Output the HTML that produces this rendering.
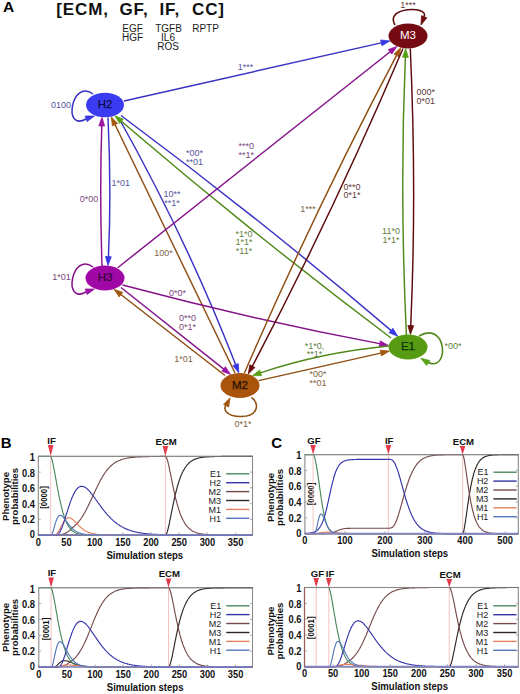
<!DOCTYPE html>
<html><head><meta charset="utf-8"><style>
html,body{margin:0;padding:0;background:#fff;width:520px;height:694px;overflow:hidden}
svg{display:block}
text{font-family:"Liberation Sans",sans-serif}
</style></head><body><svg width="520" height="694" viewBox="0 0 520 694"><rect width="520" height="694" fill="#fff"/><text x="3" y="11.9" font-size="15.5" font-weight="bold" fill="#000" font-family="Liberation Sans, sans-serif">A</text><text x="56.3" y="15.4" font-size="17" font-weight="bold" letter-spacing="0.9" fill="#111" font-family="Liberation Sans, sans-serif">[ECM,</text><text x="119.5" y="15.4" font-size="17" font-weight="bold" letter-spacing="0.9" fill="#111" font-family="Liberation Sans, sans-serif">GF,</text><text x="159.5" y="15.4" font-size="17" font-weight="bold" letter-spacing="0.9" fill="#111" font-family="Liberation Sans, sans-serif">IF,</text><text x="192" y="15.4" font-size="17" font-weight="bold" letter-spacing="0.9" fill="#111" font-family="Liberation Sans, sans-serif">CC]</text><text x="132.5" y="31.6" text-anchor="middle" font-size="10" fill="#1a1a1a" font-family="Liberation Sans, sans-serif">EGF</text><text x="132.5" y="40.9" text-anchor="middle" font-size="10" fill="#1a1a1a" font-family="Liberation Sans, sans-serif">HGF</text><text x="168.5" y="31.6" text-anchor="middle" font-size="10" fill="#1a1a1a" font-family="Liberation Sans, sans-serif">TGFB</text><text x="168" y="40.9" text-anchor="middle" font-size="10" fill="#1a1a1a" font-family="Liberation Sans, sans-serif">IL6</text><text x="168" y="49.6" text-anchor="middle" font-size="10" fill="#1a1a1a" font-family="Liberation Sans, sans-serif">ROS</text><text x="205.5" y="31.6" text-anchor="middle" font-size="10" fill="#1a1a1a" font-family="Liberation Sans, sans-serif">RPTP</text><path d="M124.0,101.0Q256.8,71.0 382.3,42.6" fill="none" stroke="#3a32c4" stroke-width="1.45"/><path d="M389.9,40.9L381.9,45.7L380.7,40.0Z" fill="#3636e2" stroke="#3636e2" stroke-width="0.8" stroke-linejoin="miter"/><path d="M108.0,117.5Q111.5,191.5 108.4,257.7" fill="none" stroke="#3a32c4" stroke-width="1.45"/><path d="M108.0,265.4L105.5,256.5L111.3,256.8Z" fill="#3636e2" stroke="#3636e2" stroke-width="0.8" stroke-linejoin="miter"/><path d="M102.0,266.0Q99.5,192.0 101.8,125.0" fill="none" stroke="#84128a" stroke-width="1.45"/><path d="M102.0,117.3L104.6,126.1L98.8,125.9Z" fill="#9c14a2" stroke="#9c14a2" stroke-width="0.8" stroke-linejoin="miter"/><path d="M118.5,117.5Q187.5,240.5 236.0,365.6" fill="none" stroke="#3a32c4" stroke-width="1.45"/><path d="M238.8,372.8L232.9,365.7L238.3,363.6Z" fill="#3636e2" stroke="#3636e2" stroke-width="0.8" stroke-linejoin="miter"/><path d="M121.0,115.5Q263.0,221.1 391.8,331.1" fill="none" stroke="#3a32c4" stroke-width="1.45"/><path d="M397.7,336.2L389.1,332.7L392.9,328.3Z" fill="#3636e2" stroke="#3636e2" stroke-width="0.8" stroke-linejoin="miter"/><path d="M391.0,338.0Q250.8,232.3 120.7,120.7" fill="none" stroke="#4e8818" stroke-width="1.45"/><path d="M114.8,115.7L123.3,119.2L119.6,123.6Z" fill="#58a016" stroke="#58a016" stroke-width="0.8" stroke-linejoin="miter"/><path d="M235.0,373.0Q173.7,246.0 114.6,123.8" fill="none" stroke="#8e4e12" stroke-width="1.45"/><path d="M111.2,116.7L117.6,123.4L112.4,125.9Z" fill="#a2580e" stroke="#a2580e" stroke-width="0.8" stroke-linejoin="miter"/><path d="M117.7,267.7Q256.6,157.6 390.8,51.2" fill="none" stroke="#84128a" stroke-width="1.45"/><path d="M396.9,46.4L391.8,54.1L388.2,49.6Z" fill="#9c14a2" stroke="#9c14a2" stroke-width="0.8" stroke-linejoin="miter"/><path d="M122.5,285.0Q254.6,320.1 380.8,343.9" fill="none" stroke="#84128a" stroke-width="1.45"/><path d="M388.5,345.4L379.3,346.6L380.3,340.9Z" fill="#9c14a2" stroke="#9c14a2" stroke-width="0.8" stroke-linejoin="miter"/><path d="M121.0,287.5Q175.5,330.8 224.4,369.6" fill="none" stroke="#84128a" stroke-width="1.45"/><path d="M230.5,374.4L221.8,371.2L225.4,366.7Z" fill="#9c14a2" stroke="#9c14a2" stroke-width="0.8" stroke-linejoin="miter"/><path d="M225.0,375.5Q170.0,332.8 120.2,294.0" fill="none" stroke="#8e4e12" stroke-width="1.45"/><path d="M114.0,289.3L122.8,292.4L119.2,296.9Z" fill="#a2580e" stroke="#a2580e" stroke-width="0.8" stroke-linejoin="miter"/><path d="M244.4,373.0Q315.9,208.0 397.0,54.6" fill="none" stroke="#8e4e12" stroke-width="1.45"/><path d="M400.7,47.7L399.1,56.8L394.0,54.1Z" fill="#a2580e" stroke="#a2580e" stroke-width="0.8" stroke-linejoin="miter"/><path d="M403.0,48.5Q332.5,214.2 251.9,367.1" fill="none" stroke="#5c0a0a" stroke-width="1.45"/><path d="M248.3,374.0L249.8,364.8L254.9,367.5Z" fill="#680c0c" stroke="#680c0c" stroke-width="0.8" stroke-linejoin="miter"/><path d="M406.4,335.0Q399.6,192.3 405.4,56.3" fill="none" stroke="#4e8818" stroke-width="1.45"/><path d="M405.7,48.5L408.3,57.4L402.5,57.2Z" fill="#58a016" stroke="#58a016" stroke-width="0.8" stroke-linejoin="miter"/><path d="M410.3,48.5Q416.8,191.2 410.7,326.6" fill="none" stroke="#5c0a0a" stroke-width="1.45"/><path d="M410.4,334.4L407.9,325.5L413.7,325.7Z" fill="#680c0c" stroke="#680c0c" stroke-width="0.8" stroke-linejoin="miter"/><path d="M388.5,346.0Q319.7,352.7 259.7,373.1" fill="none" stroke="#4e8818" stroke-width="1.45"/><path d="M252.4,375.7L259.7,370.1L261.6,375.6Z" fill="#58a016" stroke="#58a016" stroke-width="0.8" stroke-linejoin="miter"/><path d="M258.7,380.6Q324.4,365.8 381.8,352.9" fill="none" stroke="#8e4e12" stroke-width="1.45"/><path d="M389.4,351.1L381.4,355.9L380.2,350.2Z" fill="#a2580e" stroke="#a2580e" stroke-width="0.8" stroke-linejoin="miter"/><path d="M93,94 C72,78 62,132 86,119" fill="none" stroke="#3a32c4" stroke-width="1.55"/><path d="M94.5,116.0L87.1,121.5L85.2,116.0Z" fill="#3636e2" stroke="#3636e2" stroke-width="0.8" stroke-linejoin="miter"/><path d="M93,267 C72,251 62,305 86,292" fill="none" stroke="#84128a" stroke-width="1.55"/><path d="M94.5,289.0L87.1,294.5L85.2,289.0Z" fill="#9c14a2" stroke="#9c14a2" stroke-width="0.8" stroke-linejoin="miter"/><path d="M395,25 C384,6 430,6 424,16.5" fill="none" stroke="#5c0a0a" stroke-width="1.55"/><path d="M421.0,25.0L421.5,15.7L426.9,17.8Z" fill="#680c0c" stroke="#680c0c" stroke-width="0.8" stroke-linejoin="miter"/><path d="M419,336 C447,320 450,372 428,362.5" fill="none" stroke="#4e8818" stroke-width="1.55"/><path d="M420.8,358.2L429.8,360.5L426.6,365.4Z" fill="#58a016" stroke="#58a016" stroke-width="0.8" stroke-linejoin="miter"/><path d="M251.5,397.3 C260,404 258,416.5 241,416.5 C225,416.5 222.5,408 227,403.5" fill="none" stroke="#8e4e12" stroke-width="1.55"/><path d="M230.0,397.8L228.7,407.0L223.5,404.4Z" fill="#a2580e" stroke="#a2580e" stroke-width="0.8" stroke-linejoin="miter"/><ellipse cx="105" cy="105" rx="19" ry="12.2" fill="#3b3bf2"/><text x="105" y="108.2" text-anchor="middle" font-size="11.5" fill="#0d0d40" stroke="#0d0d40" stroke-width="0.25" font-family="Liberation Sans, sans-serif">H2</text><ellipse cx="408" cy="36" rx="19.5" ry="12.4" fill="#760a12"/><text x="408" y="39.2" text-anchor="middle" font-size="11.5" fill="#ffffff" stroke="#ffffff" stroke-width="0" font-family="Liberation Sans, sans-serif">M3</text><ellipse cx="105" cy="278" rx="19.5" ry="12.5" fill="#a008a6"/><text x="105" y="281.2" text-anchor="middle" font-size="11.5" fill="#330033" stroke="#330033" stroke-width="0.25" font-family="Liberation Sans, sans-serif">H3</text><ellipse cx="408" cy="347" rx="19.5" ry="12.5" fill="#579b12"/><text x="408" y="350.2" text-anchor="middle" font-size="11.5" fill="#0c300c" stroke="#0c300c" stroke-width="0.25" font-family="Liberation Sans, sans-serif">E1</text><ellipse cx="240" cy="385.5" rx="19.5" ry="12.5" fill="#a8540a"/><text x="240" y="388.7" text-anchor="middle" font-size="11.5" fill="#241000" stroke="#241000" stroke-width="0.25" font-family="Liberation Sans, sans-serif">M2</text><text x="61" y="108.2" text-anchor="middle" font-size="9" fill="#5656a0" font-family="Liberation Sans, sans-serif">0100</text><text x="245.5" y="69.9" text-anchor="middle" font-size="9" fill="#5656a0" font-family="Liberation Sans, sans-serif">1***</text><text x="120.7" y="186.2" text-anchor="middle" font-size="9" fill="#5656a0" font-family="Liberation Sans, sans-serif">1*01</text><text x="89" y="202.2" text-anchor="middle" font-size="9" fill="#7c447c" font-family="Liberation Sans, sans-serif">0*00</text><text x="194.4" y="156.2" text-anchor="middle" font-size="9" fill="#5656a0" font-family="Liberation Sans, sans-serif">*00*</text><text x="194.4" y="165.0" text-anchor="middle" font-size="9" fill="#5656a0" font-family="Liberation Sans, sans-serif">**01</text><text x="246.3" y="148.9" text-anchor="middle" font-size="9" fill="#7c447c" font-family="Liberation Sans, sans-serif">***0</text><text x="246.3" y="157.7" text-anchor="middle" font-size="9" fill="#7c447c" font-family="Liberation Sans, sans-serif">**1*</text><text x="172" y="196.7" text-anchor="middle" font-size="9" fill="#5656a0" font-family="Liberation Sans, sans-serif">10**</text><text x="172" y="205.5" text-anchor="middle" font-size="9" fill="#5656a0" font-family="Liberation Sans, sans-serif">**1*</text><text x="163.5" y="256.2" text-anchor="middle" font-size="9" fill="#7e6444" font-family="Liberation Sans, sans-serif">100*</text><text x="244" y="236.6" text-anchor="middle" font-size="9" fill="#62803e" font-family="Liberation Sans, sans-serif">*1*0</text><text x="244" y="245.4" text-anchor="middle" font-size="9" fill="#62803e" font-family="Liberation Sans, sans-serif">1*1*</text><text x="244" y="254.2" text-anchor="middle" font-size="9" fill="#62803e" font-family="Liberation Sans, sans-serif">*11*</text><text x="308" y="212.0" text-anchor="middle" font-size="9" fill="#7e6444" font-family="Liberation Sans, sans-serif">1***</text><text x="352" y="189.5" text-anchor="middle" font-size="9" fill="#5e3a3a" font-family="Liberation Sans, sans-serif">0**0</text><text x="352" y="198.3" text-anchor="middle" font-size="9" fill="#5e3a3a" font-family="Liberation Sans, sans-serif">0*1*</text><text x="391" y="234.2" text-anchor="middle" font-size="9" fill="#62803e" font-family="Liberation Sans, sans-serif">11*0</text><text x="391" y="243.0" text-anchor="middle" font-size="9" fill="#62803e" font-family="Liberation Sans, sans-serif">1*1*</text><text x="425.7" y="95.0" text-anchor="middle" font-size="9" fill="#5e3a3a" font-family="Liberation Sans, sans-serif">000*</text><text x="425.7" y="103.8" text-anchor="middle" font-size="9" fill="#5e3a3a" font-family="Liberation Sans, sans-serif">0*01</text><text x="408" y="7.7" text-anchor="middle" font-size="9" fill="#5e3a3a" font-family="Liberation Sans, sans-serif">1***</text><text x="61.6" y="280.2" text-anchor="middle" font-size="9" fill="#7c447c" font-family="Liberation Sans, sans-serif">1*01</text><text x="177.5" y="295.7" text-anchor="middle" font-size="9" fill="#7c447c" font-family="Liberation Sans, sans-serif">0*0*</text><text x="187.5" y="320.7" text-anchor="middle" font-size="9" fill="#7c447c" font-family="Liberation Sans, sans-serif">0**0</text><text x="187.5" y="329.5" text-anchor="middle" font-size="9" fill="#7c447c" font-family="Liberation Sans, sans-serif">0*1*</text><text x="183.5" y="362.2" text-anchor="middle" font-size="9" fill="#7e6444" font-family="Liberation Sans, sans-serif">1*01</text><text x="314.6" y="348.6" text-anchor="middle" font-size="9" fill="#62803e" font-family="Liberation Sans, sans-serif">*1*0,</text><text x="314.6" y="357.4" text-anchor="middle" font-size="9" fill="#62803e" font-family="Liberation Sans, sans-serif">**1*</text><text x="318" y="377.2" text-anchor="middle" font-size="9" fill="#7e6444" font-family="Liberation Sans, sans-serif">*00*</text><text x="318" y="386.0" text-anchor="middle" font-size="9" fill="#7e6444" font-family="Liberation Sans, sans-serif">**01</text><text x="453" y="349.2" text-anchor="middle" font-size="9" fill="#62803e" font-family="Liberation Sans, sans-serif">*00*</text><text x="243" y="426.9" text-anchor="middle" font-size="9" fill="#7e6444" font-family="Liberation Sans, sans-serif">0*1*</text><rect x="38.3" y="456.4" width="214.2" height="78.60000000000002" fill="none" stroke="#8a8a8a" stroke-width="1.1"/><line x1="38.3" y1="535.0" x2="40.8" y2="535.0" stroke="#9a9a9a" stroke-width="0.8"/><line x1="252.5" y1="535.0" x2="250.0" y2="535.0" stroke="#9a9a9a" stroke-width="0.8"/><text transform="translate(35,538.3) scale(1,1.12)" text-anchor="end" font-size="9.3" font-weight="bold" fill="#111" font-family="Liberation Sans, sans-serif">0</text><line x1="38.3" y1="519.3" x2="40.8" y2="519.3" stroke="#9a9a9a" stroke-width="0.8"/><line x1="252.5" y1="519.3" x2="250.0" y2="519.3" stroke="#9a9a9a" stroke-width="0.8"/><text transform="translate(35,522.9) scale(1,1.12)" text-anchor="end" font-size="9.3" font-weight="bold" fill="#111" font-family="Liberation Sans, sans-serif">0.2</text><line x1="38.3" y1="503.6" x2="40.8" y2="503.6" stroke="#9a9a9a" stroke-width="0.8"/><line x1="252.5" y1="503.6" x2="250.0" y2="503.6" stroke="#9a9a9a" stroke-width="0.8"/><text transform="translate(35,507.5) scale(1,1.12)" text-anchor="end" font-size="9.3" font-weight="bold" fill="#111" font-family="Liberation Sans, sans-serif">0.4</text><line x1="38.3" y1="487.8" x2="40.8" y2="487.8" stroke="#9a9a9a" stroke-width="0.8"/><line x1="252.5" y1="487.8" x2="250.0" y2="487.8" stroke="#9a9a9a" stroke-width="0.8"/><text transform="translate(35,492.0) scale(1,1.12)" text-anchor="end" font-size="9.3" font-weight="bold" fill="#111" font-family="Liberation Sans, sans-serif">0.6</text><line x1="38.3" y1="472.1" x2="40.8" y2="472.1" stroke="#9a9a9a" stroke-width="0.8"/><line x1="252.5" y1="472.1" x2="250.0" y2="472.1" stroke="#9a9a9a" stroke-width="0.8"/><text transform="translate(35,476.6) scale(1,1.12)" text-anchor="end" font-size="9.3" font-weight="bold" fill="#111" font-family="Liberation Sans, sans-serif">0.8</text><line x1="38.3" y1="456.4" x2="40.8" y2="456.4" stroke="#9a9a9a" stroke-width="0.8"/><line x1="252.5" y1="456.4" x2="250.0" y2="456.4" stroke="#9a9a9a" stroke-width="0.8"/><text transform="translate(35,461.2) scale(1,1.12)" text-anchor="end" font-size="9.3" font-weight="bold" fill="#111" font-family="Liberation Sans, sans-serif">1</text><line x1="38.3" y1="535" x2="38.3" y2="532.5" stroke="#9a9a9a" stroke-width="0.8"/><text transform="translate(38.3,545.5) scale(1,1.12)" text-anchor="middle" font-size="9.3" font-weight="bold" fill="#111" font-family="Liberation Sans, sans-serif">0</text><line x1="66.5" y1="535" x2="66.5" y2="532.5" stroke="#9a9a9a" stroke-width="0.8"/><text transform="translate(66.5,545.5) scale(1,1.12)" text-anchor="middle" font-size="9.3" font-weight="bold" fill="#111" font-family="Liberation Sans, sans-serif">50</text><line x1="94.7" y1="535" x2="94.7" y2="532.5" stroke="#9a9a9a" stroke-width="0.8"/><text transform="translate(94.7,545.5) scale(1,1.12)" text-anchor="middle" font-size="9.3" font-weight="bold" fill="#111" font-family="Liberation Sans, sans-serif">100</text><line x1="122.9" y1="535" x2="122.9" y2="532.5" stroke="#9a9a9a" stroke-width="0.8"/><text transform="translate(122.9,545.5) scale(1,1.12)" text-anchor="middle" font-size="9.3" font-weight="bold" fill="#111" font-family="Liberation Sans, sans-serif">150</text><line x1="151.0" y1="535" x2="151.0" y2="532.5" stroke="#9a9a9a" stroke-width="0.8"/><text transform="translate(151.0,545.5) scale(1,1.12)" text-anchor="middle" font-size="9.3" font-weight="bold" fill="#111" font-family="Liberation Sans, sans-serif">200</text><line x1="179.2" y1="535" x2="179.2" y2="532.5" stroke="#9a9a9a" stroke-width="0.8"/><text transform="translate(179.2,545.5) scale(1,1.12)" text-anchor="middle" font-size="9.3" font-weight="bold" fill="#111" font-family="Liberation Sans, sans-serif">250</text><line x1="207.4" y1="535" x2="207.4" y2="532.5" stroke="#9a9a9a" stroke-width="0.8"/><text transform="translate(207.4,545.5) scale(1,1.12)" text-anchor="middle" font-size="9.3" font-weight="bold" fill="#111" font-family="Liberation Sans, sans-serif">300</text><line x1="235.6" y1="535" x2="235.6" y2="532.5" stroke="#9a9a9a" stroke-width="0.8"/><text transform="translate(235.6,545.5) scale(1,1.12)" text-anchor="middle" font-size="9.3" font-weight="bold" fill="#111" font-family="Liberation Sans, sans-serif">350</text><text transform="translate(144.8,558.5) scale(1,1.14)" text-anchor="middle" font-size="9.6" font-weight="bold" fill="#111" font-family="Liberation Sans, sans-serif">Simulation steps</text><text transform="translate(5.2,496.5) rotate(-90)" x="0" y="3.3" text-anchor="middle" font-size="9.6" font-weight="bold" fill="#111" font-family="Liberation Sans, sans-serif">Phenotype</text><text transform="translate(14.5,496.5) rotate(-90)" x="0" y="3.3" text-anchor="middle" font-size="9.6" font-weight="bold" fill="#111" font-family="Liberation Sans, sans-serif">probabilities</text><text transform="translate(44.0,497.5) rotate(-90) scale(0.82,1)" x="0" y="3.4" text-anchor="middle" font-size="9.6" font-weight="bold" fill="#111" font-family="Liberation Sans, sans-serif">[0000]</text><line x1="50.7" y1="456.4" x2="50.7" y2="535" stroke="#f4b4b4" stroke-width="0.8"/><line x1="165.4" y1="456.4" x2="165.4" y2="535" stroke="#f4b4b4" stroke-width="0.8"/><polyline points="38.3,535.0 38.8,535.0 39.4,535.0 39.9,535.0 40.4,535.0 41.0,535.0 41.5,535.0 42.0,535.0 42.6,535.0 43.1,535.0 43.7,535.0 44.2,535.0 44.7,535.0 45.3,535.0 45.8,535.0 46.3,535.0 46.9,535.0 47.4,535.0 47.9,535.0 48.5,535.0 49.0,535.0 49.5,535.0 50.1,535.0 50.6,535.0 51.2,535.0 51.7,535.0 52.2,535.0 52.8,535.0 53.3,535.0 53.8,535.0 54.4,535.0 54.9,535.0 55.4,535.0 56.0,535.0 56.5,535.0 57.0,535.0 57.6,535.0 58.1,535.0 58.6,535.0 59.2,535.0 59.7,535.0 60.3,535.0 60.8,535.0 61.3,535.0 61.9,535.0 62.4,535.0 62.9,535.0 63.5,535.0 64.0,535.0 64.5,535.0 65.1,535.0 65.6,535.0 66.1,535.0 66.7,535.0 67.2,535.0 67.8,535.0 68.3,535.0 68.8,535.0 69.4,535.0 69.9,535.0 70.4,535.0 71.0,535.0 71.5,535.0 72.0,535.0 72.6,535.0 73.1,535.0 73.6,535.0 74.2,535.0 74.7,535.0 75.2,535.0 75.8,535.0 76.3,535.0 76.9,535.0 77.4,535.0 77.9,535.0 78.5,535.0 79.0,535.0 79.5,535.0 80.1,535.0 80.6,535.0 81.1,535.0 81.7,535.0 82.2,535.0 82.7,535.0 83.3,535.0 83.8,535.0 84.4,535.0 84.9,535.0 85.4,535.0 86.0,535.0 86.5,535.0 87.0,535.0 87.6,535.0 88.1,535.0 88.6,535.0 89.2,535.0 89.7,535.0 90.2,535.0 90.8,535.0 91.3,535.0 91.8,535.0 92.4,535.0 92.9,535.0 93.5,535.0 94.0,535.0 94.5,535.0 95.1,535.0 95.6,535.0 96.1,535.0 96.7,535.0 97.2,535.0 97.7,535.0 98.3,535.0 98.8,535.0 99.3,535.0 99.9,535.0 100.4,535.0 101.0,535.0 101.5,535.0 102.0,535.0 102.6,535.0 103.1,535.0 103.6,535.0 104.2,535.0 104.7,535.0 105.2,535.0 105.8,535.0 106.3,535.0 106.8,535.0 107.4,535.0 107.9,535.0 108.5,535.0 109.0,535.0 109.5,535.0 110.1,535.0 110.6,535.0 111.1,535.0 111.7,535.0 112.2,535.0 112.7,535.0 113.3,535.0 113.8,535.0 114.3,535.0 114.9,535.0 115.4,535.0 115.9,535.0 116.5,535.0 117.0,535.0 117.6,535.0 118.1,535.0 118.6,535.0 119.2,535.0 119.7,535.0 120.2,535.0 120.8,535.0 121.3,535.0 121.8,535.0 122.4,535.0 122.9,535.0 123.4,535.0 124.0,535.0 124.5,535.0 125.1,535.0 125.6,535.0 126.1,535.0 126.7,535.0 127.2,535.0 127.7,535.0 128.3,535.0 128.8,535.0 129.3,535.0 129.9,535.0 130.4,535.0 130.9,535.0 131.5,535.0 132.0,535.0 132.5,535.0 133.1,535.0 133.6,535.0 134.2,535.0 134.7,535.0 135.2,535.0 135.8,535.0 136.3,535.0 136.8,535.0 137.4,535.0 137.9,535.0 138.4,535.0 139.0,535.0 139.5,535.0 140.0,535.0 140.6,535.0 141.1,535.0 141.7,535.0 142.2,535.0 142.7,535.0 143.3,535.0 143.8,535.0 144.3,535.0 144.9,535.0 145.4,535.0 145.9,535.0 146.5,535.0 147.0,535.0 147.5,535.0 148.1,535.0 148.6,535.0 149.1,535.0 149.7,535.0 150.2,535.0 150.8,535.0 151.3,535.0 151.8,535.0 152.4,535.0 152.9,535.0 153.4,535.0 154.0,535.0 154.5,535.0 155.0,535.0 155.6,535.0 156.1,535.0 156.6,535.0 157.2,535.0 157.7,535.0 158.3,535.0 158.8,535.0 159.3,535.0 159.9,535.0 160.4,535.0 160.9,535.0 161.5,535.0 162.0,535.0 162.5,535.0 163.1,535.0 163.6,535.0 164.1,535.0 164.7,535.0 165.2,535.0 165.7,534.9 166.3,534.2 166.8,533.0 167.4,531.4 167.9,529.5 168.4,527.3 169.0,525.0 169.5,522.5 170.0,519.9 170.6,517.2 171.1,514.5 171.6,511.8 172.2,509.2 172.7,506.5 173.2,503.9 173.8,501.4 174.3,499.0 174.9,496.6 175.4,494.3 175.9,492.1 176.5,490.0 177.0,488.0 177.5,486.1 178.1,484.3 178.6,482.5 179.1,480.9 179.7,479.3 180.2,477.8 180.7,476.4 181.3,475.1 181.8,473.9 182.3,472.7 182.9,471.6 183.4,470.6 184.0,469.6 184.5,468.7 185.0,467.8 185.6,467.0 186.1,466.3 186.6,465.6 187.2,464.9 187.7,464.3 188.2,463.8 188.8,463.2 189.3,462.7 189.8,462.3 190.4,461.9 190.9,461.5 191.5,461.1 192.0,460.7 192.5,460.4 193.1,460.1 193.6,459.8 194.1,459.6 194.7,459.4 195.2,459.1 195.7,458.9 196.3,458.7 196.8,458.6 197.3,458.4 197.9,458.2 198.4,458.1 198.9,458.0 199.5,457.9 200.0,457.7 200.6,457.6 201.1,457.5 201.6,457.5 202.2,457.4 202.7,457.3 203.2,457.2 203.8,457.2 204.3,457.1 204.8,457.0 205.4,457.0 205.9,457.0 206.4,456.9 207.0,456.9 207.5,456.8 208.1,456.8 208.6,456.8 209.1,456.7 209.7,456.7 210.2,456.7 210.7,456.7 211.3,456.6 211.8,456.6 212.3,456.6 212.9,456.6 213.4,456.6 213.9,456.6 214.5,456.5 215.0,456.5 215.6,456.5 216.1,456.5 216.6,456.5 217.2,456.5 217.7,456.5 218.2,456.5 218.8,456.5 219.3,456.5 219.8,456.5 220.4,456.5 220.9,456.5 221.4,456.4 222.0,456.4 222.5,456.4 223.0,456.4 223.6,456.4 224.1,456.4 224.7,456.4 225.2,456.4 225.7,456.4 226.3,456.4 226.8,456.4 227.3,456.4 227.9,456.4 228.4,456.4 228.9,456.4 229.5,456.4 230.0,456.4 230.5,456.4 231.1,456.4 231.6,456.4 232.2,456.4 232.7,456.4 233.2,456.4 233.8,456.4 234.3,456.4 234.8,456.4 235.4,456.4 235.9,456.4 236.4,456.4 237.0,456.4 237.5,456.4 238.0,456.4 238.6,456.4 239.1,456.4 239.6,456.4 240.2,456.4 240.7,456.4 241.3,456.4 241.8,456.4 242.3,456.4 242.9,456.4 243.4,456.4 243.9,456.4 244.5,456.4 245.0,456.4 245.5,456.4 246.1,456.4 246.6,456.4 247.1,456.4 247.7,456.4 248.2,456.4 248.8,456.4 249.3,456.4 249.8,456.4 250.4,456.4 250.9,456.4 251.4,456.4 252.0,456.4 252.5,456.4" fill="none" stroke="#302626" stroke-width="1.15"/><polyline points="38.3,535.0 38.8,535.0 39.4,535.0 39.9,535.0 40.4,535.0 41.0,535.0 41.5,535.0 42.0,535.0 42.6,535.0 43.1,535.0 43.7,535.0 44.2,535.0 44.7,535.0 45.3,535.0 45.8,535.0 46.3,535.0 46.9,535.0 47.4,535.0 47.9,535.0 48.5,535.0 49.0,535.0 49.5,535.0 50.1,535.0 50.6,535.0 51.2,535.0 51.7,535.0 52.2,535.0 52.8,535.0 53.3,535.0 53.8,535.0 54.4,535.0 54.9,535.0 55.4,535.0 56.0,535.0 56.5,535.0 57.0,535.0 57.6,535.0 58.1,535.0 58.6,534.9 59.2,534.9 59.7,534.8 60.3,534.7 60.8,534.6 61.3,534.5 61.9,534.3 62.4,534.2 62.9,534.1 63.5,533.9 64.0,533.7 64.5,533.5 65.1,533.3 65.6,533.1 66.1,532.8 66.7,532.5 67.2,532.2 67.8,531.9 68.3,531.5 68.8,531.1 69.4,530.7 69.9,530.2 70.4,529.8 71.0,529.2 71.5,528.6 72.0,528.0 72.6,527.6 73.1,527.2 73.6,526.8 74.2,526.3 74.7,525.8 75.2,525.3 75.8,524.8 76.3,524.3 76.9,523.7 77.4,523.1 77.9,522.5 78.5,521.9 79.0,521.2 79.5,520.6 80.1,519.8 80.6,519.1 81.1,518.3 81.7,517.5 82.2,516.7 82.7,515.9 83.3,515.0 83.8,514.1 84.4,513.2 84.9,512.2 85.4,511.3 86.0,510.3 86.5,509.2 87.0,508.2 87.6,507.1 88.1,506.1 88.6,505.0 89.2,503.9 89.7,502.7 90.2,501.6 90.8,500.5 91.3,499.3 91.8,498.2 92.4,497.0 92.9,495.8 93.5,494.7 94.0,493.5 94.5,492.3 95.1,491.2 95.6,490.0 96.1,488.9 96.7,487.8 97.2,486.7 97.7,485.6 98.3,484.5 98.8,483.4 99.3,482.4 99.9,481.3 100.4,480.3 101.0,479.4 101.5,478.4 102.0,477.5 102.6,476.6 103.1,475.7 103.6,474.9 104.2,474.0 104.7,473.2 105.2,472.5 105.8,471.7 106.3,471.0 106.8,470.3 107.4,469.6 107.9,469.0 108.5,468.4 109.0,467.8 109.5,467.2 110.1,466.7 110.6,466.2 111.1,465.7 111.7,465.2 112.2,464.7 112.7,464.3 113.3,463.9 113.8,463.5 114.3,463.1 114.9,462.8 115.4,462.4 115.9,462.1 116.5,461.8 117.0,461.5 117.6,461.2 118.1,461.0 118.6,460.7 119.2,460.5 119.7,460.3 120.2,460.1 120.8,459.8 121.3,459.7 121.8,459.5 122.4,459.3 122.9,459.1 123.4,459.0 124.0,458.8 124.5,458.7 125.1,458.6 125.6,458.5 126.1,458.3 126.7,458.2 127.2,458.1 127.7,458.0 128.3,457.9 128.8,457.9 129.3,457.8 129.9,457.7 130.4,457.6 130.9,457.6 131.5,457.5 132.0,457.4 132.5,457.4 133.1,457.3 133.6,457.3 134.2,457.2 134.7,457.2 135.2,457.1 135.8,457.1 136.3,457.0 136.8,457.0 137.4,457.0 137.9,456.9 138.4,456.9 139.0,456.9 139.5,456.8 140.0,456.8 140.6,456.8 141.1,456.8 141.7,456.8 142.2,456.7 142.7,456.7 143.3,456.7 143.8,456.7 144.3,456.7 144.9,456.6 145.4,456.6 145.9,456.6 146.5,456.6 147.0,456.6 147.5,456.6 148.1,456.6 148.6,456.6 149.1,456.6 149.7,456.5 150.2,456.5 150.8,456.5 151.3,456.5 151.8,456.5 152.4,456.5 152.9,456.5 153.4,456.5 154.0,456.5 154.5,456.5 155.0,456.5 155.6,456.5 156.1,456.5 156.6,456.5 157.2,456.5 157.7,456.5 158.3,456.5 158.8,456.5 159.3,456.5 159.9,456.4 160.4,456.4 160.9,456.4 161.5,456.4 162.0,456.4 162.5,456.4 163.1,456.4 163.6,456.4 164.1,456.4 164.7,456.4 165.2,456.4 165.7,456.5 166.3,457.2 166.8,458.4 167.4,460.0 167.9,461.9 168.4,464.1 169.0,466.4 169.5,468.9 170.0,471.5 170.6,474.2 171.1,476.9 171.6,479.6 172.2,482.2 172.7,484.9 173.2,487.5 173.8,490.0 174.3,492.4 174.9,494.8 175.4,497.1 175.9,499.3 176.5,501.4 177.0,503.4 177.5,505.3 178.1,507.1 178.6,508.9 179.1,510.5 179.7,512.1 180.2,513.6 180.7,515.0 181.3,516.3 181.8,517.5 182.3,518.7 182.9,519.8 183.4,520.8 184.0,521.8 184.5,522.7 185.0,523.6 185.6,524.4 186.1,525.1 186.6,525.8 187.2,526.5 187.7,527.1 188.2,527.6 188.8,528.2 189.3,528.7 189.8,529.1 190.4,529.5 190.9,529.9 191.5,530.3 192.0,530.7 192.5,531.0 193.1,531.3 193.6,531.6 194.1,531.8 194.7,532.0 195.2,532.3 195.7,532.5 196.3,532.7 196.8,532.8 197.3,533.0 197.9,533.2 198.4,533.3 198.9,533.4 199.5,533.5 200.0,533.7 200.6,533.8 201.1,533.9 201.6,533.9 202.2,534.0 202.7,534.1 203.2,534.2 203.8,534.2 204.3,534.3 204.8,534.4 205.4,534.4 205.9,534.4 206.4,534.5 207.0,534.5 207.5,534.6 208.1,534.6 208.6,534.6 209.1,534.7 209.7,534.7 210.2,534.7 210.7,534.7 211.3,534.8 211.8,534.8 212.3,534.8 212.9,534.8 213.4,534.8 213.9,534.8 214.5,534.9 215.0,534.9 215.6,534.9 216.1,534.9 216.6,534.9 217.2,534.9 217.7,534.9 218.2,534.9 218.8,534.9 219.3,534.9 219.8,534.9 220.4,534.9 220.9,534.9 221.4,535.0 222.0,535.0 222.5,535.0 223.0,535.0 223.6,535.0 224.1,535.0 224.7,535.0 225.2,535.0 225.7,535.0 226.3,535.0 226.8,535.0 227.3,535.0 227.9,535.0 228.4,535.0 228.9,535.0 229.5,535.0 230.0,535.0 230.5,535.0 231.1,535.0 231.6,535.0 232.2,535.0 232.7,535.0 233.2,535.0 233.8,535.0 234.3,535.0 234.8,535.0 235.4,535.0 235.9,535.0 236.4,535.0 237.0,535.0 237.5,535.0 238.0,535.0 238.6,535.0 239.1,535.0 239.6,535.0 240.2,535.0 240.7,535.0 241.3,535.0 241.8,535.0 242.3,535.0 242.9,535.0 243.4,535.0 243.9,535.0 244.5,535.0 245.0,535.0 245.5,535.0 246.1,535.0 246.6,535.0 247.1,535.0 247.7,535.0 248.2,535.0 248.8,535.0 249.3,535.0 249.8,535.0 250.4,535.0 250.9,535.0 251.4,535.0 252.0,535.0 252.5,535.0" fill="none" stroke="#744a4a" stroke-width="1.15"/><polyline points="38.3,456.4 38.8,456.4 39.4,456.4 39.9,456.4 40.4,456.4 41.0,456.4 41.5,456.4 42.0,456.4 42.6,456.4 43.1,456.4 43.7,456.4 44.2,456.4 44.7,456.4 45.3,456.4 45.8,456.4 46.3,456.4 46.9,456.4 47.4,456.4 47.9,456.4 48.5,456.4 49.0,456.4 49.5,456.4 50.1,456.4 50.6,456.4 51.2,457.1 51.7,458.6 52.2,460.6 52.8,462.9 53.3,465.4 53.8,468.1 54.4,470.9 54.9,473.8 55.4,476.8 56.0,479.7 56.5,482.7 57.0,485.6 57.6,488.5 58.1,491.3 58.6,494.1 59.2,496.7 59.7,499.3 60.3,501.7 60.8,504.1 61.3,506.3 61.9,508.4 62.4,510.5 62.9,512.4 63.5,514.2 64.0,515.9 64.5,517.4 65.1,518.9 65.6,520.3 66.1,521.6 66.7,522.8 67.2,523.9 67.8,524.9 68.3,525.8 68.8,526.7 69.4,527.5 69.9,528.2 70.4,528.9 71.0,529.5 71.5,530.0 72.0,530.5 72.6,531.0 73.1,531.4 73.6,531.8 74.2,532.1 74.7,532.4 75.2,532.7 75.8,533.0 76.3,533.2 76.9,533.4 77.4,533.6 77.9,533.7 78.5,533.9 79.0,534.0 79.5,534.1 80.1,534.2 80.6,534.3 81.1,534.4 81.7,534.5 82.2,534.5 82.7,534.6 83.3,534.6 83.8,534.7 84.4,534.7 84.9,534.8 85.4,534.8 86.0,534.8 86.5,534.8 87.0,534.9 87.6,534.9 88.1,534.9 88.6,534.9 89.2,534.9 89.7,534.9 90.2,534.9 90.8,535.0 91.3,535.0 91.8,535.0 92.4,535.0 92.9,535.0 93.5,535.0 94.0,535.0 94.5,535.0 95.1,535.0 95.6,535.0 96.1,535.0 96.7,535.0 97.2,535.0 97.7,535.0 98.3,535.0 98.8,535.0 99.3,535.0 99.9,535.0 100.4,535.0 101.0,535.0 101.5,535.0 102.0,535.0 102.6,535.0 103.1,535.0 103.6,535.0 104.2,535.0 104.7,535.0 105.2,535.0 105.8,535.0 106.3,535.0 106.8,535.0 107.4,535.0 107.9,535.0 108.5,535.0 109.0,535.0 109.5,535.0 110.1,535.0 110.6,535.0 111.1,535.0 111.7,535.0 112.2,535.0 112.7,535.0 113.3,535.0 113.8,535.0 114.3,535.0 114.9,535.0 115.4,535.0 115.9,535.0 116.5,535.0 117.0,535.0 117.6,535.0 118.1,535.0 118.6,535.0 119.2,535.0 119.7,535.0 120.2,535.0 120.8,535.0 121.3,535.0 121.8,535.0 122.4,535.0 122.9,535.0 123.4,535.0 124.0,535.0 124.5,535.0 125.1,535.0 125.6,535.0 126.1,535.0 126.7,535.0 127.2,535.0 127.7,535.0 128.3,535.0 128.8,535.0 129.3,535.0 129.9,535.0 130.4,535.0 130.9,535.0 131.5,535.0 132.0,535.0 132.5,535.0 133.1,535.0 133.6,535.0 134.2,535.0 134.7,535.0 135.2,535.0 135.8,535.0 136.3,535.0 136.8,535.0 137.4,535.0 137.9,535.0 138.4,535.0 139.0,535.0 139.5,535.0 140.0,535.0 140.6,535.0 141.1,535.0 141.7,535.0 142.2,535.0 142.7,535.0 143.3,535.0 143.8,535.0 144.3,535.0 144.9,535.0 145.4,535.0 145.9,535.0 146.5,535.0 147.0,535.0 147.5,535.0 148.1,535.0 148.6,535.0 149.1,535.0 149.7,535.0 150.2,535.0 150.8,535.0 151.3,535.0 151.8,535.0 152.4,535.0 152.9,535.0 153.4,535.0 154.0,535.0 154.5,535.0 155.0,535.0 155.6,535.0 156.1,535.0 156.6,535.0 157.2,535.0 157.7,535.0 158.3,535.0 158.8,535.0 159.3,535.0 159.9,535.0 160.4,535.0 160.9,535.0 161.5,535.0 162.0,535.0 162.5,535.0 163.1,535.0 163.6,535.0 164.1,535.0 164.7,535.0 165.2,535.0 165.7,535.0 166.3,535.0 166.8,535.0 167.4,535.0 167.9,535.0 168.4,535.0 169.0,535.0 169.5,535.0 170.0,535.0 170.6,535.0 171.1,535.0 171.6,535.0 172.2,535.0 172.7,535.0 173.2,535.0 173.8,535.0 174.3,535.0 174.9,535.0 175.4,535.0 175.9,535.0 176.5,535.0 177.0,535.0 177.5,535.0 178.1,535.0 178.6,535.0 179.1,535.0 179.7,535.0 180.2,535.0 180.7,535.0 181.3,535.0 181.8,535.0 182.3,535.0 182.9,535.0 183.4,535.0 184.0,535.0 184.5,535.0 185.0,535.0 185.6,535.0 186.1,535.0 186.6,535.0 187.2,535.0 187.7,535.0 188.2,535.0 188.8,535.0 189.3,535.0 189.8,535.0 190.4,535.0 190.9,535.0 191.5,535.0 192.0,535.0 192.5,535.0 193.1,535.0 193.6,535.0 194.1,535.0 194.7,535.0 195.2,535.0 195.7,535.0 196.3,535.0 196.8,535.0 197.3,535.0 197.9,535.0 198.4,535.0 198.9,535.0 199.5,535.0 200.0,535.0 200.6,535.0 201.1,535.0 201.6,535.0 202.2,535.0 202.7,535.0 203.2,535.0 203.8,535.0 204.3,535.0 204.8,535.0 205.4,535.0 205.9,535.0 206.4,535.0 207.0,535.0 207.5,535.0 208.1,535.0 208.6,535.0 209.1,535.0 209.7,535.0 210.2,535.0 210.7,535.0 211.3,535.0 211.8,535.0 212.3,535.0 212.9,535.0 213.4,535.0 213.9,535.0 214.5,535.0 215.0,535.0 215.6,535.0 216.1,535.0 216.6,535.0 217.2,535.0 217.7,535.0 218.2,535.0 218.8,535.0 219.3,535.0 219.8,535.0 220.4,535.0 220.9,535.0 221.4,535.0 222.0,535.0 222.5,535.0 223.0,535.0 223.6,535.0 224.1,535.0 224.7,535.0 225.2,535.0 225.7,535.0 226.3,535.0 226.8,535.0 227.3,535.0 227.9,535.0 228.4,535.0 228.9,535.0 229.5,535.0 230.0,535.0 230.5,535.0 231.1,535.0 231.6,535.0 232.2,535.0 232.7,535.0 233.2,535.0 233.8,535.0 234.3,535.0 234.8,535.0 235.4,535.0 235.9,535.0 236.4,535.0 237.0,535.0 237.5,535.0 238.0,535.0 238.6,535.0 239.1,535.0 239.6,535.0 240.2,535.0 240.7,535.0 241.3,535.0 241.8,535.0 242.3,535.0 242.9,535.0 243.4,535.0 243.9,535.0 244.5,535.0 245.0,535.0 245.5,535.0 246.1,535.0 246.6,535.0 247.1,535.0 247.7,535.0 248.2,535.0 248.8,535.0 249.3,535.0 249.8,535.0 250.4,535.0 250.9,535.0 251.4,535.0 252.0,535.0 252.5,535.0" fill="none" stroke="#4a8a5c" stroke-width="1.15"/><polyline points="38.3,535.0 38.8,535.0 39.4,535.0 39.9,535.0 40.4,535.0 41.0,535.0 41.5,535.0 42.0,535.0 42.6,535.0 43.1,535.0 43.7,535.0 44.2,535.0 44.7,535.0 45.3,535.0 45.8,535.0 46.3,535.0 46.9,535.0 47.4,535.0 47.9,535.0 48.5,535.0 49.0,535.0 49.5,535.0 50.1,535.0 50.6,535.0 51.2,535.0 51.7,535.0 52.2,535.0 52.8,535.0 53.3,535.0 53.8,535.0 54.4,534.9 54.9,534.8 55.4,534.7 56.0,534.4 56.5,534.0 57.0,533.5 57.6,532.9 58.1,532.1 58.6,531.3 59.2,530.4 59.7,529.4 60.3,528.4 60.8,527.3 61.3,526.2 61.9,525.2 62.4,524.1 62.9,523.1 63.5,522.2 64.0,521.3 64.5,520.6 65.1,519.9 65.6,519.3 66.1,518.8 66.7,518.4 67.2,518.1 67.8,517.9 68.3,517.7 68.8,517.7 69.4,517.8 69.9,517.9 70.4,518.1 71.0,518.4 71.5,518.7 72.0,519.1 72.6,519.5 73.1,519.9 73.6,520.4 74.2,520.9 74.7,521.4 75.2,522.0 75.8,522.5 76.3,523.1 76.9,523.6 77.4,524.2 77.9,524.7 78.5,525.3 79.0,525.8 79.5,526.3 80.1,526.8 80.6,527.3 81.1,527.8 81.7,528.2 82.2,528.7 82.7,529.1 83.3,529.5 83.8,529.8 84.4,530.2 84.9,530.5 85.4,530.9 86.0,531.2 86.5,531.4 87.0,531.7 87.6,531.9 88.1,532.2 88.6,532.4 89.2,532.6 89.7,532.8 90.2,533.0 90.8,533.1 91.3,533.3 91.8,533.4 92.4,533.6 92.9,533.7 93.5,533.8 94.0,533.9 94.5,534.0 95.1,534.1 95.6,534.2 96.1,534.2 96.7,534.3 97.2,534.4 97.7,534.4 98.3,534.5 98.8,534.5 99.3,534.6 99.9,534.6 100.4,534.6 101.0,534.7 101.5,534.7 102.0,534.7 102.6,534.8 103.1,534.8 103.6,534.8 104.2,534.8 104.7,534.8 105.2,534.9 105.8,534.9 106.3,534.9 106.8,534.9 107.4,534.9 107.9,534.9 108.5,534.9 109.0,534.9 109.5,534.9 110.1,534.9 110.6,534.9 111.1,535.0 111.7,535.0 112.2,535.0 112.7,535.0 113.3,535.0 113.8,535.0 114.3,535.0 114.9,535.0 115.4,535.0 115.9,535.0 116.5,535.0 117.0,535.0 117.6,535.0 118.1,535.0 118.6,535.0 119.2,535.0 119.7,535.0 120.2,535.0 120.8,535.0 121.3,535.0 121.8,535.0 122.4,535.0 122.9,535.0 123.4,535.0 124.0,535.0 124.5,535.0 125.1,535.0 125.6,535.0 126.1,535.0 126.7,535.0 127.2,535.0 127.7,535.0 128.3,535.0 128.8,535.0 129.3,535.0 129.9,535.0 130.4,535.0 130.9,535.0 131.5,535.0 132.0,535.0 132.5,535.0 133.1,535.0 133.6,535.0 134.2,535.0 134.7,535.0 135.2,535.0 135.8,535.0 136.3,535.0 136.8,535.0 137.4,535.0 137.9,535.0 138.4,535.0 139.0,535.0 139.5,535.0 140.0,535.0 140.6,535.0 141.1,535.0 141.7,535.0 142.2,535.0 142.7,535.0 143.3,535.0 143.8,535.0 144.3,535.0 144.9,535.0 145.4,535.0 145.9,535.0 146.5,535.0 147.0,535.0 147.5,535.0 148.1,535.0 148.6,535.0 149.1,535.0 149.7,535.0 150.2,535.0 150.8,535.0 151.3,535.0 151.8,535.0 152.4,535.0 152.9,535.0 153.4,535.0 154.0,535.0 154.5,535.0 155.0,535.0 155.6,535.0 156.1,535.0 156.6,535.0 157.2,535.0 157.7,535.0 158.3,535.0 158.8,535.0 159.3,535.0 159.9,535.0 160.4,535.0 160.9,535.0 161.5,535.0 162.0,535.0 162.5,535.0 163.1,535.0 163.6,535.0 164.1,535.0 164.7,535.0 165.2,535.0 165.7,535.0 166.3,535.0 166.8,535.0 167.4,535.0 167.9,535.0 168.4,535.0 169.0,535.0 169.5,535.0 170.0,535.0 170.6,535.0 171.1,535.0 171.6,535.0 172.2,535.0 172.7,535.0 173.2,535.0 173.8,535.0 174.3,535.0 174.9,535.0 175.4,535.0 175.9,535.0 176.5,535.0 177.0,535.0 177.5,535.0 178.1,535.0 178.6,535.0 179.1,535.0 179.7,535.0 180.2,535.0 180.7,535.0 181.3,535.0 181.8,535.0 182.3,535.0 182.9,535.0 183.4,535.0 184.0,535.0 184.5,535.0 185.0,535.0 185.6,535.0 186.1,535.0 186.6,535.0 187.2,535.0 187.7,535.0 188.2,535.0 188.8,535.0 189.3,535.0 189.8,535.0 190.4,535.0 190.9,535.0 191.5,535.0 192.0,535.0 192.5,535.0 193.1,535.0 193.6,535.0 194.1,535.0 194.7,535.0 195.2,535.0 195.7,535.0 196.3,535.0 196.8,535.0 197.3,535.0 197.9,535.0 198.4,535.0 198.9,535.0 199.5,535.0 200.0,535.0 200.6,535.0 201.1,535.0 201.6,535.0 202.2,535.0 202.7,535.0 203.2,535.0 203.8,535.0 204.3,535.0 204.8,535.0 205.4,535.0 205.9,535.0 206.4,535.0 207.0,535.0 207.5,535.0 208.1,535.0 208.6,535.0 209.1,535.0 209.7,535.0 210.2,535.0 210.7,535.0 211.3,535.0 211.8,535.0 212.3,535.0 212.9,535.0 213.4,535.0 213.9,535.0 214.5,535.0 215.0,535.0 215.6,535.0 216.1,535.0 216.6,535.0 217.2,535.0 217.7,535.0 218.2,535.0 218.8,535.0 219.3,535.0 219.8,535.0 220.4,535.0 220.9,535.0 221.4,535.0 222.0,535.0 222.5,535.0 223.0,535.0 223.6,535.0 224.1,535.0 224.7,535.0 225.2,535.0 225.7,535.0 226.3,535.0 226.8,535.0 227.3,535.0 227.9,535.0 228.4,535.0 228.9,535.0 229.5,535.0 230.0,535.0 230.5,535.0 231.1,535.0 231.6,535.0 232.2,535.0 232.7,535.0 233.2,535.0 233.8,535.0 234.3,535.0 234.8,535.0 235.4,535.0 235.9,535.0 236.4,535.0 237.0,535.0 237.5,535.0 238.0,535.0 238.6,535.0 239.1,535.0 239.6,535.0 240.2,535.0 240.7,535.0 241.3,535.0 241.8,535.0 242.3,535.0 242.9,535.0 243.4,535.0 243.9,535.0 244.5,535.0 245.0,535.0 245.5,535.0 246.1,535.0 246.6,535.0 247.1,535.0 247.7,535.0 248.2,535.0 248.8,535.0 249.3,535.0 249.8,535.0 250.4,535.0 250.9,535.0 251.4,535.0 252.0,535.0 252.5,535.0" fill="none" stroke="#e6805e" stroke-width="1.15"/><polyline points="38.3,535.0 38.8,535.0 39.4,535.0 39.9,535.0 40.4,535.0 41.0,535.0 41.5,535.0 42.0,535.0 42.6,535.0 43.1,535.0 43.7,535.0 44.2,535.0 44.7,535.0 45.3,535.0 45.8,535.0 46.3,535.0 46.9,535.0 47.4,535.0 47.9,535.0 48.5,535.0 49.0,535.0 49.5,535.0 50.1,535.0 50.6,535.0 51.2,535.0 51.7,535.0 52.2,535.0 52.8,535.0 53.3,535.0 53.8,535.0 54.4,535.0 54.9,535.0 55.4,535.0 56.0,535.0 56.5,534.9 57.0,534.7 57.6,534.5 58.1,534.1 58.6,533.6 59.2,532.9 59.7,532.1 60.3,531.2 60.8,530.1 61.3,529.0 61.9,527.7 62.4,526.3 62.9,524.9 63.5,523.4 64.0,521.8 64.5,520.1 65.1,518.5 65.6,516.8 66.1,515.0 66.7,513.3 67.2,511.6 67.8,509.9 68.3,508.2 68.8,506.6 69.4,505.0 69.9,503.4 70.4,501.9 71.0,500.4 71.5,499.0 72.0,497.7 72.6,496.4 73.1,495.2 73.6,494.1 74.2,493.1 74.7,492.1 75.2,491.2 75.8,490.4 76.3,489.6 76.9,489.0 77.4,488.4 77.9,487.9 78.5,487.4 79.0,487.1 79.5,486.8 80.1,486.6 80.6,486.4 81.1,486.3 81.7,486.3 82.2,486.3 82.7,486.4 83.3,486.5 83.8,486.7 84.4,486.9 84.9,487.2 85.4,487.6 86.0,487.9 86.5,488.4 87.0,488.8 87.6,489.3 88.1,489.8 88.6,490.4 89.2,490.9 89.7,491.5 90.2,492.2 90.8,492.8 91.3,493.5 91.8,494.1 92.4,494.8 92.9,495.5 93.5,496.3 94.0,497.0 94.5,497.7 95.1,498.5 95.6,499.2 96.1,500.0 96.7,500.7 97.2,501.5 97.7,502.2 98.3,503.0 98.8,503.7 99.3,504.4 99.9,505.2 100.4,505.9 101.0,506.6 101.5,507.4 102.0,508.1 102.6,508.8 103.1,509.5 103.6,510.2 104.2,510.8 104.7,511.5 105.2,512.2 105.8,512.8 106.3,513.4 106.8,514.1 107.4,514.7 107.9,515.3 108.5,515.9 109.0,516.4 109.5,517.0 110.1,517.6 110.6,518.1 111.1,518.6 111.7,519.1 112.2,519.7 112.7,520.1 113.3,520.6 113.8,521.1 114.3,521.5 114.9,522.0 115.4,522.4 115.9,522.8 116.5,523.3 117.0,523.7 117.6,524.0 118.1,524.4 118.6,524.8 119.2,525.1 119.7,525.5 120.2,525.8 120.8,526.1 121.3,526.5 121.8,526.8 122.4,527.1 122.9,527.3 123.4,527.6 124.0,527.9 124.5,528.2 125.1,528.4 125.6,528.7 126.1,528.9 126.7,529.1 127.2,529.3 127.7,529.6 128.3,529.8 128.8,530.0 129.3,530.1 129.9,530.3 130.4,530.5 130.9,530.7 131.5,530.9 132.0,531.0 132.5,531.2 133.1,531.3 133.6,531.5 134.2,531.6 134.7,531.7 135.2,531.9 135.8,532.0 136.3,532.1 136.8,532.2 137.4,532.3 137.9,532.4 138.4,532.6 139.0,532.6 139.5,532.7 140.0,532.8 140.6,532.9 141.1,533.0 141.7,533.1 142.2,533.2 142.7,533.2 143.3,533.3 143.8,533.4 144.3,533.5 144.9,533.5 145.4,533.6 145.9,533.6 146.5,533.7 147.0,533.8 147.5,533.8 148.1,533.9 148.6,533.9 149.1,534.0 149.7,534.0 150.2,534.0 150.8,534.1 151.3,534.1 151.8,534.2 152.4,534.2 152.9,534.2 153.4,534.3 154.0,534.3 154.5,534.3 155.0,534.4 155.6,534.4 156.1,534.4 156.6,534.4 157.2,534.5 157.7,534.5 158.3,534.5 158.8,534.5 159.3,534.5 159.9,534.6 160.4,534.6 160.9,534.6 161.5,534.6 162.0,534.6 162.5,534.7 163.1,534.7 163.6,534.7 164.1,534.7 164.7,534.7 165.2,534.7 165.7,534.7 166.3,534.8 166.8,534.8 167.4,534.8 167.9,534.8 168.4,534.8 169.0,534.8 169.5,534.8 170.0,534.8 170.6,534.8 171.1,534.8 171.6,534.8 172.2,534.9 172.7,534.9 173.2,534.9 173.8,534.9 174.3,534.9 174.9,534.9 175.4,534.9 175.9,534.9 176.5,534.9 177.0,534.9 177.5,534.9 178.1,534.9 178.6,534.9 179.1,534.9 179.7,534.9 180.2,534.9 180.7,534.9 181.3,534.9 181.8,534.9 182.3,534.9 182.9,534.9 183.4,534.9 184.0,534.9 184.5,535.0 185.0,535.0 185.6,535.0 186.1,535.0 186.6,535.0 187.2,535.0 187.7,535.0 188.2,535.0 188.8,535.0 189.3,535.0 189.8,535.0 190.4,535.0 190.9,535.0 191.5,535.0 192.0,535.0 192.5,535.0 193.1,535.0 193.6,535.0 194.1,535.0 194.7,535.0 195.2,535.0 195.7,535.0 196.3,535.0 196.8,535.0 197.3,535.0 197.9,535.0 198.4,535.0 198.9,535.0 199.5,535.0 200.0,535.0 200.6,535.0 201.1,535.0 201.6,535.0 202.2,535.0 202.7,535.0 203.2,535.0 203.8,535.0 204.3,535.0 204.8,535.0 205.4,535.0 205.9,535.0 206.4,535.0 207.0,535.0 207.5,535.0 208.1,535.0 208.6,535.0 209.1,535.0 209.7,535.0 210.2,535.0 210.7,535.0 211.3,535.0 211.8,535.0 212.3,535.0 212.9,535.0 213.4,535.0 213.9,535.0 214.5,535.0 215.0,535.0 215.6,535.0 216.1,535.0 216.6,535.0 217.2,535.0 217.7,535.0 218.2,535.0 218.8,535.0 219.3,535.0 219.8,535.0 220.4,535.0 220.9,535.0 221.4,535.0 222.0,535.0 222.5,535.0 223.0,535.0 223.6,535.0 224.1,535.0 224.7,535.0 225.2,535.0 225.7,535.0 226.3,535.0 226.8,535.0 227.3,535.0 227.9,535.0 228.4,535.0 228.9,535.0 229.5,535.0 230.0,535.0 230.5,535.0 231.1,535.0 231.6,535.0 232.2,535.0 232.7,535.0 233.2,535.0 233.8,535.0 234.3,535.0 234.8,535.0 235.4,535.0 235.9,535.0 236.4,535.0 237.0,535.0 237.5,535.0 238.0,535.0 238.6,535.0 239.1,535.0 239.6,535.0 240.2,535.0 240.7,535.0 241.3,535.0 241.8,535.0 242.3,535.0 242.9,535.0 243.4,535.0 243.9,535.0 244.5,535.0 245.0,535.0 245.5,535.0 246.1,535.0 246.6,535.0 247.1,535.0 247.7,535.0 248.2,535.0 248.8,535.0 249.3,535.0 249.8,535.0 250.4,535.0 250.9,535.0 251.4,535.0 252.0,535.0 252.5,535.0" fill="none" stroke="#3434a8" stroke-width="1.15"/><polyline points="38.3,535.0 38.8,535.0 39.4,535.0 39.9,535.0 40.4,535.0 41.0,535.0 41.5,535.0 42.0,535.0 42.6,535.0 43.1,535.0 43.7,535.0 44.2,535.0 44.7,535.0 45.3,535.0 45.8,535.0 46.3,535.0 46.9,535.0 47.4,535.0 47.9,535.0 48.5,535.0 49.0,535.0 49.5,535.0 50.1,535.0 50.6,535.0 51.2,534.9 51.7,534.4 52.2,533.4 52.8,532.0 53.3,530.4 53.8,528.6 54.4,526.7 54.9,524.8 55.4,523.1 56.0,521.4 56.5,520.0 57.0,518.7 57.6,517.6 58.1,516.8 58.6,516.1 59.2,515.7 59.7,515.4 60.3,515.4 60.8,515.4 61.3,515.6 61.9,515.9 62.4,516.4 62.9,516.9 63.5,517.5 64.0,518.1 64.5,518.8 65.1,519.5 65.6,520.2 66.1,521.0 66.7,521.7 67.2,522.4 67.8,523.2 68.3,523.9 68.8,524.6 69.4,525.3 69.9,525.9 70.4,526.5 71.0,527.1 71.5,527.7 72.0,528.2 72.6,528.7 73.1,529.2 73.6,529.7 74.2,530.1 74.7,530.5 75.2,530.8 75.8,531.2 76.3,531.5 76.9,531.8 77.4,532.1 77.9,532.3 78.5,532.6 79.0,532.8 79.5,533.0 80.1,533.1 80.6,533.3 81.1,533.5 81.7,533.6 82.2,533.7 82.7,533.9 83.3,534.0 83.8,534.1 84.4,534.1 84.9,534.2 85.4,534.3 86.0,534.4 86.5,534.4 87.0,534.5 87.6,534.5 88.1,534.6 88.6,534.6 89.2,534.7 89.7,534.7 90.2,534.7 90.8,534.8 91.3,534.8 91.8,534.8 92.4,534.8 92.9,534.8 93.5,534.9 94.0,534.9 94.5,534.9 95.1,534.9 95.6,534.9 96.1,534.9 96.7,534.9 97.2,534.9 97.7,534.9 98.3,534.9 98.8,535.0 99.3,535.0 99.9,535.0 100.4,535.0 101.0,535.0 101.5,535.0 102.0,535.0 102.6,535.0 103.1,535.0 103.6,535.0 104.2,535.0 104.7,535.0 105.2,535.0 105.8,535.0 106.3,535.0 106.8,535.0 107.4,535.0 107.9,535.0 108.5,535.0 109.0,535.0 109.5,535.0 110.1,535.0 110.6,535.0 111.1,535.0 111.7,535.0 112.2,535.0 112.7,535.0 113.3,535.0 113.8,535.0 114.3,535.0 114.9,535.0 115.4,535.0 115.9,535.0 116.5,535.0 117.0,535.0 117.6,535.0 118.1,535.0 118.6,535.0 119.2,535.0 119.7,535.0 120.2,535.0 120.8,535.0 121.3,535.0 121.8,535.0 122.4,535.0 122.9,535.0 123.4,535.0 124.0,535.0 124.5,535.0 125.1,535.0 125.6,535.0 126.1,535.0 126.7,535.0 127.2,535.0 127.7,535.0 128.3,535.0 128.8,535.0 129.3,535.0 129.9,535.0 130.4,535.0 130.9,535.0 131.5,535.0 132.0,535.0 132.5,535.0 133.1,535.0 133.6,535.0 134.2,535.0 134.7,535.0 135.2,535.0 135.8,535.0 136.3,535.0 136.8,535.0 137.4,535.0 137.9,535.0 138.4,535.0 139.0,535.0 139.5,535.0 140.0,535.0 140.6,535.0 141.1,535.0 141.7,535.0 142.2,535.0 142.7,535.0 143.3,535.0 143.8,535.0 144.3,535.0 144.9,535.0 145.4,535.0 145.9,535.0 146.5,535.0 147.0,535.0 147.5,535.0 148.1,535.0 148.6,535.0 149.1,535.0 149.7,535.0 150.2,535.0 150.8,535.0 151.3,535.0 151.8,535.0 152.4,535.0 152.9,535.0 153.4,535.0 154.0,535.0 154.5,535.0 155.0,535.0 155.6,535.0 156.1,535.0 156.6,535.0 157.2,535.0 157.7,535.0 158.3,535.0 158.8,535.0 159.3,535.0 159.9,535.0 160.4,535.0 160.9,535.0 161.5,535.0 162.0,535.0 162.5,535.0 163.1,535.0 163.6,535.0 164.1,535.0 164.7,535.0 165.2,535.0 165.7,535.0 166.3,535.0 166.8,535.0 167.4,535.0 167.9,535.0 168.4,535.0 169.0,535.0 169.5,535.0 170.0,535.0 170.6,535.0 171.1,535.0 171.6,535.0 172.2,535.0 172.7,535.0 173.2,535.0 173.8,535.0 174.3,535.0 174.9,535.0 175.4,535.0 175.9,535.0 176.5,535.0 177.0,535.0 177.5,535.0 178.1,535.0 178.6,535.0 179.1,535.0 179.7,535.0 180.2,535.0 180.7,535.0 181.3,535.0 181.8,535.0 182.3,535.0 182.9,535.0 183.4,535.0 184.0,535.0 184.5,535.0 185.0,535.0 185.6,535.0 186.1,535.0 186.6,535.0 187.2,535.0 187.7,535.0 188.2,535.0 188.8,535.0 189.3,535.0 189.8,535.0 190.4,535.0 190.9,535.0 191.5,535.0 192.0,535.0 192.5,535.0 193.1,535.0 193.6,535.0 194.1,535.0 194.7,535.0 195.2,535.0 195.7,535.0 196.3,535.0 196.8,535.0 197.3,535.0 197.9,535.0 198.4,535.0 198.9,535.0 199.5,535.0 200.0,535.0 200.6,535.0 201.1,535.0 201.6,535.0 202.2,535.0 202.7,535.0 203.2,535.0 203.8,535.0 204.3,535.0 204.8,535.0 205.4,535.0 205.9,535.0 206.4,535.0 207.0,535.0 207.5,535.0 208.1,535.0 208.6,535.0 209.1,535.0 209.7,535.0 210.2,535.0 210.7,535.0 211.3,535.0 211.8,535.0 212.3,535.0 212.9,535.0 213.4,535.0 213.9,535.0 214.5,535.0 215.0,535.0 215.6,535.0 216.1,535.0 216.6,535.0 217.2,535.0 217.7,535.0 218.2,535.0 218.8,535.0 219.3,535.0 219.8,535.0 220.4,535.0 220.9,535.0 221.4,535.0 222.0,535.0 222.5,535.0 223.0,535.0 223.6,535.0 224.1,535.0 224.7,535.0 225.2,535.0 225.7,535.0 226.3,535.0 226.8,535.0 227.3,535.0 227.9,535.0 228.4,535.0 228.9,535.0 229.5,535.0 230.0,535.0 230.5,535.0 231.1,535.0 231.6,535.0 232.2,535.0 232.7,535.0 233.2,535.0 233.8,535.0 234.3,535.0 234.8,535.0 235.4,535.0 235.9,535.0 236.4,535.0 237.0,535.0 237.5,535.0 238.0,535.0 238.6,535.0 239.1,535.0 239.6,535.0 240.2,535.0 240.7,535.0 241.3,535.0 241.8,535.0 242.3,535.0 242.9,535.0 243.4,535.0 243.9,535.0 244.5,535.0 245.0,535.0 245.5,535.0 246.1,535.0 246.6,535.0 247.1,535.0 247.7,535.0 248.2,535.0 248.8,535.0 249.3,535.0 249.8,535.0 250.4,535.0 250.9,535.0 251.4,535.0 252.0,535.0 252.5,535.0" fill="none" stroke="#5278b8" stroke-width="1.15"/><line x1="38.8" y1="534.8" x2="252.0" y2="534.8" stroke="#8484c8" stroke-width="1.3"/><line x1="38.3" y1="456.4" x2="252.5" y2="456.4" stroke="#8a8a8a" stroke-width="1.1" stroke-opacity="0.75"/><path d="M47.9,445.0L53.5,445.0L50.7,456.2Z" fill="#e43a4c"/><text x="51.5" y="443.6" text-anchor="middle" font-size="9.6" font-weight="bold" fill="#111" font-family="Liberation Sans, sans-serif">IF</text><path d="M162.6,446.0L168.2,446.0L165.4,456.2Z" fill="#e43a4c"/><text x="166.2" y="444.6" text-anchor="middle" font-size="9.6" font-weight="bold" fill="#111" font-family="Liberation Sans, sans-serif">ECM</text><text x="221.1" y="477.0" text-anchor="end" font-size="9" fill="#222" font-family="Liberation Sans, sans-serif">E1</text><line x1="226.1" y1="473.8" x2="249.4" y2="473.8" stroke="#4a8a5c" stroke-width="1.4"/><text x="221.1" y="485.9" text-anchor="end" font-size="9" fill="#222" font-family="Liberation Sans, sans-serif">H2</text><line x1="226.1" y1="482.7" x2="249.4" y2="482.7" stroke="#3434a8" stroke-width="1.4"/><text x="221.1" y="494.8" text-anchor="end" font-size="9" fill="#222" font-family="Liberation Sans, sans-serif">M2</text><line x1="226.1" y1="491.6" x2="249.4" y2="491.6" stroke="#744a4a" stroke-width="1.4"/><text x="221.1" y="503.7" text-anchor="end" font-size="9" fill="#222" font-family="Liberation Sans, sans-serif">M3</text><line x1="226.1" y1="500.5" x2="249.4" y2="500.5" stroke="#302626" stroke-width="1.4"/><text x="221.1" y="512.6" text-anchor="end" font-size="9" fill="#222" font-family="Liberation Sans, sans-serif">M1</text><line x1="226.1" y1="509.4" x2="249.4" y2="509.4" stroke="#e6805e" stroke-width="1.4"/><text x="221.1" y="521.5" text-anchor="end" font-size="9" fill="#222" font-family="Liberation Sans, sans-serif">H1</text><line x1="226.1" y1="518.3" x2="249.4" y2="518.3" stroke="#5278b8" stroke-width="1.4"/><text x="0.8" y="448" font-size="15" font-weight="bold" fill="#000" font-family="Liberation Sans, sans-serif">B</text><rect x="38.8" y="587.7" width="213.7" height="79.29999999999995" fill="none" stroke="#8a8a8a" stroke-width="1.1"/><line x1="38.8" y1="667.0" x2="41.3" y2="667.0" stroke="#9a9a9a" stroke-width="0.8"/><line x1="252.5" y1="667.0" x2="250.0" y2="667.0" stroke="#9a9a9a" stroke-width="0.8"/><text transform="translate(35,670.3) scale(1,1.12)" text-anchor="end" font-size="9.3" font-weight="bold" fill="#111" font-family="Liberation Sans, sans-serif">0</text><line x1="38.8" y1="651.1" x2="41.3" y2="651.1" stroke="#9a9a9a" stroke-width="0.8"/><line x1="252.5" y1="651.1" x2="250.0" y2="651.1" stroke="#9a9a9a" stroke-width="0.8"/><text transform="translate(35,654.7) scale(1,1.12)" text-anchor="end" font-size="9.3" font-weight="bold" fill="#111" font-family="Liberation Sans, sans-serif">0.2</text><line x1="38.8" y1="635.3" x2="41.3" y2="635.3" stroke="#9a9a9a" stroke-width="0.8"/><line x1="252.5" y1="635.3" x2="250.0" y2="635.3" stroke="#9a9a9a" stroke-width="0.8"/><text transform="translate(35,639.2) scale(1,1.12)" text-anchor="end" font-size="9.3" font-weight="bold" fill="#111" font-family="Liberation Sans, sans-serif">0.4</text><line x1="38.8" y1="619.4" x2="41.3" y2="619.4" stroke="#9a9a9a" stroke-width="0.8"/><line x1="252.5" y1="619.4" x2="250.0" y2="619.4" stroke="#9a9a9a" stroke-width="0.8"/><text transform="translate(35,623.6) scale(1,1.12)" text-anchor="end" font-size="9.3" font-weight="bold" fill="#111" font-family="Liberation Sans, sans-serif">0.6</text><line x1="38.8" y1="603.6" x2="41.3" y2="603.6" stroke="#9a9a9a" stroke-width="0.8"/><line x1="252.5" y1="603.6" x2="250.0" y2="603.6" stroke="#9a9a9a" stroke-width="0.8"/><text transform="translate(35,608.1) scale(1,1.12)" text-anchor="end" font-size="9.3" font-weight="bold" fill="#111" font-family="Liberation Sans, sans-serif">0.8</text><line x1="38.8" y1="587.7" x2="41.3" y2="587.7" stroke="#9a9a9a" stroke-width="0.8"/><line x1="252.5" y1="587.7" x2="250.0" y2="587.7" stroke="#9a9a9a" stroke-width="0.8"/><text transform="translate(35,592.5) scale(1,1.12)" text-anchor="end" font-size="9.3" font-weight="bold" fill="#111" font-family="Liberation Sans, sans-serif">1</text><line x1="38.8" y1="667" x2="38.8" y2="664.5" stroke="#9a9a9a" stroke-width="0.8"/><text transform="translate(38.8,677.5) scale(1,1.12)" text-anchor="middle" font-size="9.3" font-weight="bold" fill="#111" font-family="Liberation Sans, sans-serif">0</text><line x1="66.9" y1="667" x2="66.9" y2="664.5" stroke="#9a9a9a" stroke-width="0.8"/><text transform="translate(66.9,677.5) scale(1,1.12)" text-anchor="middle" font-size="9.3" font-weight="bold" fill="#111" font-family="Liberation Sans, sans-serif">50</text><line x1="95.0" y1="667" x2="95.0" y2="664.5" stroke="#9a9a9a" stroke-width="0.8"/><text transform="translate(95.0,677.5) scale(1,1.12)" text-anchor="middle" font-size="9.3" font-weight="bold" fill="#111" font-family="Liberation Sans, sans-serif">100</text><line x1="123.2" y1="667" x2="123.2" y2="664.5" stroke="#9a9a9a" stroke-width="0.8"/><text transform="translate(123.2,677.5) scale(1,1.12)" text-anchor="middle" font-size="9.3" font-weight="bold" fill="#111" font-family="Liberation Sans, sans-serif">150</text><line x1="151.3" y1="667" x2="151.3" y2="664.5" stroke="#9a9a9a" stroke-width="0.8"/><text transform="translate(151.3,677.5) scale(1,1.12)" text-anchor="middle" font-size="9.3" font-weight="bold" fill="#111" font-family="Liberation Sans, sans-serif">200</text><line x1="179.4" y1="667" x2="179.4" y2="664.5" stroke="#9a9a9a" stroke-width="0.8"/><text transform="translate(179.4,677.5) scale(1,1.12)" text-anchor="middle" font-size="9.3" font-weight="bold" fill="#111" font-family="Liberation Sans, sans-serif">250</text><line x1="207.5" y1="667" x2="207.5" y2="664.5" stroke="#9a9a9a" stroke-width="0.8"/><text transform="translate(207.5,677.5) scale(1,1.12)" text-anchor="middle" font-size="9.3" font-weight="bold" fill="#111" font-family="Liberation Sans, sans-serif">300</text><line x1="235.6" y1="667" x2="235.6" y2="664.5" stroke="#9a9a9a" stroke-width="0.8"/><text transform="translate(235.6,677.5) scale(1,1.12)" text-anchor="middle" font-size="9.3" font-weight="bold" fill="#111" font-family="Liberation Sans, sans-serif">350</text><text transform="translate(145.1,690.5) scale(1,1.14)" text-anchor="middle" font-size="9.6" font-weight="bold" fill="#111" font-family="Liberation Sans, sans-serif">Simulation steps</text><text transform="translate(5.2,627.4) rotate(-90)" x="0" y="3.3" text-anchor="middle" font-size="9.6" font-weight="bold" fill="#111" font-family="Liberation Sans, sans-serif">Phenotype</text><text transform="translate(14.5,627.4) rotate(-90)" x="0" y="3.3" text-anchor="middle" font-size="9.6" font-weight="bold" fill="#111" font-family="Liberation Sans, sans-serif">probabilities</text><text transform="translate(46.0,629.0) rotate(-90) scale(0.82,1)" x="0" y="3.4" text-anchor="middle" font-size="9.6" font-weight="bold" fill="#111" font-family="Liberation Sans, sans-serif">[0001]</text><line x1="51.1" y1="587.7" x2="51.1" y2="667" stroke="#f4b4b4" stroke-width="0.8"/><line x1="168.5" y1="587.7" x2="168.5" y2="667" stroke="#f4b4b4" stroke-width="0.8"/><polyline points="38.8,667.0 39.3,667.0 39.9,667.0 40.4,667.0 40.9,667.0 41.5,667.0 42.0,667.0 42.5,667.0 43.1,667.0 43.6,667.0 44.1,667.0 44.7,667.0 45.2,667.0 45.7,667.0 46.3,667.0 46.8,667.0 47.3,667.0 47.9,667.0 48.4,667.0 49.0,667.0 49.5,667.0 50.0,667.0 50.6,667.0 51.1,667.0 51.6,667.0 52.2,667.0 52.7,667.0 53.2,667.0 53.8,667.0 54.3,667.0 54.8,666.9 55.4,666.7 55.9,666.3 56.4,665.9 57.0,665.4 57.5,664.9 58.0,664.4 58.6,663.8 59.1,663.3 59.6,662.8 60.2,662.4 60.7,662.0 61.2,661.6 61.8,661.3 62.3,661.1 62.8,660.9 63.4,660.8 63.9,660.7 64.4,660.7 65.0,660.7 65.5,660.7 66.0,660.8 66.6,660.9 67.1,661.0 67.6,661.2 68.2,661.3 68.7,661.5 69.3,661.7 69.8,661.9 70.3,662.1 70.9,662.3 71.4,662.5 71.9,662.8 72.5,663.0 73.0,663.2 73.5,663.4 74.1,663.6 74.6,663.8 75.1,664.0 75.7,664.2 76.2,664.3 76.7,664.5 77.3,664.7 77.8,664.8 78.3,665.0 78.9,665.1 79.4,665.2 79.9,665.4 80.5,665.5 81.0,665.6 81.5,665.7 82.1,665.8 82.6,665.9 83.1,666.0 83.7,666.0 84.2,666.1 84.7,666.2 85.3,666.3 85.8,666.3 86.3,666.4 86.9,666.4 87.4,666.5 88.0,666.5 88.5,666.5 89.0,666.6 89.6,666.6 90.1,666.7 90.6,666.7 91.2,666.7 91.7,666.7 92.2,666.8 92.8,666.8 93.3,666.8 93.8,666.8 94.4,666.8 94.9,666.8 95.4,666.9 96.0,666.9 96.5,666.9 97.0,666.9 97.6,666.9 98.1,666.9 98.6,666.9 99.2,666.9 99.7,666.9 100.2,666.9 100.8,666.9 101.3,667.0 101.8,667.0 102.4,667.0 102.9,667.0 103.4,667.0 104.0,667.0 104.5,667.0 105.0,667.0 105.6,667.0 106.1,667.0 106.6,667.0 107.2,667.0 107.7,667.0 108.3,667.0 108.8,667.0 109.3,667.0 109.9,667.0 110.4,667.0 110.9,667.0 111.5,667.0 112.0,667.0 112.5,667.0 113.1,667.0 113.6,667.0 114.1,667.0 114.7,667.0 115.2,667.0 115.7,667.0 116.3,667.0 116.8,667.0 117.3,667.0 117.9,667.0 118.4,667.0 118.9,667.0 119.5,667.0 120.0,667.0 120.5,667.0 121.1,667.0 121.6,667.0 122.1,667.0 122.7,667.0 123.2,667.0 123.7,667.0 124.3,667.0 124.8,667.0 125.3,667.0 125.9,667.0 126.4,667.0 127.0,667.0 127.5,667.0 128.0,667.0 128.6,667.0 129.1,667.0 129.6,667.0 130.2,667.0 130.7,667.0 131.2,667.0 131.8,667.0 132.3,667.0 132.8,667.0 133.4,667.0 133.9,667.0 134.4,667.0 135.0,667.0 135.5,667.0 136.0,667.0 136.6,667.0 137.1,667.0 137.6,667.0 138.2,667.0 138.7,667.0 139.2,667.0 139.8,667.0 140.3,667.0 140.8,667.0 141.4,667.0 141.9,667.0 142.4,667.0 143.0,667.0 143.5,667.0 144.0,667.0 144.6,667.0 145.1,667.0 145.6,667.0 146.2,667.0 146.7,667.0 147.3,667.0 147.8,667.0 148.3,667.0 148.9,667.0 149.4,667.0 149.9,667.0 150.5,667.0 151.0,667.0 151.5,667.0 152.1,667.0 152.6,667.0 153.1,667.0 153.7,667.0 154.2,667.0 154.7,667.0 155.3,667.0 155.8,667.0 156.3,667.0 156.9,667.0 157.4,667.0 157.9,667.0 158.5,667.0 159.0,667.0 159.5,667.0 160.1,667.0 160.6,667.0 161.1,667.0 161.7,667.0 162.2,667.0 162.7,667.0 163.3,667.0 163.8,667.0 164.3,667.0 164.9,667.0 165.4,667.0 166.0,667.0 166.5,667.0 167.0,667.0 167.6,667.0 168.1,667.0 168.6,667.0 169.2,666.5 169.7,665.5 170.2,664.0 170.8,662.2 171.3,660.1 171.8,657.8 172.4,655.3 172.9,652.7 173.4,650.0 174.0,647.3 174.5,644.6 175.0,641.9 175.6,639.2 176.1,636.6 176.6,634.0 177.2,631.5 177.7,629.1 178.2,626.8 178.8,624.5 179.3,622.4 179.8,620.3 180.4,618.3 180.9,616.5 181.4,614.7 182.0,613.0 182.5,611.4 183.0,609.9 183.6,608.4 184.1,607.1 184.7,605.8 185.2,604.6 185.7,603.4 186.3,602.4 186.8,601.4 187.3,600.4 187.9,599.5 188.4,598.7 188.9,598.0 189.5,597.2 190.0,596.6 190.5,595.9 191.1,595.3 191.6,594.8 192.1,594.3 192.7,593.8 193.2,593.4 193.7,592.9 194.3,592.6 194.8,592.2 195.3,591.9 195.9,591.6 196.4,591.3 196.9,591.0 197.5,590.8 198.0,590.5 198.5,590.3 199.1,590.1 199.6,589.9 200.1,589.8 200.7,589.6 201.2,589.5 201.7,589.3 202.3,589.2 202.8,589.1 203.3,589.0 203.9,588.9 204.4,588.8 205.0,588.7 205.5,588.6 206.0,588.6 206.6,588.5 207.1,588.4 207.6,588.4 208.2,588.3 208.7,588.3 209.2,588.2 209.8,588.2 210.3,588.1 210.8,588.1 211.4,588.1 211.9,588.1 212.4,588.0 213.0,588.0 213.5,588.0 214.0,588.0 214.6,587.9 215.1,587.9 215.6,587.9 216.2,587.9 216.7,587.9 217.2,587.9 217.8,587.8 218.3,587.8 218.8,587.8 219.4,587.8 219.9,587.8 220.4,587.8 221.0,587.8 221.5,587.8 222.0,587.8 222.6,587.8 223.1,587.8 223.7,587.8 224.2,587.8 224.7,587.7 225.3,587.7 225.8,587.7 226.3,587.7 226.9,587.7 227.4,587.7 227.9,587.7 228.5,587.7 229.0,587.7 229.5,587.7 230.1,587.7 230.6,587.7 231.1,587.7 231.7,587.7 232.2,587.7 232.7,587.7 233.3,587.7 233.8,587.7 234.3,587.7 234.9,587.7 235.4,587.7 235.9,587.7 236.5,587.7 237.0,587.7 237.5,587.7 238.1,587.7 238.6,587.7 239.1,587.7 239.7,587.7 240.2,587.7 240.7,587.7 241.3,587.7 241.8,587.7 242.3,587.7 242.9,587.7 243.4,587.7 244.0,587.7 244.5,587.7 245.0,587.7 245.6,587.7 246.1,587.7 246.6,587.7 247.2,587.7 247.7,587.7 248.2,587.7 248.8,587.7 249.3,587.7 249.8,587.7 250.4,587.7 250.9,587.7 251.4,587.7 252.0,587.7 252.5,587.7" fill="none" stroke="#302626" stroke-width="1.15"/><polyline points="38.8,667.0 39.3,667.0 39.9,667.0 40.4,667.0 40.9,667.0 41.5,667.0 42.0,667.0 42.5,667.0 43.1,667.0 43.6,667.0 44.1,667.0 44.7,667.0 45.2,667.0 45.7,667.0 46.3,667.0 46.8,667.0 47.3,667.0 47.9,667.0 48.4,667.0 49.0,667.0 49.5,667.0 50.0,667.0 50.6,667.0 51.1,667.0 51.6,667.0 52.2,667.0 52.7,667.0 53.2,667.0 53.8,667.0 54.3,667.0 54.8,667.0 55.4,667.0 55.9,667.0 56.4,666.9 57.0,666.9 57.5,666.9 58.0,666.8 58.6,666.7 59.1,666.7 59.6,666.6 60.2,666.5 60.7,666.4 61.2,666.3 61.8,666.2 62.3,666.1 62.8,665.9 63.4,665.8 63.9,665.6 64.4,665.4 65.0,665.2 65.5,664.9 66.0,664.7 66.6,664.4 67.1,664.1 67.6,663.7 68.2,663.4 68.7,662.9 69.3,662.5 69.8,662.0 70.3,661.7 70.9,661.4 71.4,661.0 71.9,660.6 72.5,660.2 73.0,659.8 73.5,659.3 74.1,658.8 74.6,658.3 75.1,657.8 75.7,657.2 76.2,656.6 76.7,656.0 77.3,655.3 77.8,654.6 78.3,653.9 78.9,653.2 79.4,652.4 79.9,651.5 80.5,650.7 81.0,649.8 81.5,648.8 82.1,647.9 82.6,646.9 83.1,645.8 83.7,644.8 84.2,643.7 84.7,642.5 85.3,641.4 85.8,640.2 86.3,639.0 86.9,637.7 87.4,636.5 88.0,635.2 88.5,633.9 89.0,632.6 89.6,631.2 90.1,629.9 90.6,628.6 91.2,627.2 91.7,625.9 92.2,624.5 92.8,623.2 93.3,621.9 93.8,620.5 94.4,619.3 94.9,618.0 95.4,616.7 96.0,615.5 96.5,614.3 97.0,613.1 97.6,611.9 98.1,610.8 98.6,609.7 99.2,608.6 99.7,607.6 100.2,606.6 100.8,605.7 101.3,604.7 101.8,603.8 102.4,603.0 102.9,602.2 103.4,601.4 104.0,600.6 104.5,599.9 105.0,599.2 105.6,598.6 106.1,598.0 106.6,597.4 107.2,596.8 107.7,596.3 108.3,595.8 108.8,595.3 109.3,594.8 109.9,594.4 110.4,594.0 110.9,593.6 111.5,593.3 112.0,592.9 112.5,592.6 113.1,592.3 113.6,592.0 114.1,591.7 114.7,591.5 115.2,591.2 115.7,591.0 116.3,590.8 116.8,590.6 117.3,590.4 117.9,590.3 118.4,590.1 118.9,589.9 119.5,589.8 120.0,589.7 120.5,589.5 121.1,589.4 121.6,589.3 122.1,589.2 122.7,589.1 123.2,589.0 123.7,588.9 124.3,588.9 124.8,588.8 125.3,588.7 125.9,588.6 126.4,588.6 127.0,588.5 127.5,588.5 128.0,588.4 128.6,588.4 129.1,588.3 129.6,588.3 130.2,588.3 130.7,588.2 131.2,588.2 131.8,588.2 132.3,588.1 132.8,588.1 133.4,588.1 133.9,588.0 134.4,588.0 135.0,588.0 135.5,588.0 136.0,588.0 136.6,587.9 137.1,587.9 137.6,587.9 138.2,587.9 138.7,587.9 139.2,587.9 139.8,587.9 140.3,587.9 140.8,587.8 141.4,587.8 141.9,587.8 142.4,587.8 143.0,587.8 143.5,587.8 144.0,587.8 144.6,587.8 145.1,587.8 145.6,587.8 146.2,587.8 146.7,587.8 147.3,587.8 147.8,587.8 148.3,587.8 148.9,587.8 149.4,587.7 149.9,587.7 150.5,587.7 151.0,587.7 151.5,587.7 152.1,587.7 152.6,587.7 153.1,587.7 153.7,587.7 154.2,587.7 154.7,587.7 155.3,587.7 155.8,587.7 156.3,587.7 156.9,587.7 157.4,587.7 157.9,587.7 158.5,587.7 159.0,587.7 159.5,587.7 160.1,587.7 160.6,587.7 161.1,587.7 161.7,587.7 162.2,587.7 162.7,587.7 163.3,587.7 163.8,587.7 164.3,587.7 164.9,587.7 165.4,587.7 166.0,587.7 166.5,587.7 167.0,587.7 167.6,587.7 168.1,587.7 168.6,587.7 169.2,588.2 169.7,589.2 170.2,590.7 170.8,592.5 171.3,594.6 171.8,596.9 172.4,599.4 172.9,602.0 173.4,604.7 174.0,607.4 174.5,610.1 175.0,612.8 175.6,615.5 176.1,618.1 176.6,620.7 177.2,623.2 177.7,625.6 178.2,627.9 178.8,630.2 179.3,632.3 179.8,634.4 180.4,636.4 180.9,638.2 181.4,640.0 182.0,641.7 182.5,643.3 183.0,644.8 183.6,646.3 184.1,647.6 184.7,648.9 185.2,650.1 185.7,651.3 186.3,652.3 186.8,653.3 187.3,654.3 187.9,655.2 188.4,656.0 188.9,656.7 189.5,657.5 190.0,658.1 190.5,658.8 191.1,659.4 191.6,659.9 192.1,660.4 192.7,660.9 193.2,661.3 193.7,661.8 194.3,662.1 194.8,662.5 195.3,662.8 195.9,663.1 196.4,663.4 196.9,663.7 197.5,663.9 198.0,664.2 198.5,664.4 199.1,664.6 199.6,664.8 200.1,664.9 200.7,665.1 201.2,665.2 201.7,665.4 202.3,665.5 202.8,665.6 203.3,665.7 203.9,665.8 204.4,665.9 205.0,666.0 205.5,666.1 206.0,666.1 206.6,666.2 207.1,666.3 207.6,666.3 208.2,666.4 208.7,666.4 209.2,666.5 209.8,666.5 210.3,666.6 210.8,666.6 211.4,666.6 211.9,666.6 212.4,666.7 213.0,666.7 213.5,666.7 214.0,666.7 214.6,666.8 215.1,666.8 215.6,666.8 216.2,666.8 216.7,666.8 217.2,666.8 217.8,666.9 218.3,666.9 218.8,666.9 219.4,666.9 219.9,666.9 220.4,666.9 221.0,666.9 221.5,666.9 222.0,666.9 222.6,666.9 223.1,666.9 223.7,666.9 224.2,666.9 224.7,667.0 225.3,667.0 225.8,667.0 226.3,667.0 226.9,667.0 227.4,667.0 227.9,667.0 228.5,667.0 229.0,667.0 229.5,667.0 230.1,667.0 230.6,667.0 231.1,667.0 231.7,667.0 232.2,667.0 232.7,667.0 233.3,667.0 233.8,667.0 234.3,667.0 234.9,667.0 235.4,667.0 235.9,667.0 236.5,667.0 237.0,667.0 237.5,667.0 238.1,667.0 238.6,667.0 239.1,667.0 239.7,667.0 240.2,667.0 240.7,667.0 241.3,667.0 241.8,667.0 242.3,667.0 242.9,667.0 243.4,667.0 244.0,667.0 244.5,667.0 245.0,667.0 245.6,667.0 246.1,667.0 246.6,667.0 247.2,667.0 247.7,667.0 248.2,667.0 248.8,667.0 249.3,667.0 249.8,667.0 250.4,667.0 250.9,667.0 251.4,667.0 252.0,667.0 252.5,667.0" fill="none" stroke="#744a4a" stroke-width="1.15"/><polyline points="38.8,587.7 39.3,587.7 39.9,587.7 40.4,587.7 40.9,587.7 41.5,587.7 42.0,587.7 42.5,587.7 43.1,587.7 43.6,587.7 44.1,587.7 44.7,587.7 45.2,587.7 45.7,587.7 46.3,587.7 46.8,587.7 47.3,587.7 47.9,587.7 48.4,587.7 49.0,587.7 49.5,587.7 50.0,587.7 50.6,587.7 51.1,587.7 51.6,588.7 52.2,590.3 52.7,592.4 53.2,594.8 53.8,597.4 54.3,600.2 54.8,603.1 55.4,606.1 55.9,609.1 56.4,612.1 57.0,615.1 57.5,618.1 58.0,621.0 58.6,623.8 59.1,626.6 59.6,629.3 60.2,631.8 60.7,634.3 61.2,636.6 61.8,638.9 62.3,641.0 62.8,643.0 63.4,644.9 63.9,646.7 64.4,648.4 65.0,649.9 65.5,651.4 66.0,652.7 66.6,654.0 67.1,655.2 67.6,656.2 68.2,657.2 68.7,658.2 69.3,659.0 69.8,659.8 70.3,660.5 70.9,661.1 71.4,661.7 71.9,662.3 72.5,662.7 73.0,663.2 73.5,663.6 74.1,664.0 74.6,664.3 75.1,664.6 75.7,664.8 76.2,665.1 76.7,665.3 77.3,665.5 77.8,665.7 78.3,665.8 78.9,666.0 79.4,666.1 79.9,666.2 80.5,666.3 81.0,666.4 81.5,666.5 82.1,666.5 82.6,666.6 83.1,666.6 83.7,666.7 84.2,666.7 84.7,666.8 85.3,666.8 85.8,666.8 86.3,666.8 86.9,666.9 87.4,666.9 88.0,666.9 88.5,666.9 89.0,666.9 89.6,666.9 90.1,666.9 90.6,666.9 91.2,667.0 91.7,667.0 92.2,667.0 92.8,667.0 93.3,667.0 93.8,667.0 94.4,667.0 94.9,667.0 95.4,667.0 96.0,667.0 96.5,667.0 97.0,667.0 97.6,667.0 98.1,667.0 98.6,667.0 99.2,667.0 99.7,667.0 100.2,667.0 100.8,667.0 101.3,667.0 101.8,667.0 102.4,667.0 102.9,667.0 103.4,667.0 104.0,667.0 104.5,667.0 105.0,667.0 105.6,667.0 106.1,667.0 106.6,667.0 107.2,667.0 107.7,667.0 108.3,667.0 108.8,667.0 109.3,667.0 109.9,667.0 110.4,667.0 110.9,667.0 111.5,667.0 112.0,667.0 112.5,667.0 113.1,667.0 113.6,667.0 114.1,667.0 114.7,667.0 115.2,667.0 115.7,667.0 116.3,667.0 116.8,667.0 117.3,667.0 117.9,667.0 118.4,667.0 118.9,667.0 119.5,667.0 120.0,667.0 120.5,667.0 121.1,667.0 121.6,667.0 122.1,667.0 122.7,667.0 123.2,667.0 123.7,667.0 124.3,667.0 124.8,667.0 125.3,667.0 125.9,667.0 126.4,667.0 127.0,667.0 127.5,667.0 128.0,667.0 128.6,667.0 129.1,667.0 129.6,667.0 130.2,667.0 130.7,667.0 131.2,667.0 131.8,667.0 132.3,667.0 132.8,667.0 133.4,667.0 133.9,667.0 134.4,667.0 135.0,667.0 135.5,667.0 136.0,667.0 136.6,667.0 137.1,667.0 137.6,667.0 138.2,667.0 138.7,667.0 139.2,667.0 139.8,667.0 140.3,667.0 140.8,667.0 141.4,667.0 141.9,667.0 142.4,667.0 143.0,667.0 143.5,667.0 144.0,667.0 144.6,667.0 145.1,667.0 145.6,667.0 146.2,667.0 146.7,667.0 147.3,667.0 147.8,667.0 148.3,667.0 148.9,667.0 149.4,667.0 149.9,667.0 150.5,667.0 151.0,667.0 151.5,667.0 152.1,667.0 152.6,667.0 153.1,667.0 153.7,667.0 154.2,667.0 154.7,667.0 155.3,667.0 155.8,667.0 156.3,667.0 156.9,667.0 157.4,667.0 157.9,667.0 158.5,667.0 159.0,667.0 159.5,667.0 160.1,667.0 160.6,667.0 161.1,667.0 161.7,667.0 162.2,667.0 162.7,667.0 163.3,667.0 163.8,667.0 164.3,667.0 164.9,667.0 165.4,667.0 166.0,667.0 166.5,667.0 167.0,667.0 167.6,667.0 168.1,667.0 168.6,667.0 169.2,667.0 169.7,667.0 170.2,667.0 170.8,667.0 171.3,667.0 171.8,667.0 172.4,667.0 172.9,667.0 173.4,667.0 174.0,667.0 174.5,667.0 175.0,667.0 175.6,667.0 176.1,667.0 176.6,667.0 177.2,667.0 177.7,667.0 178.2,667.0 178.8,667.0 179.3,667.0 179.8,667.0 180.4,667.0 180.9,667.0 181.4,667.0 182.0,667.0 182.5,667.0 183.0,667.0 183.6,667.0 184.1,667.0 184.7,667.0 185.2,667.0 185.7,667.0 186.3,667.0 186.8,667.0 187.3,667.0 187.9,667.0 188.4,667.0 188.9,667.0 189.5,667.0 190.0,667.0 190.5,667.0 191.1,667.0 191.6,667.0 192.1,667.0 192.7,667.0 193.2,667.0 193.7,667.0 194.3,667.0 194.8,667.0 195.3,667.0 195.9,667.0 196.4,667.0 196.9,667.0 197.5,667.0 198.0,667.0 198.5,667.0 199.1,667.0 199.6,667.0 200.1,667.0 200.7,667.0 201.2,667.0 201.7,667.0 202.3,667.0 202.8,667.0 203.3,667.0 203.9,667.0 204.4,667.0 205.0,667.0 205.5,667.0 206.0,667.0 206.6,667.0 207.1,667.0 207.6,667.0 208.2,667.0 208.7,667.0 209.2,667.0 209.8,667.0 210.3,667.0 210.8,667.0 211.4,667.0 211.9,667.0 212.4,667.0 213.0,667.0 213.5,667.0 214.0,667.0 214.6,667.0 215.1,667.0 215.6,667.0 216.2,667.0 216.7,667.0 217.2,667.0 217.8,667.0 218.3,667.0 218.8,667.0 219.4,667.0 219.9,667.0 220.4,667.0 221.0,667.0 221.5,667.0 222.0,667.0 222.6,667.0 223.1,667.0 223.7,667.0 224.2,667.0 224.7,667.0 225.3,667.0 225.8,667.0 226.3,667.0 226.9,667.0 227.4,667.0 227.9,667.0 228.5,667.0 229.0,667.0 229.5,667.0 230.1,667.0 230.6,667.0 231.1,667.0 231.7,667.0 232.2,667.0 232.7,667.0 233.3,667.0 233.8,667.0 234.3,667.0 234.9,667.0 235.4,667.0 235.9,667.0 236.5,667.0 237.0,667.0 237.5,667.0 238.1,667.0 238.6,667.0 239.1,667.0 239.7,667.0 240.2,667.0 240.7,667.0 241.3,667.0 241.8,667.0 242.3,667.0 242.9,667.0 243.4,667.0 244.0,667.0 244.5,667.0 245.0,667.0 245.6,667.0 246.1,667.0 246.6,667.0 247.2,667.0 247.7,667.0 248.2,667.0 248.8,667.0 249.3,667.0 249.8,667.0 250.4,667.0 250.9,667.0 251.4,667.0 252.0,667.0 252.5,667.0" fill="none" stroke="#4a8a5c" stroke-width="1.15"/><polyline points="38.8,667.0 39.3,667.0 39.9,667.0 40.4,667.0 40.9,667.0 41.5,667.0 42.0,667.0 42.5,667.0 43.1,667.0 43.6,667.0 44.1,667.0 44.7,667.0 45.2,667.0 45.7,667.0 46.3,667.0 46.8,667.0 47.3,667.0 47.9,667.0 48.4,667.0 49.0,667.0 49.5,667.0 50.0,667.0 50.6,667.0 51.1,667.0 51.6,667.0 52.2,667.0 52.7,667.0 53.2,667.0 53.8,667.0 54.3,667.0 54.8,667.0 55.4,667.0 55.9,667.0 56.4,667.0 57.0,666.9 57.5,666.9 58.0,666.8 58.6,666.6 59.1,666.5 59.6,666.4 60.2,666.2 60.7,666.1 61.2,665.9 61.8,665.8 62.3,665.7 62.8,665.5 63.4,665.4 63.9,665.3 64.4,665.3 65.0,665.2 65.5,665.1 66.0,665.1 66.6,665.1 67.1,665.0 67.6,665.0 68.2,665.0 68.7,665.0 69.3,665.0 69.8,665.1 70.3,665.1 70.9,665.1 71.4,665.2 71.9,665.2 72.5,665.3 73.0,665.3 73.5,665.4 74.1,665.4 74.6,665.5 75.1,665.5 75.7,665.6 76.2,665.6 76.7,665.7 77.3,665.8 77.8,665.8 78.3,665.9 78.9,665.9 79.4,666.0 79.9,666.0 80.5,666.1 81.0,666.1 81.5,666.2 82.1,666.2 82.6,666.3 83.1,666.3 83.7,666.4 84.2,666.4 84.7,666.4 85.3,666.5 85.8,666.5 86.3,666.5 86.9,666.6 87.4,666.6 88.0,666.6 88.5,666.6 89.0,666.7 89.6,666.7 90.1,666.7 90.6,666.7 91.2,666.7 91.7,666.8 92.2,666.8 92.8,666.8 93.3,666.8 93.8,666.8 94.4,666.8 94.9,666.8 95.4,666.9 96.0,666.9 96.5,666.9 97.0,666.9 97.6,666.9 98.1,666.9 98.6,666.9 99.2,666.9 99.7,666.9 100.2,666.9 100.8,666.9 101.3,666.9 101.8,666.9 102.4,666.9 102.9,667.0 103.4,667.0 104.0,667.0 104.5,667.0 105.0,667.0 105.6,667.0 106.1,667.0 106.6,667.0 107.2,667.0 107.7,667.0 108.3,667.0 108.8,667.0 109.3,667.0 109.9,667.0 110.4,667.0 110.9,667.0 111.5,667.0 112.0,667.0 112.5,667.0 113.1,667.0 113.6,667.0 114.1,667.0 114.7,667.0 115.2,667.0 115.7,667.0 116.3,667.0 116.8,667.0 117.3,667.0 117.9,667.0 118.4,667.0 118.9,667.0 119.5,667.0 120.0,667.0 120.5,667.0 121.1,667.0 121.6,667.0 122.1,667.0 122.7,667.0 123.2,667.0 123.7,667.0 124.3,667.0 124.8,667.0 125.3,667.0 125.9,667.0 126.4,667.0 127.0,667.0 127.5,667.0 128.0,667.0 128.6,667.0 129.1,667.0 129.6,667.0 130.2,667.0 130.7,667.0 131.2,667.0 131.8,667.0 132.3,667.0 132.8,667.0 133.4,667.0 133.9,667.0 134.4,667.0 135.0,667.0 135.5,667.0 136.0,667.0 136.6,667.0 137.1,667.0 137.6,667.0 138.2,667.0 138.7,667.0 139.2,667.0 139.8,667.0 140.3,667.0 140.8,667.0 141.4,667.0 141.9,667.0 142.4,667.0 143.0,667.0 143.5,667.0 144.0,667.0 144.6,667.0 145.1,667.0 145.6,667.0 146.2,667.0 146.7,667.0 147.3,667.0 147.8,667.0 148.3,667.0 148.9,667.0 149.4,667.0 149.9,667.0 150.5,667.0 151.0,667.0 151.5,667.0 152.1,667.0 152.6,667.0 153.1,667.0 153.7,667.0 154.2,667.0 154.7,667.0 155.3,667.0 155.8,667.0 156.3,667.0 156.9,667.0 157.4,667.0 157.9,667.0 158.5,667.0 159.0,667.0 159.5,667.0 160.1,667.0 160.6,667.0 161.1,667.0 161.7,667.0 162.2,667.0 162.7,667.0 163.3,667.0 163.8,667.0 164.3,667.0 164.9,667.0 165.4,667.0 166.0,667.0 166.5,667.0 167.0,667.0 167.6,667.0 168.1,667.0 168.6,667.0 169.2,667.0 169.7,667.0 170.2,667.0 170.8,667.0 171.3,667.0 171.8,667.0 172.4,667.0 172.9,667.0 173.4,667.0 174.0,667.0 174.5,667.0 175.0,667.0 175.6,667.0 176.1,667.0 176.6,667.0 177.2,667.0 177.7,667.0 178.2,667.0 178.8,667.0 179.3,667.0 179.8,667.0 180.4,667.0 180.9,667.0 181.4,667.0 182.0,667.0 182.5,667.0 183.0,667.0 183.6,667.0 184.1,667.0 184.7,667.0 185.2,667.0 185.7,667.0 186.3,667.0 186.8,667.0 187.3,667.0 187.9,667.0 188.4,667.0 188.9,667.0 189.5,667.0 190.0,667.0 190.5,667.0 191.1,667.0 191.6,667.0 192.1,667.0 192.7,667.0 193.2,667.0 193.7,667.0 194.3,667.0 194.8,667.0 195.3,667.0 195.9,667.0 196.4,667.0 196.9,667.0 197.5,667.0 198.0,667.0 198.5,667.0 199.1,667.0 199.6,667.0 200.1,667.0 200.7,667.0 201.2,667.0 201.7,667.0 202.3,667.0 202.8,667.0 203.3,667.0 203.9,667.0 204.4,667.0 205.0,667.0 205.5,667.0 206.0,667.0 206.6,667.0 207.1,667.0 207.6,667.0 208.2,667.0 208.7,667.0 209.2,667.0 209.8,667.0 210.3,667.0 210.8,667.0 211.4,667.0 211.9,667.0 212.4,667.0 213.0,667.0 213.5,667.0 214.0,667.0 214.6,667.0 215.1,667.0 215.6,667.0 216.2,667.0 216.7,667.0 217.2,667.0 217.8,667.0 218.3,667.0 218.8,667.0 219.4,667.0 219.9,667.0 220.4,667.0 221.0,667.0 221.5,667.0 222.0,667.0 222.6,667.0 223.1,667.0 223.7,667.0 224.2,667.0 224.7,667.0 225.3,667.0 225.8,667.0 226.3,667.0 226.9,667.0 227.4,667.0 227.9,667.0 228.5,667.0 229.0,667.0 229.5,667.0 230.1,667.0 230.6,667.0 231.1,667.0 231.7,667.0 232.2,667.0 232.7,667.0 233.3,667.0 233.8,667.0 234.3,667.0 234.9,667.0 235.4,667.0 235.9,667.0 236.5,667.0 237.0,667.0 237.5,667.0 238.1,667.0 238.6,667.0 239.1,667.0 239.7,667.0 240.2,667.0 240.7,667.0 241.3,667.0 241.8,667.0 242.3,667.0 242.9,667.0 243.4,667.0 244.0,667.0 244.5,667.0 245.0,667.0 245.6,667.0 246.1,667.0 246.6,667.0 247.2,667.0 247.7,667.0 248.2,667.0 248.8,667.0 249.3,667.0 249.8,667.0 250.4,667.0 250.9,667.0 251.4,667.0 252.0,667.0 252.5,667.0" fill="none" stroke="#e6805e" stroke-width="1.15"/><polyline points="38.8,667.0 39.3,667.0 39.9,667.0 40.4,667.0 40.9,667.0 41.5,667.0 42.0,667.0 42.5,667.0 43.1,667.0 43.6,667.0 44.1,667.0 44.7,667.0 45.2,667.0 45.7,667.0 46.3,667.0 46.8,667.0 47.3,667.0 47.9,667.0 48.4,667.0 49.0,667.0 49.5,667.0 50.0,667.0 50.6,667.0 51.1,667.0 51.6,667.0 52.2,667.0 52.7,667.0 53.2,667.0 53.8,667.0 54.3,667.0 54.8,667.0 55.4,667.0 55.9,667.0 56.4,667.0 57.0,667.0 57.5,667.0 58.0,667.0 58.6,666.9 59.1,666.7 59.6,666.4 60.2,665.9 60.7,665.3 61.2,664.5 61.8,663.5 62.3,662.4 62.8,661.2 63.4,659.8 63.9,658.3 64.4,656.7 65.0,655.1 65.5,653.3 66.0,651.6 66.6,649.8 67.1,648.0 67.6,646.1 68.2,644.3 68.7,642.5 69.3,640.8 69.8,639.1 70.3,637.4 70.9,635.8 71.4,634.3 71.9,632.8 72.5,631.4 73.0,630.1 73.5,628.9 74.1,627.8 74.6,626.8 75.1,625.8 75.7,625.0 76.2,624.2 76.7,623.6 77.3,623.0 77.8,622.5 78.3,622.1 78.9,621.8 79.4,621.6 79.9,621.4 80.5,621.3 81.0,621.3 81.5,621.4 82.1,621.5 82.6,621.7 83.1,622.0 83.7,622.3 84.2,622.7 84.7,623.1 85.3,623.5 85.8,624.0 86.3,624.6 86.9,625.2 87.4,625.8 88.0,626.4 88.5,627.1 89.0,627.8 89.6,628.5 90.1,629.2 90.6,630.0 91.2,630.7 91.7,631.5 92.2,632.3 92.8,633.1 93.3,633.8 93.8,634.6 94.4,635.4 94.9,636.2 95.4,637.0 96.0,637.8 96.5,638.6 97.0,639.4 97.6,640.2 98.1,640.9 98.6,641.7 99.2,642.4 99.7,643.2 100.2,643.9 100.8,644.6 101.3,645.3 101.8,646.0 102.4,646.7 102.9,647.3 103.4,648.0 104.0,648.6 104.5,649.2 105.0,649.8 105.6,650.4 106.1,651.0 106.6,651.6 107.2,652.1 107.7,652.7 108.3,653.2 108.8,653.7 109.3,654.2 109.9,654.6 110.4,655.1 110.9,655.6 111.5,656.0 112.0,656.4 112.5,656.8 113.1,657.2 113.6,657.6 114.1,658.0 114.7,658.3 115.2,658.7 115.7,659.0 116.3,659.3 116.8,659.6 117.3,659.9 117.9,660.2 118.4,660.5 118.9,660.8 119.5,661.0 120.0,661.3 120.5,661.5 121.1,661.8 121.6,662.0 122.1,662.2 122.7,662.4 123.2,662.6 123.7,662.8 124.3,663.0 124.8,663.1 125.3,663.3 125.9,663.5 126.4,663.6 127.0,663.8 127.5,663.9 128.0,664.1 128.6,664.2 129.1,664.3 129.6,664.4 130.2,664.6 130.7,664.7 131.2,664.8 131.8,664.9 132.3,665.0 132.8,665.1 133.4,665.2 133.9,665.2 134.4,665.3 135.0,665.4 135.5,665.5 136.0,665.6 136.6,665.6 137.1,665.7 137.6,665.7 138.2,665.8 138.7,665.9 139.2,665.9 139.8,666.0 140.3,666.0 140.8,666.1 141.4,666.1 141.9,666.2 142.4,666.2 143.0,666.2 143.5,666.3 144.0,666.3 144.6,666.3 145.1,666.4 145.6,666.4 146.2,666.4 146.7,666.5 147.3,666.5 147.8,666.5 148.3,666.5 148.9,666.6 149.4,666.6 149.9,666.6 150.5,666.6 151.0,666.6 151.5,666.7 152.1,666.7 152.6,666.7 153.1,666.7 153.7,666.7 154.2,666.7 154.7,666.8 155.3,666.8 155.8,666.8 156.3,666.8 156.9,666.8 157.4,666.8 157.9,666.8 158.5,666.8 159.0,666.8 159.5,666.8 160.1,666.9 160.6,666.9 161.1,666.9 161.7,666.9 162.2,666.9 162.7,666.9 163.3,666.9 163.8,666.9 164.3,666.9 164.9,666.9 165.4,666.9 166.0,666.9 166.5,666.9 167.0,666.9 167.6,666.9 168.1,666.9 168.6,666.9 169.2,666.9 169.7,666.9 170.2,666.9 170.8,666.9 171.3,667.0 171.8,667.0 172.4,667.0 172.9,667.0 173.4,667.0 174.0,667.0 174.5,667.0 175.0,667.0 175.6,667.0 176.1,667.0 176.6,667.0 177.2,667.0 177.7,667.0 178.2,667.0 178.8,667.0 179.3,667.0 179.8,667.0 180.4,667.0 180.9,667.0 181.4,667.0 182.0,667.0 182.5,667.0 183.0,667.0 183.6,667.0 184.1,667.0 184.7,667.0 185.2,667.0 185.7,667.0 186.3,667.0 186.8,667.0 187.3,667.0 187.9,667.0 188.4,667.0 188.9,667.0 189.5,667.0 190.0,667.0 190.5,667.0 191.1,667.0 191.6,667.0 192.1,667.0 192.7,667.0 193.2,667.0 193.7,667.0 194.3,667.0 194.8,667.0 195.3,667.0 195.9,667.0 196.4,667.0 196.9,667.0 197.5,667.0 198.0,667.0 198.5,667.0 199.1,667.0 199.6,667.0 200.1,667.0 200.7,667.0 201.2,667.0 201.7,667.0 202.3,667.0 202.8,667.0 203.3,667.0 203.9,667.0 204.4,667.0 205.0,667.0 205.5,667.0 206.0,667.0 206.6,667.0 207.1,667.0 207.6,667.0 208.2,667.0 208.7,667.0 209.2,667.0 209.8,667.0 210.3,667.0 210.8,667.0 211.4,667.0 211.9,667.0 212.4,667.0 213.0,667.0 213.5,667.0 214.0,667.0 214.6,667.0 215.1,667.0 215.6,667.0 216.2,667.0 216.7,667.0 217.2,667.0 217.8,667.0 218.3,667.0 218.8,667.0 219.4,667.0 219.9,667.0 220.4,667.0 221.0,667.0 221.5,667.0 222.0,667.0 222.6,667.0 223.1,667.0 223.7,667.0 224.2,667.0 224.7,667.0 225.3,667.0 225.8,667.0 226.3,667.0 226.9,667.0 227.4,667.0 227.9,667.0 228.5,667.0 229.0,667.0 229.5,667.0 230.1,667.0 230.6,667.0 231.1,667.0 231.7,667.0 232.2,667.0 232.7,667.0 233.3,667.0 233.8,667.0 234.3,667.0 234.9,667.0 235.4,667.0 235.9,667.0 236.5,667.0 237.0,667.0 237.5,667.0 238.1,667.0 238.6,667.0 239.1,667.0 239.7,667.0 240.2,667.0 240.7,667.0 241.3,667.0 241.8,667.0 242.3,667.0 242.9,667.0 243.4,667.0 244.0,667.0 244.5,667.0 245.0,667.0 245.6,667.0 246.1,667.0 246.6,667.0 247.2,667.0 247.7,667.0 248.2,667.0 248.8,667.0 249.3,667.0 249.8,667.0 250.4,667.0 250.9,667.0 251.4,667.0 252.0,667.0 252.5,667.0" fill="none" stroke="#3434a8" stroke-width="1.15"/><polyline points="38.8,667.0 39.3,667.0 39.9,667.0 40.4,667.0 40.9,667.0 41.5,667.0 42.0,667.0 42.5,667.0 43.1,667.0 43.6,667.0 44.1,667.0 44.7,667.0 45.2,667.0 45.7,667.0 46.3,667.0 46.8,667.0 47.3,667.0 47.9,667.0 48.4,667.0 49.0,667.0 49.5,667.0 50.0,667.0 50.6,667.0 51.1,667.0 51.6,666.7 52.2,665.8 52.7,664.3 53.2,662.3 53.8,660.0 54.3,657.4 54.8,654.9 55.4,652.5 55.9,650.2 56.4,648.1 57.0,646.3 57.5,644.8 58.0,643.6 58.6,642.7 59.1,642.1 59.6,641.7 60.2,641.6 60.7,641.7 61.2,642.0 61.8,642.5 62.3,643.1 62.8,643.8 63.4,644.6 63.9,645.5 64.4,646.5 65.0,647.4 65.5,648.4 66.0,649.4 66.6,650.4 67.1,651.4 67.6,652.4 68.2,653.4 68.7,654.3 69.3,655.2 69.8,656.0 70.3,656.8 70.9,657.6 71.4,658.3 71.9,659.0 72.5,659.6 73.0,660.2 73.5,660.8 74.1,661.3 74.6,661.8 75.1,662.3 75.7,662.7 76.2,663.1 76.7,663.4 77.3,663.7 77.8,664.0 78.3,664.3 78.9,664.6 79.4,664.8 79.9,665.0 80.5,665.2 81.0,665.4 81.5,665.5 82.1,665.7 82.6,665.8 83.1,665.9 83.7,666.0 84.2,666.1 84.7,666.2 85.3,666.3 85.8,666.4 86.3,666.4 86.9,666.5 87.4,666.5 88.0,666.6 88.5,666.6 89.0,666.7 89.6,666.7 90.1,666.7 90.6,666.8 91.2,666.8 91.7,666.8 92.2,666.8 92.8,666.9 93.3,666.9 93.8,666.9 94.4,666.9 94.9,666.9 95.4,666.9 96.0,666.9 96.5,666.9 97.0,666.9 97.6,666.9 98.1,667.0 98.6,667.0 99.2,667.0 99.7,667.0 100.2,667.0 100.8,667.0 101.3,667.0 101.8,667.0 102.4,667.0 102.9,667.0 103.4,667.0 104.0,667.0 104.5,667.0 105.0,667.0 105.6,667.0 106.1,667.0 106.6,667.0 107.2,667.0 107.7,667.0 108.3,667.0 108.8,667.0 109.3,667.0 109.9,667.0 110.4,667.0 110.9,667.0 111.5,667.0 112.0,667.0 112.5,667.0 113.1,667.0 113.6,667.0 114.1,667.0 114.7,667.0 115.2,667.0 115.7,667.0 116.3,667.0 116.8,667.0 117.3,667.0 117.9,667.0 118.4,667.0 118.9,667.0 119.5,667.0 120.0,667.0 120.5,667.0 121.1,667.0 121.6,667.0 122.1,667.0 122.7,667.0 123.2,667.0 123.7,667.0 124.3,667.0 124.8,667.0 125.3,667.0 125.9,667.0 126.4,667.0 127.0,667.0 127.5,667.0 128.0,667.0 128.6,667.0 129.1,667.0 129.6,667.0 130.2,667.0 130.7,667.0 131.2,667.0 131.8,667.0 132.3,667.0 132.8,667.0 133.4,667.0 133.9,667.0 134.4,667.0 135.0,667.0 135.5,667.0 136.0,667.0 136.6,667.0 137.1,667.0 137.6,667.0 138.2,667.0 138.7,667.0 139.2,667.0 139.8,667.0 140.3,667.0 140.8,667.0 141.4,667.0 141.9,667.0 142.4,667.0 143.0,667.0 143.5,667.0 144.0,667.0 144.6,667.0 145.1,667.0 145.6,667.0 146.2,667.0 146.7,667.0 147.3,667.0 147.8,667.0 148.3,667.0 148.9,667.0 149.4,667.0 149.9,667.0 150.5,667.0 151.0,667.0 151.5,667.0 152.1,667.0 152.6,667.0 153.1,667.0 153.7,667.0 154.2,667.0 154.7,667.0 155.3,667.0 155.8,667.0 156.3,667.0 156.9,667.0 157.4,667.0 157.9,667.0 158.5,667.0 159.0,667.0 159.5,667.0 160.1,667.0 160.6,667.0 161.1,667.0 161.7,667.0 162.2,667.0 162.7,667.0 163.3,667.0 163.8,667.0 164.3,667.0 164.9,667.0 165.4,667.0 166.0,667.0 166.5,667.0 167.0,667.0 167.6,667.0 168.1,667.0 168.6,667.0 169.2,667.0 169.7,667.0 170.2,667.0 170.8,667.0 171.3,667.0 171.8,667.0 172.4,667.0 172.9,667.0 173.4,667.0 174.0,667.0 174.5,667.0 175.0,667.0 175.6,667.0 176.1,667.0 176.6,667.0 177.2,667.0 177.7,667.0 178.2,667.0 178.8,667.0 179.3,667.0 179.8,667.0 180.4,667.0 180.9,667.0 181.4,667.0 182.0,667.0 182.5,667.0 183.0,667.0 183.6,667.0 184.1,667.0 184.7,667.0 185.2,667.0 185.7,667.0 186.3,667.0 186.8,667.0 187.3,667.0 187.9,667.0 188.4,667.0 188.9,667.0 189.5,667.0 190.0,667.0 190.5,667.0 191.1,667.0 191.6,667.0 192.1,667.0 192.7,667.0 193.2,667.0 193.7,667.0 194.3,667.0 194.8,667.0 195.3,667.0 195.9,667.0 196.4,667.0 196.9,667.0 197.5,667.0 198.0,667.0 198.5,667.0 199.1,667.0 199.6,667.0 200.1,667.0 200.7,667.0 201.2,667.0 201.7,667.0 202.3,667.0 202.8,667.0 203.3,667.0 203.9,667.0 204.4,667.0 205.0,667.0 205.5,667.0 206.0,667.0 206.6,667.0 207.1,667.0 207.6,667.0 208.2,667.0 208.7,667.0 209.2,667.0 209.8,667.0 210.3,667.0 210.8,667.0 211.4,667.0 211.9,667.0 212.4,667.0 213.0,667.0 213.5,667.0 214.0,667.0 214.6,667.0 215.1,667.0 215.6,667.0 216.2,667.0 216.7,667.0 217.2,667.0 217.8,667.0 218.3,667.0 218.8,667.0 219.4,667.0 219.9,667.0 220.4,667.0 221.0,667.0 221.5,667.0 222.0,667.0 222.6,667.0 223.1,667.0 223.7,667.0 224.2,667.0 224.7,667.0 225.3,667.0 225.8,667.0 226.3,667.0 226.9,667.0 227.4,667.0 227.9,667.0 228.5,667.0 229.0,667.0 229.5,667.0 230.1,667.0 230.6,667.0 231.1,667.0 231.7,667.0 232.2,667.0 232.7,667.0 233.3,667.0 233.8,667.0 234.3,667.0 234.9,667.0 235.4,667.0 235.9,667.0 236.5,667.0 237.0,667.0 237.5,667.0 238.1,667.0 238.6,667.0 239.1,667.0 239.7,667.0 240.2,667.0 240.7,667.0 241.3,667.0 241.8,667.0 242.3,667.0 242.9,667.0 243.4,667.0 244.0,667.0 244.5,667.0 245.0,667.0 245.6,667.0 246.1,667.0 246.6,667.0 247.2,667.0 247.7,667.0 248.2,667.0 248.8,667.0 249.3,667.0 249.8,667.0 250.4,667.0 250.9,667.0 251.4,667.0 252.0,667.0 252.5,667.0" fill="none" stroke="#5278b8" stroke-width="1.15"/><line x1="39.3" y1="666.8" x2="252.0" y2="666.8" stroke="#8484c8" stroke-width="1.3"/><line x1="38.8" y1="587.7" x2="252.5" y2="587.7" stroke="#8a8a8a" stroke-width="1.1" stroke-opacity="0.75"/><path d="M48.3,577.4L53.9,577.4L51.1,587.5Z" fill="#e43a4c"/><text x="51.9" y="576.0" text-anchor="middle" font-size="9.6" font-weight="bold" fill="#111" font-family="Liberation Sans, sans-serif">IF</text><path d="M165.7,578.4L171.3,578.4L168.5,587.5Z" fill="#e43a4c"/><text x="169.3" y="577.0" text-anchor="middle" font-size="9.6" font-weight="bold" fill="#111" font-family="Liberation Sans, sans-serif">ECM</text><text x="221.25" y="609.0" text-anchor="end" font-size="9" fill="#222" font-family="Liberation Sans, sans-serif">E1</text><line x1="226.25" y1="605.8" x2="249.55" y2="605.8" stroke="#4a8a5c" stroke-width="1.4"/><text x="221.25" y="617.9" text-anchor="end" font-size="9" fill="#222" font-family="Liberation Sans, sans-serif">H2</text><line x1="226.25" y1="614.6" x2="249.55" y2="614.6" stroke="#3434a8" stroke-width="1.4"/><text x="221.25" y="626.8" text-anchor="end" font-size="9" fill="#222" font-family="Liberation Sans, sans-serif">M2</text><line x1="226.25" y1="623.5" x2="249.55" y2="623.5" stroke="#744a4a" stroke-width="1.4"/><text x="221.25" y="635.7" text-anchor="end" font-size="9" fill="#222" font-family="Liberation Sans, sans-serif">M3</text><line x1="226.25" y1="632.5" x2="249.55" y2="632.5" stroke="#302626" stroke-width="1.4"/><text x="221.25" y="644.6" text-anchor="end" font-size="9" fill="#222" font-family="Liberation Sans, sans-serif">M1</text><line x1="226.25" y1="641.4" x2="249.55" y2="641.4" stroke="#e6805e" stroke-width="1.4"/><text x="221.25" y="653.5" text-anchor="end" font-size="9" fill="#222" font-family="Liberation Sans, sans-serif">H1</text><line x1="226.25" y1="650.2" x2="249.55" y2="650.2" stroke="#5278b8" stroke-width="1.4"/><rect x="304.9" y="454.6" width="213.39999999999998" height="79.10000000000002" fill="none" stroke="#8a8a8a" stroke-width="1.1"/><line x1="304.9" y1="533.7" x2="307.4" y2="533.7" stroke="#9a9a9a" stroke-width="0.8"/><line x1="518.3" y1="533.7" x2="515.8" y2="533.7" stroke="#9a9a9a" stroke-width="0.8"/><text transform="translate(301.5,537.0) scale(1,1.12)" text-anchor="end" font-size="9.3" font-weight="bold" fill="#111" font-family="Liberation Sans, sans-serif">0</text><line x1="304.9" y1="517.9" x2="307.4" y2="517.9" stroke="#9a9a9a" stroke-width="0.8"/><line x1="518.3" y1="517.9" x2="515.8" y2="517.9" stroke="#9a9a9a" stroke-width="0.8"/><text transform="translate(301.5,521.5) scale(1,1.12)" text-anchor="end" font-size="9.3" font-weight="bold" fill="#111" font-family="Liberation Sans, sans-serif">0.2</text><line x1="304.9" y1="502.1" x2="307.4" y2="502.1" stroke="#9a9a9a" stroke-width="0.8"/><line x1="518.3" y1="502.1" x2="515.8" y2="502.1" stroke="#9a9a9a" stroke-width="0.8"/><text transform="translate(301.5,506.0) scale(1,1.12)" text-anchor="end" font-size="9.3" font-weight="bold" fill="#111" font-family="Liberation Sans, sans-serif">0.4</text><line x1="304.9" y1="486.2" x2="307.4" y2="486.2" stroke="#9a9a9a" stroke-width="0.8"/><line x1="518.3" y1="486.2" x2="515.8" y2="486.2" stroke="#9a9a9a" stroke-width="0.8"/><text transform="translate(301.5,490.4) scale(1,1.12)" text-anchor="end" font-size="9.3" font-weight="bold" fill="#111" font-family="Liberation Sans, sans-serif">0.6</text><line x1="304.9" y1="470.4" x2="307.4" y2="470.4" stroke="#9a9a9a" stroke-width="0.8"/><line x1="518.3" y1="470.4" x2="515.8" y2="470.4" stroke="#9a9a9a" stroke-width="0.8"/><text transform="translate(301.5,474.9) scale(1,1.12)" text-anchor="end" font-size="9.3" font-weight="bold" fill="#111" font-family="Liberation Sans, sans-serif">0.8</text><line x1="304.9" y1="454.6" x2="307.4" y2="454.6" stroke="#9a9a9a" stroke-width="0.8"/><line x1="518.3" y1="454.6" x2="515.8" y2="454.6" stroke="#9a9a9a" stroke-width="0.8"/><text transform="translate(301.5,459.4) scale(1,1.12)" text-anchor="end" font-size="9.3" font-weight="bold" fill="#111" font-family="Liberation Sans, sans-serif">1</text><line x1="304.9" y1="533.7" x2="304.9" y2="531.2" stroke="#9a9a9a" stroke-width="0.8"/><text transform="translate(304.9,544.2) scale(1,1.12)" text-anchor="middle" font-size="9.3" font-weight="bold" fill="#111" font-family="Liberation Sans, sans-serif">0</text><line x1="344.9" y1="533.7" x2="344.9" y2="531.2" stroke="#9a9a9a" stroke-width="0.8"/><text transform="translate(344.9,544.2) scale(1,1.12)" text-anchor="middle" font-size="9.3" font-weight="bold" fill="#111" font-family="Liberation Sans, sans-serif">100</text><line x1="385.0" y1="533.7" x2="385.0" y2="531.2" stroke="#9a9a9a" stroke-width="0.8"/><text transform="translate(385.0,544.2) scale(1,1.12)" text-anchor="middle" font-size="9.3" font-weight="bold" fill="#111" font-family="Liberation Sans, sans-serif">200</text><line x1="425.0" y1="533.7" x2="425.0" y2="531.2" stroke="#9a9a9a" stroke-width="0.8"/><text transform="translate(425.0,544.2) scale(1,1.12)" text-anchor="middle" font-size="9.3" font-weight="bold" fill="#111" font-family="Liberation Sans, sans-serif">300</text><line x1="465.1" y1="533.7" x2="465.1" y2="531.2" stroke="#9a9a9a" stroke-width="0.8"/><text transform="translate(465.1,544.2) scale(1,1.12)" text-anchor="middle" font-size="9.3" font-weight="bold" fill="#111" font-family="Liberation Sans, sans-serif">400</text><line x1="505.1" y1="533.7" x2="505.1" y2="531.2" stroke="#9a9a9a" stroke-width="0.8"/><text transform="translate(505.1,544.2) scale(1,1.12)" text-anchor="middle" font-size="9.3" font-weight="bold" fill="#111" font-family="Liberation Sans, sans-serif">500</text><text transform="translate(409.8,557.2) scale(1,1.14)" text-anchor="middle" font-size="9.6" font-weight="bold" fill="#111" font-family="Liberation Sans, sans-serif">Simulation steps</text><text transform="translate(270.7,497.4) rotate(-90)" x="0" y="3.3" text-anchor="middle" font-size="9.6" font-weight="bold" fill="#111" font-family="Liberation Sans, sans-serif">Phenotype</text><text transform="translate(280.0,497.4) rotate(-90)" x="0" y="3.3" text-anchor="middle" font-size="9.6" font-weight="bold" fill="#111" font-family="Liberation Sans, sans-serif">probabilities</text><text transform="translate(310.7,494.0) rotate(-90) scale(0.82,1)" x="0" y="3.4" text-anchor="middle" font-size="9.6" font-weight="bold" fill="#111" font-family="Liberation Sans, sans-serif">[0000]</text><line x1="313.1" y1="454.6" x2="313.1" y2="533.7" stroke="#f4b4b4" stroke-width="0.8"/><line x1="388.4" y1="454.6" x2="388.4" y2="533.7" stroke="#f4b4b4" stroke-width="0.8"/><line x1="462.6" y1="454.6" x2="462.6" y2="533.7" stroke="#f4b4b4" stroke-width="0.8"/><polyline points="304.9,533.7 305.4,533.7 306.0,533.7 306.5,533.7 307.0,533.7 307.6,533.7 308.1,533.7 308.6,533.7 309.2,533.7 309.7,533.7 310.2,533.7 310.8,533.7 311.3,533.7 311.8,533.7 312.4,533.7 312.9,533.7 313.4,533.7 314.0,533.7 314.5,533.7 315.0,533.7 315.6,533.7 316.1,533.7 316.6,533.7 317.2,533.7 317.7,533.7 318.2,533.7 318.8,533.7 319.3,533.7 319.8,533.7 320.4,533.7 320.9,533.7 321.4,533.7 322.0,533.7 322.5,533.7 323.0,533.7 323.6,533.7 324.1,533.7 324.6,533.7 325.2,533.7 325.7,533.7 326.2,533.7 326.8,533.7 327.3,533.7 327.8,533.7 328.4,533.7 328.9,533.7 329.4,533.7 330.0,533.7 330.5,533.7 331.0,533.7 331.6,533.7 332.1,533.7 332.6,533.7 333.2,533.7 333.7,533.7 334.2,533.7 334.8,533.7 335.3,533.7 335.8,533.7 336.4,533.7 336.9,533.7 337.4,533.7 338.0,533.7 338.5,533.7 339.0,533.7 339.6,533.7 340.1,533.7 340.6,533.7 341.2,533.7 341.7,533.7 342.2,533.7 342.8,533.7 343.3,533.7 343.8,533.7 344.4,533.7 344.9,533.7 345.4,533.7 346.0,533.7 346.5,533.7 347.0,533.7 347.6,533.7 348.1,533.7 348.6,533.7 349.2,533.7 349.7,533.7 350.2,533.7 350.8,533.7 351.3,533.7 351.8,533.7 352.4,533.7 352.9,533.7 353.4,533.7 354.0,533.7 354.5,533.7 355.0,533.7 355.6,533.7 356.1,533.7 356.6,533.7 357.2,533.7 357.7,533.7 358.2,533.7 358.8,533.7 359.3,533.7 359.9,533.7 360.4,533.7 360.9,533.7 361.5,533.7 362.0,533.7 362.5,533.7 363.1,533.7 363.6,533.7 364.1,533.7 364.7,533.7 365.2,533.7 365.7,533.7 366.3,533.7 366.8,533.7 367.3,533.7 367.9,533.7 368.4,533.7 368.9,533.7 369.5,533.7 370.0,533.7 370.5,533.7 371.1,533.7 371.6,533.7 372.1,533.7 372.7,533.7 373.2,533.7 373.7,533.7 374.3,533.7 374.8,533.7 375.3,533.7 375.9,533.7 376.4,533.7 376.9,533.7 377.5,533.7 378.0,533.7 378.5,533.7 379.1,533.7 379.6,533.7 380.1,533.7 380.7,533.7 381.2,533.7 381.7,533.7 382.3,533.7 382.8,533.7 383.3,533.7 383.9,533.7 384.4,533.7 384.9,533.7 385.5,533.7 386.0,533.7 386.5,533.7 387.1,533.7 387.6,533.7 388.1,533.7 388.7,533.7 389.2,533.7 389.7,533.7 390.3,533.7 390.8,533.7 391.3,533.7 391.9,533.7 392.4,533.7 392.9,533.7 393.5,533.7 394.0,533.7 394.5,533.7 395.1,533.7 395.6,533.7 396.1,533.7 396.7,533.7 397.2,533.7 397.7,533.7 398.3,533.7 398.8,533.7 399.3,533.7 399.9,533.7 400.4,533.7 400.9,533.7 401.5,533.7 402.0,533.7 402.5,533.7 403.1,533.7 403.6,533.7 404.1,533.7 404.7,533.7 405.2,533.7 405.7,533.7 406.3,533.7 406.8,533.7 407.3,533.7 407.9,533.7 408.4,533.7 408.9,533.7 409.5,533.7 410.0,533.7 410.5,533.7 411.1,533.7 411.6,533.7 412.1,533.7 412.7,533.7 413.2,533.7 413.7,533.7 414.3,533.7 414.8,533.7 415.3,533.7 415.9,533.7 416.4,533.7 416.9,533.7 417.5,533.7 418.0,533.7 418.5,533.7 419.1,533.7 419.6,533.7 420.1,533.7 420.7,533.7 421.2,533.7 421.7,533.7 422.3,533.7 422.8,533.7 423.3,533.7 423.9,533.7 424.4,533.7 424.9,533.7 425.5,533.7 426.0,533.7 426.5,533.7 427.1,533.7 427.6,533.7 428.1,533.7 428.7,533.7 429.2,533.7 429.7,533.7 430.3,533.7 430.8,533.7 431.3,533.7 431.9,533.7 432.4,533.7 432.9,533.7 433.5,533.7 434.0,533.7 434.5,533.7 435.1,533.7 435.6,533.7 436.1,533.7 436.7,533.7 437.2,533.7 437.7,533.7 438.3,533.7 438.8,533.7 439.3,533.7 439.9,533.7 440.4,533.7 440.9,533.7 441.5,533.7 442.0,533.7 442.5,533.7 443.1,533.7 443.6,533.7 444.1,533.7 444.7,533.7 445.2,533.7 445.7,533.7 446.3,533.7 446.8,533.7 447.3,533.7 447.9,533.7 448.4,533.7 448.9,533.7 449.5,533.7 450.0,533.7 450.5,533.7 451.1,533.7 451.6,533.7 452.1,533.7 452.7,533.7 453.2,533.7 453.7,533.7 454.3,533.7 454.8,533.7 455.3,533.7 455.9,533.7 456.4,533.7 456.9,533.7 457.5,533.7 458.0,533.7 458.5,533.7 459.1,533.7 459.6,533.7 460.1,533.7 460.7,533.7 461.2,533.7 461.7,533.7 462.3,533.7 462.8,533.6 463.3,532.4 463.9,530.4 464.4,527.7 464.9,524.5 465.5,521.0 466.0,517.3 466.6,513.5 467.1,509.7 467.6,506.0 468.2,502.3 468.7,498.8 469.2,495.4 469.8,492.2 470.3,489.1 470.8,486.3 471.4,483.6 471.9,481.1 472.4,478.8 473.0,476.6 473.5,474.7 474.0,472.8 474.6,471.1 475.1,469.6 475.6,468.2 476.2,466.9 476.7,465.7 477.2,464.6 477.8,463.7 478.3,462.8 478.8,462.0 479.4,461.2 479.9,460.6 480.4,460.0 481.0,459.4 481.5,458.9 482.0,458.5 482.6,458.1 483.1,457.7 483.6,457.4 484.2,457.1 484.7,456.9 485.2,456.6 485.8,456.4 486.3,456.2 486.8,456.0 487.4,455.9 487.9,455.8 488.4,455.6 489.0,455.5 489.5,455.4 490.0,455.3 490.6,455.3 491.1,455.2 491.6,455.1 492.2,455.1 492.7,455.0 493.2,455.0 493.8,454.9 494.3,454.9 494.8,454.9 495.4,454.8 495.9,454.8 496.4,454.8 497.0,454.8 497.5,454.7 498.0,454.7 498.6,454.7 499.1,454.7 499.6,454.7 500.2,454.7 500.7,454.7 501.2,454.7 501.8,454.7 502.3,454.7 502.8,454.6 503.4,454.6 503.9,454.6 504.4,454.6 505.0,454.6 505.5,454.6 506.0,454.6 506.6,454.6 507.1,454.6 507.6,454.6 508.2,454.6 508.7,454.6 509.2,454.6 509.8,454.6 510.3,454.6 510.8,454.6 511.4,454.6 511.9,454.6 512.4,454.6 513.0,454.6 513.5,454.6 514.0,454.6 514.6,454.6 515.1,454.6 515.6,454.6 516.2,454.6 516.7,454.6 517.2,454.6 517.8,454.6 518.3,454.6" fill="none" stroke="#302626" stroke-width="1.15"/><polyline points="304.9,533.7 305.4,533.7 306.0,533.7 306.5,533.7 307.0,533.7 307.6,533.7 308.1,533.7 308.6,533.7 309.2,533.7 309.7,533.7 310.2,533.7 310.8,533.7 311.3,533.7 311.8,533.7 312.4,533.7 312.9,533.7 313.4,533.7 314.0,533.7 314.5,533.7 315.0,533.7 315.6,533.7 316.1,533.7 316.6,533.7 317.2,533.7 317.7,533.7 318.2,533.7 318.8,533.7 319.3,533.7 319.8,533.7 320.4,533.7 320.9,533.7 321.4,533.7 322.0,533.6 322.5,533.6 323.0,533.6 323.6,533.6 324.1,533.6 324.6,533.6 325.2,533.6 325.7,533.5 326.2,533.5 326.8,533.5 327.3,533.4 327.8,533.4 328.4,533.3 328.9,533.3 329.4,533.2 330.0,533.1 330.5,533.0 331.0,532.9 331.6,532.8 332.1,532.7 332.6,532.5 333.2,532.4 333.7,532.2 334.2,532.0 334.8,531.8 335.3,531.6 335.8,531.4 336.4,531.2 336.9,530.9 337.4,530.7 338.0,530.5 338.5,530.3 339.0,530.0 339.6,529.8 340.1,529.7 340.6,529.5 341.2,529.3 341.7,529.2 342.2,529.0 342.8,528.9 343.3,528.8 343.8,528.7 344.4,528.7 344.9,528.6 345.4,528.5 346.0,528.5 346.5,528.4 347.0,528.4 347.6,528.4 348.1,528.3 348.6,528.3 349.2,528.3 349.7,528.3 350.2,528.2 350.8,528.2 351.3,528.2 351.8,528.2 352.4,528.2 352.9,528.2 353.4,528.2 354.0,528.2 354.5,528.2 355.0,528.2 355.6,528.2 356.1,528.2 356.6,528.2 357.2,528.2 357.7,528.2 358.2,528.2 358.8,528.2 359.3,528.2 359.9,528.2 360.4,528.2 360.9,528.2 361.5,528.2 362.0,528.2 362.5,528.2 363.1,528.2 363.6,528.2 364.1,528.2 364.7,528.2 365.2,528.2 365.7,528.2 366.3,528.2 366.8,528.2 367.3,528.2 367.9,528.2 368.4,528.2 368.9,528.2 369.5,528.2 370.0,528.2 370.5,528.2 371.1,528.2 371.6,528.2 372.1,528.2 372.7,528.2 373.2,528.2 373.7,528.2 374.3,528.2 374.8,528.2 375.3,528.2 375.9,528.2 376.4,528.2 376.9,528.2 377.5,528.2 378.0,528.2 378.5,528.2 379.1,528.2 379.6,528.2 380.1,528.2 380.7,528.2 381.2,528.2 381.7,528.2 382.3,528.2 382.8,528.2 383.3,528.2 383.9,528.2 384.4,528.2 384.9,528.2 385.5,528.2 386.0,528.2 386.5,528.2 387.1,528.2 387.6,528.2 388.1,528.2 388.7,528.2 389.2,528.2 389.7,528.1 390.3,528.1 390.8,528.0 391.3,527.8 391.9,527.6 392.4,527.2 392.9,526.8 393.5,526.2 394.0,525.5 394.5,524.6 395.1,523.7 395.6,522.6 396.1,521.3 396.7,520.0 397.2,518.5 397.7,517.0 398.3,515.4 398.8,513.7 399.3,511.9 399.9,510.1 400.4,508.2 400.9,506.3 401.5,504.4 402.0,502.5 402.5,500.6 403.1,498.6 403.6,496.7 404.1,494.9 404.7,493.0 405.2,491.2 405.7,489.4 406.3,487.7 406.8,486.0 407.3,484.3 407.9,482.7 408.4,481.2 408.9,479.7 409.5,478.3 410.0,477.0 410.5,475.6 411.1,474.4 411.6,473.2 412.1,472.1 412.7,471.0 413.2,470.0 413.7,469.0 414.3,468.1 414.8,467.2 415.3,466.4 415.9,465.6 416.4,464.8 416.9,464.1 417.5,463.5 418.0,462.9 418.5,462.3 419.1,461.8 419.6,461.3 420.1,460.8 420.7,460.3 421.2,459.9 421.7,459.5 422.3,459.2 422.8,458.8 423.3,458.5 423.9,458.2 424.4,458.0 424.9,457.7 425.5,457.5 426.0,457.2 426.5,457.0 427.1,456.8 427.6,456.7 428.1,456.5 428.7,456.4 429.2,456.2 429.7,456.1 430.3,456.0 430.8,455.9 431.3,455.8 431.9,455.7 432.4,455.6 432.9,455.5 433.5,455.4 434.0,455.4 434.5,455.3 435.1,455.2 435.6,455.2 436.1,455.1 436.7,455.1 437.2,455.1 437.7,455.0 438.3,455.0 438.8,454.9 439.3,454.9 439.9,454.9 440.4,454.9 440.9,454.8 441.5,454.8 442.0,454.8 442.5,454.8 443.1,454.8 443.6,454.8 444.1,454.7 444.7,454.7 445.2,454.7 445.7,454.7 446.3,454.7 446.8,454.7 447.3,454.7 447.9,454.7 448.4,454.7 448.9,454.7 449.5,454.7 450.0,454.7 450.5,454.6 451.1,454.6 451.6,454.6 452.1,454.6 452.7,454.6 453.2,454.6 453.7,454.6 454.3,454.6 454.8,454.6 455.3,454.6 455.9,454.6 456.4,454.6 456.9,454.6 457.5,454.6 458.0,454.6 458.5,454.6 459.1,454.6 459.6,454.6 460.1,454.6 460.7,454.6 461.2,454.6 461.7,454.6 462.3,454.6 462.8,454.7 463.3,455.9 463.9,457.9 464.4,460.6 464.9,463.8 465.5,467.3 466.0,471.0 466.6,474.8 467.1,478.6 467.6,482.3 468.2,486.0 468.7,489.5 469.2,492.9 469.8,496.1 470.3,499.2 470.8,502.0 471.4,504.7 471.9,507.2 472.4,509.5 473.0,511.7 473.5,513.6 474.0,515.5 474.6,517.2 475.1,518.7 475.6,520.1 476.2,521.4 476.7,522.6 477.2,523.7 477.8,524.6 478.3,525.5 478.8,526.3 479.4,527.1 479.9,527.7 480.4,528.3 481.0,528.9 481.5,529.4 482.0,529.8 482.6,530.2 483.1,530.6 483.6,530.9 484.2,531.2 484.7,531.4 485.2,531.7 485.8,531.9 486.3,532.1 486.8,532.3 487.4,532.4 487.9,532.5 488.4,532.7 489.0,532.8 489.5,532.9 490.0,533.0 490.6,533.0 491.1,533.1 491.6,533.2 492.2,533.2 492.7,533.3 493.2,533.3 493.8,533.4 494.3,533.4 494.8,533.4 495.4,533.5 495.9,533.5 496.4,533.5 497.0,533.5 497.5,533.6 498.0,533.6 498.6,533.6 499.1,533.6 499.6,533.6 500.2,533.6 500.7,533.6 501.2,533.6 501.8,533.6 502.3,533.6 502.8,533.7 503.4,533.7 503.9,533.7 504.4,533.7 505.0,533.7 505.5,533.7 506.0,533.7 506.6,533.7 507.1,533.7 507.6,533.7 508.2,533.7 508.7,533.7 509.2,533.7 509.8,533.7 510.3,533.7 510.8,533.7 511.4,533.7 511.9,533.7 512.4,533.7 513.0,533.7 513.5,533.7 514.0,533.7 514.6,533.7 515.1,533.7 515.6,533.7 516.2,533.7 516.7,533.7 517.2,533.7 517.8,533.7 518.3,533.7" fill="none" stroke="#744a4a" stroke-width="1.15"/><polyline points="304.9,454.6 305.4,454.6 306.0,454.6 306.5,454.6 307.0,454.6 307.6,454.6 308.1,454.6 308.6,454.6 309.2,454.6 309.7,454.6 310.2,454.6 310.8,454.6 311.3,454.6 311.8,454.6 312.4,454.6 312.9,454.6 313.4,454.8 314.0,455.6 314.5,456.9 315.0,458.8 315.6,461.1 316.1,463.8 316.6,466.8 317.2,470.1 317.7,473.6 318.2,477.3 318.8,481.1 319.3,484.9 319.8,488.7 320.4,492.5 320.9,496.2 321.4,499.7 322.0,503.1 322.5,506.3 323.0,509.3 323.6,512.2 324.1,514.7 324.6,517.1 325.2,519.3 325.7,521.2 326.2,523.0 326.8,524.5 327.3,525.9 327.8,527.1 328.4,528.2 328.9,529.1 329.4,529.8 330.0,530.5 330.5,531.1 331.0,531.6 331.6,532.0 332.1,532.3 332.6,532.6 333.2,532.8 333.7,533.0 334.2,533.1 334.8,533.2 335.3,533.3 335.8,533.4 336.4,533.5 336.9,533.5 337.4,533.6 338.0,533.6 338.5,533.6 339.0,533.6 339.6,533.7 340.1,533.7 340.6,533.7 341.2,533.7 341.7,533.7 342.2,533.7 342.8,533.7 343.3,533.7 343.8,533.7 344.4,533.7 344.9,533.7 345.4,533.7 346.0,533.7 346.5,533.7 347.0,533.7 347.6,533.7 348.1,533.7 348.6,533.7 349.2,533.7 349.7,533.7 350.2,533.7 350.8,533.7 351.3,533.7 351.8,533.7 352.4,533.7 352.9,533.7 353.4,533.7 354.0,533.7 354.5,533.7 355.0,533.7 355.6,533.7 356.1,533.7 356.6,533.7 357.2,533.7 357.7,533.7 358.2,533.7 358.8,533.7 359.3,533.7 359.9,533.7 360.4,533.7 360.9,533.7 361.5,533.7 362.0,533.7 362.5,533.7 363.1,533.7 363.6,533.7 364.1,533.7 364.7,533.7 365.2,533.7 365.7,533.7 366.3,533.7 366.8,533.7 367.3,533.7 367.9,533.7 368.4,533.7 368.9,533.7 369.5,533.7 370.0,533.7 370.5,533.7 371.1,533.7 371.6,533.7 372.1,533.7 372.7,533.7 373.2,533.7 373.7,533.7 374.3,533.7 374.8,533.7 375.3,533.7 375.9,533.7 376.4,533.7 376.9,533.7 377.5,533.7 378.0,533.7 378.5,533.7 379.1,533.7 379.6,533.7 380.1,533.7 380.7,533.7 381.2,533.7 381.7,533.7 382.3,533.7 382.8,533.7 383.3,533.7 383.9,533.7 384.4,533.7 384.9,533.7 385.5,533.7 386.0,533.7 386.5,533.7 387.1,533.7 387.6,533.7 388.1,533.7 388.7,533.7 389.2,533.7 389.7,533.7 390.3,533.7 390.8,533.7 391.3,533.7 391.9,533.7 392.4,533.7 392.9,533.7 393.5,533.7 394.0,533.7 394.5,533.7 395.1,533.7 395.6,533.7 396.1,533.7 396.7,533.7 397.2,533.7 397.7,533.7 398.3,533.7 398.8,533.7 399.3,533.7 399.9,533.7 400.4,533.7 400.9,533.7 401.5,533.7 402.0,533.7 402.5,533.7 403.1,533.7 403.6,533.7 404.1,533.7 404.7,533.7 405.2,533.7 405.7,533.7 406.3,533.7 406.8,533.7 407.3,533.7 407.9,533.7 408.4,533.7 408.9,533.7 409.5,533.7 410.0,533.7 410.5,533.7 411.1,533.7 411.6,533.7 412.1,533.7 412.7,533.7 413.2,533.7 413.7,533.7 414.3,533.7 414.8,533.7 415.3,533.7 415.9,533.7 416.4,533.7 416.9,533.7 417.5,533.7 418.0,533.7 418.5,533.7 419.1,533.7 419.6,533.7 420.1,533.7 420.7,533.7 421.2,533.7 421.7,533.7 422.3,533.7 422.8,533.7 423.3,533.7 423.9,533.7 424.4,533.7 424.9,533.7 425.5,533.7 426.0,533.7 426.5,533.7 427.1,533.7 427.6,533.7 428.1,533.7 428.7,533.7 429.2,533.7 429.7,533.7 430.3,533.7 430.8,533.7 431.3,533.7 431.9,533.7 432.4,533.7 432.9,533.7 433.5,533.7 434.0,533.7 434.5,533.7 435.1,533.7 435.6,533.7 436.1,533.7 436.7,533.7 437.2,533.7 437.7,533.7 438.3,533.7 438.8,533.7 439.3,533.7 439.9,533.7 440.4,533.7 440.9,533.7 441.5,533.7 442.0,533.7 442.5,533.7 443.1,533.7 443.6,533.7 444.1,533.7 444.7,533.7 445.2,533.7 445.7,533.7 446.3,533.7 446.8,533.7 447.3,533.7 447.9,533.7 448.4,533.7 448.9,533.7 449.5,533.7 450.0,533.7 450.5,533.7 451.1,533.7 451.6,533.7 452.1,533.7 452.7,533.7 453.2,533.7 453.7,533.7 454.3,533.7 454.8,533.7 455.3,533.7 455.9,533.7 456.4,533.7 456.9,533.7 457.5,533.7 458.0,533.7 458.5,533.7 459.1,533.7 459.6,533.7 460.1,533.7 460.7,533.7 461.2,533.7 461.7,533.7 462.3,533.7 462.8,533.7 463.3,533.7 463.9,533.7 464.4,533.7 464.9,533.7 465.5,533.7 466.0,533.7 466.6,533.7 467.1,533.7 467.6,533.7 468.2,533.7 468.7,533.7 469.2,533.7 469.8,533.7 470.3,533.7 470.8,533.7 471.4,533.7 471.9,533.7 472.4,533.7 473.0,533.7 473.5,533.7 474.0,533.7 474.6,533.7 475.1,533.7 475.6,533.7 476.2,533.7 476.7,533.7 477.2,533.7 477.8,533.7 478.3,533.7 478.8,533.7 479.4,533.7 479.9,533.7 480.4,533.7 481.0,533.7 481.5,533.7 482.0,533.7 482.6,533.7 483.1,533.7 483.6,533.7 484.2,533.7 484.7,533.7 485.2,533.7 485.8,533.7 486.3,533.7 486.8,533.7 487.4,533.7 487.9,533.7 488.4,533.7 489.0,533.7 489.5,533.7 490.0,533.7 490.6,533.7 491.1,533.7 491.6,533.7 492.2,533.7 492.7,533.7 493.2,533.7 493.8,533.7 494.3,533.7 494.8,533.7 495.4,533.7 495.9,533.7 496.4,533.7 497.0,533.7 497.5,533.7 498.0,533.7 498.6,533.7 499.1,533.7 499.6,533.7 500.2,533.7 500.7,533.7 501.2,533.7 501.8,533.7 502.3,533.7 502.8,533.7 503.4,533.7 503.9,533.7 504.4,533.7 505.0,533.7 505.5,533.7 506.0,533.7 506.6,533.7 507.1,533.7 507.6,533.7 508.2,533.7 508.7,533.7 509.2,533.7 509.8,533.7 510.3,533.7 510.8,533.7 511.4,533.7 511.9,533.7 512.4,533.7 513.0,533.7 513.5,533.7 514.0,533.7 514.6,533.7 515.1,533.7 515.6,533.7 516.2,533.7 516.7,533.7 517.2,533.7 517.8,533.7 518.3,533.7" fill="none" stroke="#4a8a5c" stroke-width="1.15"/><polyline points="304.9,533.7 305.4,533.7 306.0,533.7 306.5,533.7 307.0,533.7 307.6,533.7 308.1,533.7 308.6,533.7 309.2,533.7 309.7,533.7 310.2,533.7 310.8,533.7 311.3,533.7 311.8,533.7 312.4,533.7 312.9,533.7 313.4,533.7 314.0,533.7 314.5,533.7 315.0,533.7 315.6,533.7 316.1,533.7 316.6,533.6 317.2,533.5 317.7,533.4 318.2,533.3 318.8,533.2 319.3,533.1 319.8,533.0 320.4,532.8 320.9,532.7 321.4,532.6 322.0,532.5 322.5,532.4 323.0,532.4 323.6,532.3 324.1,532.2 324.6,532.2 325.2,532.2 325.7,532.1 326.2,532.1 326.8,532.1 327.3,532.1 327.8,532.1 328.4,532.1 328.9,532.2 329.4,532.2 330.0,532.2 330.5,532.3 331.0,532.3 331.6,532.3 332.1,532.4 332.6,532.4 333.2,532.5 333.7,532.5 334.2,532.6 334.8,532.6 335.3,532.7 335.8,532.7 336.4,532.8 336.9,532.8 337.4,532.8 338.0,532.9 338.5,532.9 339.0,533.0 339.6,533.0 340.1,533.1 340.6,533.1 341.2,533.1 341.7,533.2 342.2,533.2 342.8,533.2 343.3,533.3 343.8,533.3 344.4,533.3 344.9,533.3 345.4,533.4 346.0,533.4 346.5,533.4 347.0,533.4 347.6,533.4 348.1,533.5 348.6,533.5 349.2,533.5 349.7,533.5 350.2,533.5 350.8,533.5 351.3,533.5 351.8,533.6 352.4,533.6 352.9,533.6 353.4,533.6 354.0,533.6 354.5,533.6 355.0,533.6 355.6,533.6 356.1,533.6 356.6,533.6 357.2,533.6 357.7,533.6 358.2,533.6 358.8,533.6 359.3,533.7 359.9,533.7 360.4,533.7 360.9,533.7 361.5,533.7 362.0,533.7 362.5,533.7 363.1,533.7 363.6,533.7 364.1,533.7 364.7,533.7 365.2,533.7 365.7,533.7 366.3,533.7 366.8,533.7 367.3,533.7 367.9,533.7 368.4,533.7 368.9,533.7 369.5,533.7 370.0,533.7 370.5,533.7 371.1,533.7 371.6,533.7 372.1,533.7 372.7,533.7 373.2,533.7 373.7,533.7 374.3,533.7 374.8,533.7 375.3,533.7 375.9,533.7 376.4,533.7 376.9,533.7 377.5,533.7 378.0,533.7 378.5,533.7 379.1,533.7 379.6,533.7 380.1,533.7 380.7,533.7 381.2,533.7 381.7,533.7 382.3,533.7 382.8,533.7 383.3,533.7 383.9,533.7 384.4,533.7 384.9,533.7 385.5,533.7 386.0,533.7 386.5,533.7 387.1,533.7 387.6,533.7 388.1,533.7 388.7,533.7 389.2,533.7 389.7,533.7 390.3,533.7 390.8,533.7 391.3,533.7 391.9,533.7 392.4,533.7 392.9,533.7 393.5,533.7 394.0,533.7 394.5,533.7 395.1,533.7 395.6,533.7 396.1,533.7 396.7,533.7 397.2,533.7 397.7,533.7 398.3,533.7 398.8,533.7 399.3,533.7 399.9,533.7 400.4,533.7 400.9,533.7 401.5,533.7 402.0,533.7 402.5,533.7 403.1,533.7 403.6,533.7 404.1,533.7 404.7,533.7 405.2,533.7 405.7,533.7 406.3,533.7 406.8,533.7 407.3,533.7 407.9,533.7 408.4,533.7 408.9,533.7 409.5,533.7 410.0,533.7 410.5,533.7 411.1,533.7 411.6,533.7 412.1,533.7 412.7,533.7 413.2,533.7 413.7,533.7 414.3,533.7 414.8,533.7 415.3,533.7 415.9,533.7 416.4,533.7 416.9,533.7 417.5,533.7 418.0,533.7 418.5,533.7 419.1,533.7 419.6,533.7 420.1,533.7 420.7,533.7 421.2,533.7 421.7,533.7 422.3,533.7 422.8,533.7 423.3,533.7 423.9,533.7 424.4,533.7 424.9,533.7 425.5,533.7 426.0,533.7 426.5,533.7 427.1,533.7 427.6,533.7 428.1,533.7 428.7,533.7 429.2,533.7 429.7,533.7 430.3,533.7 430.8,533.7 431.3,533.7 431.9,533.7 432.4,533.7 432.9,533.7 433.5,533.7 434.0,533.7 434.5,533.7 435.1,533.7 435.6,533.7 436.1,533.7 436.7,533.7 437.2,533.7 437.7,533.7 438.3,533.7 438.8,533.7 439.3,533.7 439.9,533.7 440.4,533.7 440.9,533.7 441.5,533.7 442.0,533.7 442.5,533.7 443.1,533.7 443.6,533.7 444.1,533.7 444.7,533.7 445.2,533.7 445.7,533.7 446.3,533.7 446.8,533.7 447.3,533.7 447.9,533.7 448.4,533.7 448.9,533.7 449.5,533.7 450.0,533.7 450.5,533.7 451.1,533.7 451.6,533.7 452.1,533.7 452.7,533.7 453.2,533.7 453.7,533.7 454.3,533.7 454.8,533.7 455.3,533.7 455.9,533.7 456.4,533.7 456.9,533.7 457.5,533.7 458.0,533.7 458.5,533.7 459.1,533.7 459.6,533.7 460.1,533.7 460.7,533.7 461.2,533.7 461.7,533.7 462.3,533.7 462.8,533.7 463.3,533.7 463.9,533.7 464.4,533.7 464.9,533.7 465.5,533.7 466.0,533.7 466.6,533.7 467.1,533.7 467.6,533.7 468.2,533.7 468.7,533.7 469.2,533.7 469.8,533.7 470.3,533.7 470.8,533.7 471.4,533.7 471.9,533.7 472.4,533.7 473.0,533.7 473.5,533.7 474.0,533.7 474.6,533.7 475.1,533.7 475.6,533.7 476.2,533.7 476.7,533.7 477.2,533.7 477.8,533.7 478.3,533.7 478.8,533.7 479.4,533.7 479.9,533.7 480.4,533.7 481.0,533.7 481.5,533.7 482.0,533.7 482.6,533.7 483.1,533.7 483.6,533.7 484.2,533.7 484.7,533.7 485.2,533.7 485.8,533.7 486.3,533.7 486.8,533.7 487.4,533.7 487.9,533.7 488.4,533.7 489.0,533.7 489.5,533.7 490.0,533.7 490.6,533.7 491.1,533.7 491.6,533.7 492.2,533.7 492.7,533.7 493.2,533.7 493.8,533.7 494.3,533.7 494.8,533.7 495.4,533.7 495.9,533.7 496.4,533.7 497.0,533.7 497.5,533.7 498.0,533.7 498.6,533.7 499.1,533.7 499.6,533.7 500.2,533.7 500.7,533.7 501.2,533.7 501.8,533.7 502.3,533.7 502.8,533.7 503.4,533.7 503.9,533.7 504.4,533.7 505.0,533.7 505.5,533.7 506.0,533.7 506.6,533.7 507.1,533.7 507.6,533.7 508.2,533.7 508.7,533.7 509.2,533.7 509.8,533.7 510.3,533.7 510.8,533.7 511.4,533.7 511.9,533.7 512.4,533.7 513.0,533.7 513.5,533.7 514.0,533.7 514.6,533.7 515.1,533.7 515.6,533.7 516.2,533.7 516.7,533.7 517.2,533.7 517.8,533.7 518.3,533.7" fill="none" stroke="#e6805e" stroke-width="1.15"/><polyline points="304.9,533.5 305.4,533.5 306.0,533.5 306.5,533.5 307.0,533.4 307.6,533.4 308.1,533.3 308.6,533.3 309.2,533.2 309.7,533.2 310.2,533.1 310.8,533.0 311.3,532.9 311.8,532.8 312.4,532.6 312.9,532.5 313.4,532.3 314.0,532.1 314.5,531.9 315.0,531.7 315.6,531.4 316.1,531.1 316.6,530.7 317.2,530.3 317.7,529.8 318.2,529.3 318.8,528.7 319.3,528.1 319.8,527.3 320.4,526.5 320.9,525.6 321.4,524.6 322.0,523.5 322.5,522.2 323.0,520.9 323.6,519.4 324.1,517.8 324.6,516.1 325.2,514.2 325.7,512.3 326.2,510.2 326.8,508.0 327.3,505.7 327.8,503.3 328.4,500.9 328.9,498.4 329.4,496.0 330.0,493.5 330.5,491.1 331.0,488.7 331.6,486.3 332.1,484.1 332.6,481.9 333.2,479.9 333.7,478.0 334.2,476.2 334.8,474.5 335.3,473.0 335.8,471.5 336.4,470.2 336.9,469.1 337.4,468.0 338.0,467.0 338.5,466.2 339.0,465.4 339.6,464.7 340.1,464.1 340.6,463.5 341.2,463.0 341.7,462.6 342.2,462.2 342.8,461.8 343.3,461.5 343.8,461.3 344.4,461.0 344.9,460.8 345.4,460.6 346.0,460.5 346.5,460.3 347.0,460.2 347.6,460.1 348.1,460.0 348.6,459.9 349.2,459.9 349.7,459.8 350.2,459.7 350.8,459.7 351.3,459.7 351.8,459.6 352.4,459.6 352.9,459.6 353.4,459.5 354.0,459.5 354.5,459.5 355.0,459.5 355.6,459.5 356.1,459.4 356.6,459.4 357.2,459.4 357.7,459.4 358.2,459.4 358.8,459.4 359.3,459.4 359.9,459.4 360.4,459.4 360.9,459.4 361.5,459.4 362.0,459.4 362.5,459.4 363.1,459.4 363.6,459.4 364.1,459.4 364.7,459.4 365.2,459.4 365.7,459.4 366.3,459.4 366.8,459.4 367.3,459.4 367.9,459.4 368.4,459.4 368.9,459.3 369.5,459.3 370.0,459.3 370.5,459.3 371.1,459.3 371.6,459.3 372.1,459.3 372.7,459.3 373.2,459.3 373.7,459.3 374.3,459.3 374.8,459.3 375.3,459.3 375.9,459.3 376.4,459.3 376.9,459.3 377.5,459.3 378.0,459.3 378.5,459.3 379.1,459.3 379.6,459.3 380.1,459.3 380.7,459.3 381.2,459.3 381.7,459.3 382.3,459.3 382.8,459.3 383.3,459.3 383.9,459.3 384.4,459.3 384.9,459.3 385.5,459.3 386.0,459.3 386.5,459.3 387.1,459.3 387.6,459.3 388.1,459.3 388.7,459.3 389.2,459.3 389.7,459.4 390.3,459.4 390.8,459.5 391.3,459.7 391.9,459.9 392.4,460.3 392.9,460.7 393.5,461.3 394.0,462.1 394.5,462.9 395.1,463.9 395.6,465.0 396.1,466.3 396.7,467.6 397.2,469.1 397.7,470.6 398.3,472.3 398.8,474.0 399.3,475.8 399.9,477.6 400.4,479.5 400.9,481.4 401.5,483.4 402.0,485.3 402.5,487.3 403.1,489.2 403.6,491.1 404.1,493.0 404.7,494.9 405.2,496.7 405.7,498.5 406.3,500.3 406.8,502.0 407.3,503.6 407.9,505.2 408.4,506.8 408.9,508.3 409.5,509.7 410.0,511.1 410.5,512.4 411.1,513.7 411.6,514.9 412.1,516.0 412.7,517.1 413.2,518.2 413.7,519.2 414.3,520.1 414.8,521.0 415.3,521.8 415.9,522.6 416.4,523.4 416.9,524.1 417.5,524.7 418.0,525.3 418.5,525.9 419.1,526.5 419.6,527.0 420.1,527.5 420.7,527.9 421.2,528.3 421.7,528.7 422.3,529.1 422.8,529.4 423.3,529.7 423.9,530.0 424.4,530.3 424.9,530.6 425.5,530.8 426.0,531.0 426.5,531.2 427.1,531.4 427.6,531.6 428.1,531.8 428.7,531.9 429.2,532.1 429.7,532.2 430.3,532.3 430.8,532.4 431.3,532.5 431.9,532.6 432.4,532.7 432.9,532.8 433.5,532.9 434.0,532.9 434.5,533.0 435.1,533.1 435.6,533.1 436.1,533.2 436.7,533.2 437.2,533.2 437.7,533.3 438.3,533.3 438.8,533.3 439.3,533.4 439.9,533.4 440.4,533.4 440.9,533.5 441.5,533.5 442.0,533.5 442.5,533.5 443.1,533.5 443.6,533.5 444.1,533.6 444.7,533.6 445.2,533.6 445.7,533.6 446.3,533.6 446.8,533.6 447.3,533.6 447.9,533.6 448.4,533.6 448.9,533.6 449.5,533.6 450.0,533.6 450.5,533.7 451.1,533.7 451.6,533.7 452.1,533.7 452.7,533.7 453.2,533.7 453.7,533.7 454.3,533.7 454.8,533.7 455.3,533.7 455.9,533.7 456.4,533.7 456.9,533.7 457.5,533.7 458.0,533.7 458.5,533.7 459.1,533.7 459.6,533.7 460.1,533.7 460.7,533.7 461.2,533.7 461.7,533.7 462.3,533.7 462.8,533.7 463.3,533.7 463.9,533.7 464.4,533.7 464.9,533.7 465.5,533.7 466.0,533.7 466.6,533.7 467.1,533.7 467.6,533.7 468.2,533.7 468.7,533.7 469.2,533.7 469.8,533.7 470.3,533.7 470.8,533.7 471.4,533.7 471.9,533.7 472.4,533.7 473.0,533.7 473.5,533.7 474.0,533.7 474.6,533.7 475.1,533.7 475.6,533.7 476.2,533.7 476.7,533.7 477.2,533.7 477.8,533.7 478.3,533.7 478.8,533.7 479.4,533.7 479.9,533.7 480.4,533.7 481.0,533.7 481.5,533.7 482.0,533.7 482.6,533.7 483.1,533.7 483.6,533.7 484.2,533.7 484.7,533.7 485.2,533.7 485.8,533.7 486.3,533.7 486.8,533.7 487.4,533.7 487.9,533.7 488.4,533.7 489.0,533.7 489.5,533.7 490.0,533.7 490.6,533.7 491.1,533.7 491.6,533.7 492.2,533.7 492.7,533.7 493.2,533.7 493.8,533.7 494.3,533.7 494.8,533.7 495.4,533.7 495.9,533.7 496.4,533.7 497.0,533.7 497.5,533.7 498.0,533.7 498.6,533.7 499.1,533.7 499.6,533.7 500.2,533.7 500.7,533.7 501.2,533.7 501.8,533.7 502.3,533.7 502.8,533.7 503.4,533.7 503.9,533.7 504.4,533.7 505.0,533.7 505.5,533.7 506.0,533.7 506.6,533.7 507.1,533.7 507.6,533.7 508.2,533.7 508.7,533.7 509.2,533.7 509.8,533.7 510.3,533.7 510.8,533.7 511.4,533.7 511.9,533.7 512.4,533.7 513.0,533.7 513.5,533.7 514.0,533.7 514.6,533.7 515.1,533.7 515.6,533.7 516.2,533.7 516.7,533.7 517.2,533.7 517.8,533.7 518.3,533.7" fill="none" stroke="#3434a8" stroke-width="1.15"/><polyline points="304.9,533.7 305.4,533.7 306.0,533.7 306.5,533.7 307.0,533.7 307.6,533.7 308.1,533.7 308.6,533.7 309.2,533.7 309.7,533.7 310.2,533.7 310.8,533.7 311.3,533.7 311.8,533.7 312.4,533.7 312.9,533.7 313.4,533.7 314.0,533.7 314.5,533.5 315.0,533.0 315.6,531.9 316.1,530.3 316.6,528.1 317.2,525.7 317.7,523.2 318.2,520.7 318.8,518.5 319.3,516.7 319.8,515.3 320.4,514.4 320.9,514.0 321.4,514.0 322.0,514.4 322.5,515.1 323.0,516.0 323.6,517.1 324.1,518.4 324.6,519.7 325.2,521.0 325.7,522.3 326.2,523.6 326.8,524.7 327.3,525.8 327.8,526.9 328.4,527.8 328.9,528.6 329.4,529.3 330.0,530.0 330.5,530.5 331.0,531.0 331.6,531.4 332.1,531.8 332.6,532.1 333.2,532.4 333.7,532.6 334.2,532.8 334.8,533.0 335.3,533.1 335.8,533.2 336.4,533.3 336.9,533.4 337.4,533.4 338.0,533.5 338.5,533.5 339.0,533.6 339.6,533.6 340.1,533.6 340.6,533.6 341.2,533.6 341.7,533.7 342.2,533.7 342.8,533.7 343.3,533.7 343.8,533.7 344.4,533.7 344.9,533.7 345.4,533.7 346.0,533.7 346.5,533.7 347.0,533.7 347.6,533.7 348.1,533.7 348.6,533.7 349.2,533.7 349.7,533.7 350.2,533.7 350.8,533.7 351.3,533.7 351.8,533.7 352.4,533.7 352.9,533.7 353.4,533.7 354.0,533.7 354.5,533.7 355.0,533.7 355.6,533.7 356.1,533.7 356.6,533.7 357.2,533.7 357.7,533.7 358.2,533.7 358.8,533.7 359.3,533.7 359.9,533.7 360.4,533.7 360.9,533.7 361.5,533.7 362.0,533.7 362.5,533.7 363.1,533.7 363.6,533.7 364.1,533.7 364.7,533.7 365.2,533.7 365.7,533.7 366.3,533.7 366.8,533.7 367.3,533.7 367.9,533.7 368.4,533.7 368.9,533.7 369.5,533.7 370.0,533.7 370.5,533.7 371.1,533.7 371.6,533.7 372.1,533.7 372.7,533.7 373.2,533.7 373.7,533.7 374.3,533.7 374.8,533.7 375.3,533.7 375.9,533.7 376.4,533.7 376.9,533.7 377.5,533.7 378.0,533.7 378.5,533.7 379.1,533.7 379.6,533.7 380.1,533.7 380.7,533.7 381.2,533.7 381.7,533.7 382.3,533.7 382.8,533.7 383.3,533.7 383.9,533.7 384.4,533.7 384.9,533.7 385.5,533.7 386.0,533.7 386.5,533.7 387.1,533.7 387.6,533.7 388.1,533.7 388.7,533.7 389.2,533.7 389.7,533.7 390.3,533.7 390.8,533.7 391.3,533.7 391.9,533.7 392.4,533.7 392.9,533.7 393.5,533.7 394.0,533.7 394.5,533.7 395.1,533.7 395.6,533.7 396.1,533.7 396.7,533.7 397.2,533.7 397.7,533.7 398.3,533.7 398.8,533.7 399.3,533.7 399.9,533.7 400.4,533.7 400.9,533.7 401.5,533.7 402.0,533.7 402.5,533.7 403.1,533.7 403.6,533.7 404.1,533.7 404.7,533.7 405.2,533.7 405.7,533.7 406.3,533.7 406.8,533.7 407.3,533.7 407.9,533.7 408.4,533.7 408.9,533.7 409.5,533.7 410.0,533.7 410.5,533.7 411.1,533.7 411.6,533.7 412.1,533.7 412.7,533.7 413.2,533.7 413.7,533.7 414.3,533.7 414.8,533.7 415.3,533.7 415.9,533.7 416.4,533.7 416.9,533.7 417.5,533.7 418.0,533.7 418.5,533.7 419.1,533.7 419.6,533.7 420.1,533.7 420.7,533.7 421.2,533.7 421.7,533.7 422.3,533.7 422.8,533.7 423.3,533.7 423.9,533.7 424.4,533.7 424.9,533.7 425.5,533.7 426.0,533.7 426.5,533.7 427.1,533.7 427.6,533.7 428.1,533.7 428.7,533.7 429.2,533.7 429.7,533.7 430.3,533.7 430.8,533.7 431.3,533.7 431.9,533.7 432.4,533.7 432.9,533.7 433.5,533.7 434.0,533.7 434.5,533.7 435.1,533.7 435.6,533.7 436.1,533.7 436.7,533.7 437.2,533.7 437.7,533.7 438.3,533.7 438.8,533.7 439.3,533.7 439.9,533.7 440.4,533.7 440.9,533.7 441.5,533.7 442.0,533.7 442.5,533.7 443.1,533.7 443.6,533.7 444.1,533.7 444.7,533.7 445.2,533.7 445.7,533.7 446.3,533.7 446.8,533.7 447.3,533.7 447.9,533.7 448.4,533.7 448.9,533.7 449.5,533.7 450.0,533.7 450.5,533.7 451.1,533.7 451.6,533.7 452.1,533.7 452.7,533.7 453.2,533.7 453.7,533.7 454.3,533.7 454.8,533.7 455.3,533.7 455.9,533.7 456.4,533.7 456.9,533.7 457.5,533.7 458.0,533.7 458.5,533.7 459.1,533.7 459.6,533.7 460.1,533.7 460.7,533.7 461.2,533.7 461.7,533.7 462.3,533.7 462.8,533.7 463.3,533.7 463.9,533.7 464.4,533.7 464.9,533.7 465.5,533.7 466.0,533.7 466.6,533.7 467.1,533.7 467.6,533.7 468.2,533.7 468.7,533.7 469.2,533.7 469.8,533.7 470.3,533.7 470.8,533.7 471.4,533.7 471.9,533.7 472.4,533.7 473.0,533.7 473.5,533.7 474.0,533.7 474.6,533.7 475.1,533.7 475.6,533.7 476.2,533.7 476.7,533.7 477.2,533.7 477.8,533.7 478.3,533.7 478.8,533.7 479.4,533.7 479.9,533.7 480.4,533.7 481.0,533.7 481.5,533.7 482.0,533.7 482.6,533.7 483.1,533.7 483.6,533.7 484.2,533.7 484.7,533.7 485.2,533.7 485.8,533.7 486.3,533.7 486.8,533.7 487.4,533.7 487.9,533.7 488.4,533.7 489.0,533.7 489.5,533.7 490.0,533.7 490.6,533.7 491.1,533.7 491.6,533.7 492.2,533.7 492.7,533.7 493.2,533.7 493.8,533.7 494.3,533.7 494.8,533.7 495.4,533.7 495.9,533.7 496.4,533.7 497.0,533.7 497.5,533.7 498.0,533.7 498.6,533.7 499.1,533.7 499.6,533.7 500.2,533.7 500.7,533.7 501.2,533.7 501.8,533.7 502.3,533.7 502.8,533.7 503.4,533.7 503.9,533.7 504.4,533.7 505.0,533.7 505.5,533.7 506.0,533.7 506.6,533.7 507.1,533.7 507.6,533.7 508.2,533.7 508.7,533.7 509.2,533.7 509.8,533.7 510.3,533.7 510.8,533.7 511.4,533.7 511.9,533.7 512.4,533.7 513.0,533.7 513.5,533.7 514.0,533.7 514.6,533.7 515.1,533.7 515.6,533.7 516.2,533.7 516.7,533.7 517.2,533.7 517.8,533.7 518.3,533.7" fill="none" stroke="#5278b8" stroke-width="1.15"/><line x1="305.4" y1="533.5" x2="517.8" y2="533.5" stroke="#8484c8" stroke-width="1.3"/><line x1="304.9" y1="454.6" x2="518.3" y2="454.6" stroke="#8a8a8a" stroke-width="1.1" stroke-opacity="0.75"/><path d="M310.3,444.9L315.9,444.9L313.1,454.4Z" fill="#e43a4c"/><text x="313.9" y="443.5" text-anchor="middle" font-size="9.6" font-weight="bold" fill="#111" font-family="Liberation Sans, sans-serif">GF</text><path d="M385.6,444.9L391.2,444.9L388.4,454.4Z" fill="#e43a4c"/><text x="389.2" y="443.5" text-anchor="middle" font-size="9.6" font-weight="bold" fill="#111" font-family="Liberation Sans, sans-serif">IF</text><path d="M459.8,445.9L465.4,445.9L462.6,454.4Z" fill="#e43a4c"/><text x="463.4" y="444.5" text-anchor="middle" font-size="9.6" font-weight="bold" fill="#111" font-family="Liberation Sans, sans-serif">ECM</text><text x="488.4" y="475.4" text-anchor="end" font-size="9" fill="#222" font-family="Liberation Sans, sans-serif">E1</text><line x1="493.4" y1="472.2" x2="516.6999999999999" y2="472.2" stroke="#4a8a5c" stroke-width="1.4"/><text x="488.4" y="484.3" text-anchor="end" font-size="9" fill="#222" font-family="Liberation Sans, sans-serif">H2</text><line x1="493.4" y1="481.1" x2="516.6999999999999" y2="481.1" stroke="#3434a8" stroke-width="1.4"/><text x="488.4" y="493.2" text-anchor="end" font-size="9" fill="#222" font-family="Liberation Sans, sans-serif">M2</text><line x1="493.4" y1="490.0" x2="516.6999999999999" y2="490.0" stroke="#744a4a" stroke-width="1.4"/><text x="488.4" y="502.1" text-anchor="end" font-size="9" fill="#222" font-family="Liberation Sans, sans-serif">M3</text><line x1="493.4" y1="498.9" x2="516.6999999999999" y2="498.9" stroke="#302626" stroke-width="1.4"/><text x="488.4" y="511.0" text-anchor="end" font-size="9" fill="#222" font-family="Liberation Sans, sans-serif">M1</text><line x1="493.4" y1="507.8" x2="516.6999999999999" y2="507.8" stroke="#e6805e" stroke-width="1.4"/><text x="488.4" y="519.9" text-anchor="end" font-size="9" fill="#222" font-family="Liberation Sans, sans-serif">H1</text><line x1="493.4" y1="516.7" x2="516.6999999999999" y2="516.7" stroke="#5278b8" stroke-width="1.4"/><text x="271.3" y="448" font-size="15" font-weight="bold" fill="#000" font-family="Liberation Sans, sans-serif">C</text><rect x="304.5" y="587.5" width="213.79999999999995" height="79.20000000000005" fill="none" stroke="#8a8a8a" stroke-width="1.1"/><line x1="304.5" y1="666.7" x2="307.0" y2="666.7" stroke="#9a9a9a" stroke-width="0.8"/><line x1="518.3" y1="666.7" x2="515.8" y2="666.7" stroke="#9a9a9a" stroke-width="0.8"/><text transform="translate(301.5,670.0) scale(1,1.12)" text-anchor="end" font-size="9.3" font-weight="bold" fill="#111" font-family="Liberation Sans, sans-serif">0</text><line x1="304.5" y1="650.9" x2="307.0" y2="650.9" stroke="#9a9a9a" stroke-width="0.8"/><line x1="518.3" y1="650.9" x2="515.8" y2="650.9" stroke="#9a9a9a" stroke-width="0.8"/><text transform="translate(301.5,654.5) scale(1,1.12)" text-anchor="end" font-size="9.3" font-weight="bold" fill="#111" font-family="Liberation Sans, sans-serif">0.2</text><line x1="304.5" y1="635.0" x2="307.0" y2="635.0" stroke="#9a9a9a" stroke-width="0.8"/><line x1="518.3" y1="635.0" x2="515.8" y2="635.0" stroke="#9a9a9a" stroke-width="0.8"/><text transform="translate(301.5,638.9) scale(1,1.12)" text-anchor="end" font-size="9.3" font-weight="bold" fill="#111" font-family="Liberation Sans, sans-serif">0.4</text><line x1="304.5" y1="619.2" x2="307.0" y2="619.2" stroke="#9a9a9a" stroke-width="0.8"/><line x1="518.3" y1="619.2" x2="515.8" y2="619.2" stroke="#9a9a9a" stroke-width="0.8"/><text transform="translate(301.5,623.4) scale(1,1.12)" text-anchor="end" font-size="9.3" font-weight="bold" fill="#111" font-family="Liberation Sans, sans-serif">0.6</text><line x1="304.5" y1="603.3" x2="307.0" y2="603.3" stroke="#9a9a9a" stroke-width="0.8"/><line x1="518.3" y1="603.3" x2="515.8" y2="603.3" stroke="#9a9a9a" stroke-width="0.8"/><text transform="translate(301.5,607.8) scale(1,1.12)" text-anchor="end" font-size="9.3" font-weight="bold" fill="#111" font-family="Liberation Sans, sans-serif">0.8</text><line x1="304.5" y1="587.5" x2="307.0" y2="587.5" stroke="#9a9a9a" stroke-width="0.8"/><line x1="518.3" y1="587.5" x2="515.8" y2="587.5" stroke="#9a9a9a" stroke-width="0.8"/><text transform="translate(301.5,592.3) scale(1,1.12)" text-anchor="end" font-size="9.3" font-weight="bold" fill="#111" font-family="Liberation Sans, sans-serif">1</text><line x1="304.5" y1="666.7" x2="304.5" y2="664.2" stroke="#9a9a9a" stroke-width="0.8"/><text transform="translate(304.5,677.2) scale(1,1.12)" text-anchor="middle" font-size="9.3" font-weight="bold" fill="#111" font-family="Liberation Sans, sans-serif">0</text><line x1="333.1" y1="666.7" x2="333.1" y2="664.2" stroke="#9a9a9a" stroke-width="0.8"/><text transform="translate(333.1,677.2) scale(1,1.12)" text-anchor="middle" font-size="9.3" font-weight="bold" fill="#111" font-family="Liberation Sans, sans-serif">50</text><line x1="361.7" y1="666.7" x2="361.7" y2="664.2" stroke="#9a9a9a" stroke-width="0.8"/><text transform="translate(361.7,677.2) scale(1,1.12)" text-anchor="middle" font-size="9.3" font-weight="bold" fill="#111" font-family="Liberation Sans, sans-serif">100</text><line x1="390.2" y1="666.7" x2="390.2" y2="664.2" stroke="#9a9a9a" stroke-width="0.8"/><text transform="translate(390.2,677.2) scale(1,1.12)" text-anchor="middle" font-size="9.3" font-weight="bold" fill="#111" font-family="Liberation Sans, sans-serif">150</text><line x1="418.8" y1="666.7" x2="418.8" y2="664.2" stroke="#9a9a9a" stroke-width="0.8"/><text transform="translate(418.8,677.2) scale(1,1.12)" text-anchor="middle" font-size="9.3" font-weight="bold" fill="#111" font-family="Liberation Sans, sans-serif">200</text><line x1="447.4" y1="666.7" x2="447.4" y2="664.2" stroke="#9a9a9a" stroke-width="0.8"/><text transform="translate(447.4,677.2) scale(1,1.12)" text-anchor="middle" font-size="9.3" font-weight="bold" fill="#111" font-family="Liberation Sans, sans-serif">250</text><line x1="476.0" y1="666.7" x2="476.0" y2="664.2" stroke="#9a9a9a" stroke-width="0.8"/><text transform="translate(476.0,677.2) scale(1,1.12)" text-anchor="middle" font-size="9.3" font-weight="bold" fill="#111" font-family="Liberation Sans, sans-serif">300</text><line x1="504.6" y1="666.7" x2="504.6" y2="664.2" stroke="#9a9a9a" stroke-width="0.8"/><text transform="translate(504.6,677.2) scale(1,1.12)" text-anchor="middle" font-size="9.3" font-weight="bold" fill="#111" font-family="Liberation Sans, sans-serif">350</text><text transform="translate(409.6,690.2) scale(1,1.14)" text-anchor="middle" font-size="9.6" font-weight="bold" fill="#111" font-family="Liberation Sans, sans-serif">Simulation steps</text><text transform="translate(270.7,631.1) rotate(-90)" x="0" y="3.3" text-anchor="middle" font-size="9.6" font-weight="bold" fill="#111" font-family="Liberation Sans, sans-serif">Phenotype</text><text transform="translate(280.0,631.1) rotate(-90)" x="0" y="3.3" text-anchor="middle" font-size="9.6" font-weight="bold" fill="#111" font-family="Liberation Sans, sans-serif">probabilities</text><text transform="translate(311.0,627.8) rotate(-90) scale(0.82,1)" x="0" y="3.4" text-anchor="middle" font-size="9.6" font-weight="bold" fill="#111" font-family="Liberation Sans, sans-serif">[0001]</text><line x1="316.2" y1="587.5" x2="316.2" y2="666.7" stroke="#f4b4b4" stroke-width="0.8"/><line x1="328.8" y1="587.5" x2="328.8" y2="666.7" stroke="#f4b4b4" stroke-width="0.8"/><line x1="449.3" y1="587.5" x2="449.3" y2="666.7" stroke="#f4b4b4" stroke-width="0.8"/><polyline points="304.5,666.7 305.0,666.7 305.6,666.7 306.1,666.7 306.6,666.7 307.2,666.7 307.7,666.7 308.2,666.7 308.8,666.7 309.3,666.7 309.8,666.7 310.4,666.7 310.9,666.7 311.4,666.7 312.0,666.7 312.5,666.7 313.1,666.7 313.6,666.7 314.1,666.7 314.7,666.7 315.2,666.7 315.7,666.7 316.3,666.7 316.8,666.7 317.3,666.7 317.9,666.7 318.4,666.7 318.9,666.7 319.5,666.7 320.0,666.7 320.5,666.7 321.1,666.7 321.6,666.7 322.1,666.7 322.7,666.7 323.2,666.7 323.7,666.7 324.3,666.7 324.8,666.7 325.3,666.7 325.9,666.7 326.4,666.7 326.9,666.7 327.5,666.7 328.0,666.7 328.6,666.7 329.1,666.7 329.6,666.7 330.2,666.7 330.7,666.7 331.2,666.7 331.8,666.7 332.3,666.7 332.8,666.7 333.4,666.7 333.9,666.7 334.4,666.7 335.0,666.7 335.5,666.7 336.0,666.7 336.6,666.7 337.1,666.7 337.6,666.7 338.2,666.7 338.7,666.7 339.2,666.7 339.8,666.7 340.3,666.7 340.8,666.7 341.4,666.7 341.9,666.7 342.4,666.7 343.0,666.7 343.5,666.7 344.1,666.7 344.6,666.7 345.1,666.7 345.7,666.7 346.2,666.7 346.7,666.7 347.3,666.7 347.8,666.7 348.3,666.7 348.9,666.7 349.4,666.7 349.9,666.7 350.5,666.7 351.0,666.7 351.5,666.7 352.1,666.7 352.6,666.7 353.1,666.7 353.7,666.7 354.2,666.7 354.7,666.7 355.3,666.7 355.8,666.7 356.3,666.7 356.9,666.7 357.4,666.7 357.9,666.7 358.5,666.7 359.0,666.7 359.6,666.7 360.1,666.7 360.6,666.7 361.2,666.7 361.7,666.7 362.2,666.7 362.8,666.7 363.3,666.7 363.8,666.7 364.4,666.7 364.9,666.7 365.4,666.7 366.0,666.7 366.5,666.7 367.0,666.7 367.6,666.7 368.1,666.7 368.6,666.7 369.2,666.7 369.7,666.7 370.2,666.7 370.8,666.7 371.3,666.7 371.8,666.7 372.4,666.7 372.9,666.7 373.5,666.7 374.0,666.7 374.5,666.7 375.1,666.7 375.6,666.7 376.1,666.7 376.7,666.7 377.2,666.7 377.7,666.7 378.3,666.7 378.8,666.7 379.3,666.7 379.9,666.7 380.4,666.7 380.9,666.7 381.5,666.7 382.0,666.7 382.5,666.7 383.1,666.7 383.6,666.7 384.1,666.7 384.7,666.7 385.2,666.7 385.7,666.7 386.3,666.7 386.8,666.7 387.3,666.7 387.9,666.7 388.4,666.7 389.0,666.7 389.5,666.7 390.0,666.7 390.6,666.7 391.1,666.7 391.6,666.7 392.2,666.7 392.7,666.7 393.2,666.7 393.8,666.7 394.3,666.7 394.8,666.7 395.4,666.7 395.9,666.7 396.4,666.7 397.0,666.7 397.5,666.7 398.0,666.7 398.6,666.7 399.1,666.7 399.6,666.7 400.2,666.7 400.7,666.7 401.2,666.7 401.8,666.7 402.3,666.7 402.8,666.7 403.4,666.7 403.9,666.7 404.5,666.7 405.0,666.7 405.5,666.7 406.1,666.7 406.6,666.7 407.1,666.7 407.7,666.7 408.2,666.7 408.7,666.7 409.3,666.7 409.8,666.7 410.3,666.7 410.9,666.7 411.4,666.7 411.9,666.7 412.5,666.7 413.0,666.7 413.5,666.7 414.1,666.7 414.6,666.7 415.1,666.7 415.7,666.7 416.2,666.7 416.7,666.7 417.3,666.7 417.8,666.7 418.3,666.7 418.9,666.7 419.4,666.7 420.0,666.7 420.5,666.7 421.0,666.7 421.6,666.7 422.1,666.7 422.6,666.7 423.2,666.7 423.7,666.7 424.2,666.7 424.8,666.7 425.3,666.7 425.8,666.7 426.4,666.7 426.9,666.7 427.4,666.7 428.0,666.7 428.5,666.7 429.0,666.7 429.6,666.7 430.1,666.7 430.6,666.7 431.2,666.7 431.7,666.7 432.2,666.7 432.8,666.7 433.3,666.7 433.8,666.7 434.4,666.7 434.9,666.7 435.5,666.7 436.0,666.7 436.5,666.7 437.1,666.7 437.6,666.7 438.1,666.7 438.7,666.7 439.2,666.7 439.7,666.7 440.3,666.7 440.8,666.7 441.3,666.7 441.9,666.7 442.4,666.7 442.9,666.7 443.5,666.7 444.0,666.7 444.5,666.7 445.1,666.7 445.6,666.7 446.1,666.7 446.7,666.7 447.2,666.7 447.7,666.7 448.3,666.7 448.8,666.7 449.3,666.7 449.9,666.3 450.4,665.4 451.0,664.1 451.5,662.3 452.0,660.3 452.6,658.1 453.1,655.7 453.6,653.2 454.2,650.6 454.7,648.0 455.2,645.3 455.8,642.6 456.3,640.0 456.8,637.4 457.4,634.8 457.9,632.3 458.4,629.9 459.0,627.6 459.5,625.3 460.0,623.2 460.6,621.1 461.1,619.1 461.6,617.2 462.2,615.4 462.7,613.7 463.2,612.1 463.8,610.5 464.3,609.1 464.8,607.7 465.4,606.4 465.9,605.1 466.5,604.0 467.0,602.9 467.5,601.9 468.1,600.9 468.6,600.0 469.1,599.1 469.7,598.3 470.2,597.6 470.7,596.9 471.3,596.2 471.8,595.6 472.3,595.0 472.9,594.5 473.4,594.0 473.9,593.6 474.5,593.1 475.0,592.7 475.5,592.3 476.1,592.0 476.6,591.7 477.1,591.4 477.7,591.1 478.2,590.8 478.7,590.6 479.3,590.3 479.8,590.1 480.4,589.9 480.9,589.8 481.4,589.6 482.0,589.4 482.5,589.3 483.0,589.2 483.6,589.0 484.1,588.9 484.6,588.8 485.2,588.7 485.7,588.6 486.2,588.5 486.8,588.5 487.3,588.4 487.8,588.3 488.4,588.3 488.9,588.2 489.4,588.1 490.0,588.1 490.5,588.0 491.0,588.0 491.6,588.0 492.1,587.9 492.6,587.9 493.2,587.9 493.7,587.8 494.2,587.8 494.8,587.8 495.3,587.8 495.9,587.7 496.4,587.7 496.9,587.7 497.5,587.7 498.0,587.7 498.5,587.7 499.1,587.6 499.6,587.6 500.1,587.6 500.7,587.6 501.2,587.6 501.7,587.6 502.3,587.6 502.8,587.6 503.3,587.6 503.9,587.6 504.4,587.6 504.9,587.6 505.5,587.6 506.0,587.6 506.5,587.5 507.1,587.5 507.6,587.5 508.1,587.5 508.7,587.5 509.2,587.5 509.7,587.5 510.3,587.5 510.8,587.5 511.4,587.5 511.9,587.5 512.4,587.5 513.0,587.5 513.5,587.5 514.0,587.5 514.6,587.5 515.1,587.5 515.6,587.5 516.2,587.5 516.7,587.5 517.2,587.5 517.8,587.5 518.3,587.5" fill="none" stroke="#302626" stroke-width="1.15"/><polyline points="304.5,666.7 305.0,666.7 305.6,666.7 306.1,666.7 306.6,666.7 307.2,666.7 307.7,666.7 308.2,666.7 308.8,666.7 309.3,666.7 309.8,666.7 310.4,666.7 310.9,666.7 311.4,666.7 312.0,666.7 312.5,666.7 313.1,666.7 313.6,666.7 314.1,666.7 314.7,666.7 315.2,666.7 315.7,666.7 316.3,666.7 316.8,666.7 317.3,666.7 317.9,666.7 318.4,666.7 318.9,666.7 319.5,666.7 320.0,666.7 320.5,666.7 321.1,666.7 321.6,666.7 322.1,666.7 322.7,666.7 323.2,666.7 323.7,666.7 324.3,666.7 324.8,666.7 325.3,666.7 325.9,666.7 326.4,666.7 326.9,666.7 327.5,666.7 328.0,666.7 328.6,666.7 329.1,666.7 329.6,666.7 330.2,666.7 330.7,666.7 331.2,666.7 331.8,666.7 332.3,666.7 332.8,666.7 333.4,666.7 333.9,666.6 334.4,666.6 335.0,666.6 335.5,666.5 336.0,666.5 336.6,666.4 337.1,666.3 337.6,666.2 338.2,666.1 338.7,666.0 339.2,665.9 339.8,665.8 340.3,665.7 340.8,665.5 341.4,665.4 341.9,665.2 342.4,665.0 343.0,664.7 343.5,664.5 344.1,664.2 344.6,663.9 345.1,663.6 345.7,663.3 346.2,662.9 346.7,662.5 347.3,662.0 347.8,661.7 348.3,661.4 348.9,661.0 349.4,660.7 349.9,660.3 350.5,659.9 351.0,659.5 351.5,659.0 352.1,658.5 352.6,658.0 353.1,657.5 353.7,656.9 354.2,656.4 354.7,655.7 355.3,655.1 355.8,654.4 356.3,653.7 356.9,653.0 357.4,652.2 357.9,651.4 358.5,650.5 359.0,649.7 359.6,648.8 360.1,647.8 360.6,646.8 361.2,645.8 361.7,644.8 362.2,643.7 362.8,642.6 363.3,641.5 363.8,640.3 364.4,639.1 364.9,637.9 365.4,636.7 366.0,635.4 366.5,634.2 367.0,632.9 367.6,631.6 368.1,630.3 368.6,628.9 369.2,627.6 369.7,626.3 370.2,625.0 370.8,623.7 371.3,622.3 371.8,621.1 372.4,619.8 372.9,618.5 373.5,617.2 374.0,616.0 374.5,614.8 375.1,613.6 375.6,612.5 376.1,611.3 376.7,610.2 377.2,609.2 377.7,608.1 378.3,607.1 378.8,606.2 379.3,605.2 379.9,604.3 380.4,603.5 380.9,602.6 381.5,601.8 382.0,601.1 382.5,600.3 383.1,599.6 383.6,599.0 384.1,598.3 384.7,597.7 385.2,597.1 385.7,596.6 386.3,596.1 386.8,595.6 387.3,595.1 387.9,594.6 388.4,594.2 389.0,593.8 389.5,593.4 390.0,593.1 390.6,592.7 391.1,592.4 391.6,592.1 392.2,591.8 392.7,591.6 393.2,591.3 393.8,591.1 394.3,590.9 394.8,590.7 395.4,590.5 395.9,590.3 396.4,590.1 397.0,589.9 397.5,589.8 398.0,589.6 398.6,589.5 399.1,589.4 399.6,589.3 400.2,589.2 400.7,589.0 401.2,589.0 401.8,588.9 402.3,588.8 402.8,588.7 403.4,588.6 403.9,588.5 404.5,588.5 405.0,588.4 405.5,588.4 406.1,588.3 406.6,588.3 407.1,588.2 407.7,588.2 408.2,588.1 408.7,588.1 409.3,588.0 409.8,588.0 410.3,588.0 410.9,587.9 411.4,587.9 411.9,587.9 412.5,587.9 413.0,587.8 413.5,587.8 414.1,587.8 414.6,587.8 415.1,587.8 415.7,587.7 416.2,587.7 416.7,587.7 417.3,587.7 417.8,587.7 418.3,587.7 418.9,587.7 419.4,587.7 420.0,587.6 420.5,587.6 421.0,587.6 421.6,587.6 422.1,587.6 422.6,587.6 423.2,587.6 423.7,587.6 424.2,587.6 424.8,587.6 425.3,587.6 425.8,587.6 426.4,587.6 426.9,587.6 427.4,587.6 428.0,587.6 428.5,587.5 429.0,587.5 429.6,587.5 430.1,587.5 430.6,587.5 431.2,587.5 431.7,587.5 432.2,587.5 432.8,587.5 433.3,587.5 433.8,587.5 434.4,587.5 434.9,587.5 435.5,587.5 436.0,587.5 436.5,587.5 437.1,587.5 437.6,587.5 438.1,587.5 438.7,587.5 439.2,587.5 439.7,587.5 440.3,587.5 440.8,587.5 441.3,587.5 441.9,587.5 442.4,587.5 442.9,587.5 443.5,587.5 444.0,587.5 444.5,587.5 445.1,587.5 445.6,587.5 446.1,587.5 446.7,587.5 447.2,587.5 447.7,587.5 448.3,587.5 448.8,587.5 449.3,587.5 449.9,587.9 450.4,588.8 451.0,590.1 451.5,591.9 452.0,593.9 452.6,596.1 453.1,598.5 453.6,601.0 454.2,603.6 454.7,606.2 455.2,608.9 455.8,611.6 456.3,614.2 456.8,616.8 457.4,619.4 457.9,621.9 458.4,624.3 459.0,626.6 459.5,628.9 460.0,631.0 460.6,633.1 461.1,635.1 461.6,637.0 462.2,638.8 462.7,640.5 463.2,642.1 463.8,643.7 464.3,645.1 464.8,646.5 465.4,647.8 465.9,649.1 466.5,650.2 467.0,651.3 467.5,652.3 468.1,653.3 468.6,654.2 469.1,655.1 469.7,655.9 470.2,656.6 470.7,657.3 471.3,658.0 471.8,658.6 472.3,659.2 472.9,659.7 473.4,660.2 473.9,660.6 474.5,661.1 475.0,661.5 475.5,661.9 476.1,662.2 476.6,662.5 477.1,662.8 477.7,663.1 478.2,663.4 478.7,663.6 479.3,663.9 479.8,664.1 480.4,664.3 480.9,664.4 481.4,664.6 482.0,664.8 482.5,664.9 483.0,665.0 483.6,665.2 484.1,665.3 484.6,665.4 485.2,665.5 485.7,665.6 486.2,665.7 486.8,665.7 487.3,665.8 487.8,665.9 488.4,665.9 488.9,666.0 489.4,666.1 490.0,666.1 490.5,666.2 491.0,666.2 491.6,666.2 492.1,666.3 492.6,666.3 493.2,666.3 493.7,666.4 494.2,666.4 494.8,666.4 495.3,666.4 495.9,666.5 496.4,666.5 496.9,666.5 497.5,666.5 498.0,666.5 498.5,666.5 499.1,666.6 499.6,666.6 500.1,666.6 500.7,666.6 501.2,666.6 501.7,666.6 502.3,666.6 502.8,666.6 503.3,666.6 503.9,666.6 504.4,666.6 504.9,666.6 505.5,666.6 506.0,666.6 506.5,666.7 507.1,666.7 507.6,666.7 508.1,666.7 508.7,666.7 509.2,666.7 509.7,666.7 510.3,666.7 510.8,666.7 511.4,666.7 511.9,666.7 512.4,666.7 513.0,666.7 513.5,666.7 514.0,666.7 514.6,666.7 515.1,666.7 515.6,666.7 516.2,666.7 516.7,666.7 517.2,666.7 517.8,666.7 518.3,666.7" fill="none" stroke="#744a4a" stroke-width="1.15"/><polyline points="304.5,587.5 305.0,587.5 305.6,587.5 306.1,587.5 306.6,587.5 307.2,587.5 307.7,587.5 308.2,587.5 308.8,587.5 309.3,587.5 309.8,587.5 310.4,587.5 310.9,587.5 311.4,587.5 312.0,587.5 312.5,587.5 313.1,587.5 313.6,587.5 314.1,587.5 314.7,587.5 315.2,587.5 315.7,587.5 316.3,587.5 316.8,587.5 317.3,587.5 317.9,587.5 318.4,587.5 318.9,587.5 319.5,587.5 320.0,587.5 320.5,587.5 321.1,587.5 321.6,587.5 322.1,587.5 322.7,587.5 323.2,587.5 323.7,587.5 324.3,587.5 324.8,587.5 325.3,587.5 325.9,587.5 326.4,587.5 326.9,587.5 327.5,587.5 328.0,587.5 328.6,587.5 329.1,587.9 329.6,589.3 330.2,591.3 330.7,593.7 331.2,596.4 331.8,599.2 332.3,602.2 332.8,605.3 333.4,608.4 333.9,611.5 334.4,614.6 335.0,617.7 335.5,620.7 336.0,623.7 336.6,626.5 337.1,629.3 337.6,632.0 338.2,634.5 338.7,636.9 339.2,639.2 339.8,641.4 340.3,643.4 340.8,645.3 341.4,647.1 341.9,648.8 342.4,650.4 343.0,651.9 343.5,653.2 344.1,654.5 344.6,655.6 345.1,656.7 345.7,657.7 346.2,658.5 346.7,659.4 347.3,660.1 347.8,660.8 348.3,661.4 348.9,662.0 349.4,662.5 349.9,662.9 350.5,663.3 351.0,663.7 351.5,664.1 352.1,664.4 352.6,664.6 353.1,664.9 353.7,665.1 354.2,665.3 354.7,665.4 355.3,665.6 355.8,665.7 356.3,665.8 356.9,666.0 357.4,666.0 357.9,666.1 358.5,666.2 359.0,666.3 359.6,666.3 360.1,666.4 360.6,666.4 361.2,666.5 361.7,666.5 362.2,666.5 362.8,666.5 363.3,666.6 363.8,666.6 364.4,666.6 364.9,666.6 365.4,666.6 366.0,666.6 366.5,666.6 367.0,666.7 367.6,666.7 368.1,666.7 368.6,666.7 369.2,666.7 369.7,666.7 370.2,666.7 370.8,666.7 371.3,666.7 371.8,666.7 372.4,666.7 372.9,666.7 373.5,666.7 374.0,666.7 374.5,666.7 375.1,666.7 375.6,666.7 376.1,666.7 376.7,666.7 377.2,666.7 377.7,666.7 378.3,666.7 378.8,666.7 379.3,666.7 379.9,666.7 380.4,666.7 380.9,666.7 381.5,666.7 382.0,666.7 382.5,666.7 383.1,666.7 383.6,666.7 384.1,666.7 384.7,666.7 385.2,666.7 385.7,666.7 386.3,666.7 386.8,666.7 387.3,666.7 387.9,666.7 388.4,666.7 389.0,666.7 389.5,666.7 390.0,666.7 390.6,666.7 391.1,666.7 391.6,666.7 392.2,666.7 392.7,666.7 393.2,666.7 393.8,666.7 394.3,666.7 394.8,666.7 395.4,666.7 395.9,666.7 396.4,666.7 397.0,666.7 397.5,666.7 398.0,666.7 398.6,666.7 399.1,666.7 399.6,666.7 400.2,666.7 400.7,666.7 401.2,666.7 401.8,666.7 402.3,666.7 402.8,666.7 403.4,666.7 403.9,666.7 404.5,666.7 405.0,666.7 405.5,666.7 406.1,666.7 406.6,666.7 407.1,666.7 407.7,666.7 408.2,666.7 408.7,666.7 409.3,666.7 409.8,666.7 410.3,666.7 410.9,666.7 411.4,666.7 411.9,666.7 412.5,666.7 413.0,666.7 413.5,666.7 414.1,666.7 414.6,666.7 415.1,666.7 415.7,666.7 416.2,666.7 416.7,666.7 417.3,666.7 417.8,666.7 418.3,666.7 418.9,666.7 419.4,666.7 420.0,666.7 420.5,666.7 421.0,666.7 421.6,666.7 422.1,666.7 422.6,666.7 423.2,666.7 423.7,666.7 424.2,666.7 424.8,666.7 425.3,666.7 425.8,666.7 426.4,666.7 426.9,666.7 427.4,666.7 428.0,666.7 428.5,666.7 429.0,666.7 429.6,666.7 430.1,666.7 430.6,666.7 431.2,666.7 431.7,666.7 432.2,666.7 432.8,666.7 433.3,666.7 433.8,666.7 434.4,666.7 434.9,666.7 435.5,666.7 436.0,666.7 436.5,666.7 437.1,666.7 437.6,666.7 438.1,666.7 438.7,666.7 439.2,666.7 439.7,666.7 440.3,666.7 440.8,666.7 441.3,666.7 441.9,666.7 442.4,666.7 442.9,666.7 443.5,666.7 444.0,666.7 444.5,666.7 445.1,666.7 445.6,666.7 446.1,666.7 446.7,666.7 447.2,666.7 447.7,666.7 448.3,666.7 448.8,666.7 449.3,666.7 449.9,666.7 450.4,666.7 451.0,666.7 451.5,666.7 452.0,666.7 452.6,666.7 453.1,666.7 453.6,666.7 454.2,666.7 454.7,666.7 455.2,666.7 455.8,666.7 456.3,666.7 456.8,666.7 457.4,666.7 457.9,666.7 458.4,666.7 459.0,666.7 459.5,666.7 460.0,666.7 460.6,666.7 461.1,666.7 461.6,666.7 462.2,666.7 462.7,666.7 463.2,666.7 463.8,666.7 464.3,666.7 464.8,666.7 465.4,666.7 465.9,666.7 466.5,666.7 467.0,666.7 467.5,666.7 468.1,666.7 468.6,666.7 469.1,666.7 469.7,666.7 470.2,666.7 470.7,666.7 471.3,666.7 471.8,666.7 472.3,666.7 472.9,666.7 473.4,666.7 473.9,666.7 474.5,666.7 475.0,666.7 475.5,666.7 476.1,666.7 476.6,666.7 477.1,666.7 477.7,666.7 478.2,666.7 478.7,666.7 479.3,666.7 479.8,666.7 480.4,666.7 480.9,666.7 481.4,666.7 482.0,666.7 482.5,666.7 483.0,666.7 483.6,666.7 484.1,666.7 484.6,666.7 485.2,666.7 485.7,666.7 486.2,666.7 486.8,666.7 487.3,666.7 487.8,666.7 488.4,666.7 488.9,666.7 489.4,666.7 490.0,666.7 490.5,666.7 491.0,666.7 491.6,666.7 492.1,666.7 492.6,666.7 493.2,666.7 493.7,666.7 494.2,666.7 494.8,666.7 495.3,666.7 495.9,666.7 496.4,666.7 496.9,666.7 497.5,666.7 498.0,666.7 498.5,666.7 499.1,666.7 499.6,666.7 500.1,666.7 500.7,666.7 501.2,666.7 501.7,666.7 502.3,666.7 502.8,666.7 503.3,666.7 503.9,666.7 504.4,666.7 504.9,666.7 505.5,666.7 506.0,666.7 506.5,666.7 507.1,666.7 507.6,666.7 508.1,666.7 508.7,666.7 509.2,666.7 509.7,666.7 510.3,666.7 510.8,666.7 511.4,666.7 511.9,666.7 512.4,666.7 513.0,666.7 513.5,666.7 514.0,666.7 514.6,666.7 515.1,666.7 515.6,666.7 516.2,666.7 516.7,666.7 517.2,666.7 517.8,666.7 518.3,666.7" fill="none" stroke="#4a8a5c" stroke-width="1.15"/><polyline points="304.5,666.7 305.0,666.7 305.6,666.7 306.1,666.7 306.6,666.7 307.2,666.7 307.7,666.7 308.2,666.7 308.8,666.7 309.3,666.7 309.8,666.7 310.4,666.7 310.9,666.7 311.4,666.7 312.0,666.7 312.5,666.7 313.1,666.7 313.6,666.7 314.1,666.7 314.7,666.7 315.2,666.7 315.7,666.7 316.3,666.7 316.8,666.7 317.3,666.7 317.9,666.7 318.4,666.7 318.9,666.7 319.5,666.7 320.0,666.7 320.5,666.7 321.1,666.7 321.6,666.7 322.1,666.7 322.7,666.7 323.2,666.7 323.7,666.7 324.3,666.7 324.8,666.7 325.3,666.7 325.9,666.7 326.4,666.7 326.9,666.7 327.5,666.7 328.0,666.7 328.6,666.7 329.1,666.7 329.6,666.7 330.2,666.7 330.7,666.7 331.2,666.7 331.8,666.7 332.3,666.7 332.8,666.7 333.4,666.6 333.9,666.6 334.4,666.5 335.0,666.4 335.5,666.3 336.0,666.1 336.6,666.0 337.1,665.8 337.6,665.7 338.2,665.5 338.7,665.4 339.2,665.3 339.8,665.1 340.3,665.0 340.8,664.9 341.4,664.8 341.9,664.7 342.4,664.6 343.0,664.6 343.5,664.5 344.1,664.4 344.6,664.4 345.1,664.4 345.7,664.3 346.2,664.3 346.7,664.3 347.3,664.3 347.8,664.3 348.3,664.4 348.9,664.4 349.4,664.4 349.9,664.4 350.5,664.5 351.0,664.5 351.5,664.6 352.1,664.6 352.6,664.7 353.1,664.7 353.7,664.8 354.2,664.8 354.7,664.9 355.3,664.9 355.8,665.0 356.3,665.1 356.9,665.1 357.4,665.2 357.9,665.2 358.5,665.3 359.0,665.3 359.6,665.4 360.1,665.4 360.6,665.5 361.2,665.5 361.7,665.6 362.2,665.6 362.8,665.7 363.3,665.7 363.8,665.8 364.4,665.8 364.9,665.9 365.4,665.9 366.0,665.9 366.5,666.0 367.0,666.0 367.6,666.1 368.1,666.1 368.6,666.1 369.2,666.2 369.7,666.2 370.2,666.2 370.8,666.2 371.3,666.3 371.8,666.3 372.4,666.3 372.9,666.3 373.5,666.3 374.0,666.4 374.5,666.4 375.1,666.4 375.6,666.4 376.1,666.4 376.7,666.5 377.2,666.5 377.7,666.5 378.3,666.5 378.8,666.5 379.3,666.5 379.9,666.5 380.4,666.5 380.9,666.5 381.5,666.6 382.0,666.6 382.5,666.6 383.1,666.6 383.6,666.6 384.1,666.6 384.7,666.6 385.2,666.6 385.7,666.6 386.3,666.6 386.8,666.6 387.3,666.6 387.9,666.6 388.4,666.6 389.0,666.6 389.5,666.6 390.0,666.7 390.6,666.7 391.1,666.7 391.6,666.7 392.2,666.7 392.7,666.7 393.2,666.7 393.8,666.7 394.3,666.7 394.8,666.7 395.4,666.7 395.9,666.7 396.4,666.7 397.0,666.7 397.5,666.7 398.0,666.7 398.6,666.7 399.1,666.7 399.6,666.7 400.2,666.7 400.7,666.7 401.2,666.7 401.8,666.7 402.3,666.7 402.8,666.7 403.4,666.7 403.9,666.7 404.5,666.7 405.0,666.7 405.5,666.7 406.1,666.7 406.6,666.7 407.1,666.7 407.7,666.7 408.2,666.7 408.7,666.7 409.3,666.7 409.8,666.7 410.3,666.7 410.9,666.7 411.4,666.7 411.9,666.7 412.5,666.7 413.0,666.7 413.5,666.7 414.1,666.7 414.6,666.7 415.1,666.7 415.7,666.7 416.2,666.7 416.7,666.7 417.3,666.7 417.8,666.7 418.3,666.7 418.9,666.7 419.4,666.7 420.0,666.7 420.5,666.7 421.0,666.7 421.6,666.7 422.1,666.7 422.6,666.7 423.2,666.7 423.7,666.7 424.2,666.7 424.8,666.7 425.3,666.7 425.8,666.7 426.4,666.7 426.9,666.7 427.4,666.7 428.0,666.7 428.5,666.7 429.0,666.7 429.6,666.7 430.1,666.7 430.6,666.7 431.2,666.7 431.7,666.7 432.2,666.7 432.8,666.7 433.3,666.7 433.8,666.7 434.4,666.7 434.9,666.7 435.5,666.7 436.0,666.7 436.5,666.7 437.1,666.7 437.6,666.7 438.1,666.7 438.7,666.7 439.2,666.7 439.7,666.7 440.3,666.7 440.8,666.7 441.3,666.7 441.9,666.7 442.4,666.7 442.9,666.7 443.5,666.7 444.0,666.7 444.5,666.7 445.1,666.7 445.6,666.7 446.1,666.7 446.7,666.7 447.2,666.7 447.7,666.7 448.3,666.7 448.8,666.7 449.3,666.7 449.9,666.7 450.4,666.7 451.0,666.7 451.5,666.7 452.0,666.7 452.6,666.7 453.1,666.7 453.6,666.7 454.2,666.7 454.7,666.7 455.2,666.7 455.8,666.7 456.3,666.7 456.8,666.7 457.4,666.7 457.9,666.7 458.4,666.7 459.0,666.7 459.5,666.7 460.0,666.7 460.6,666.7 461.1,666.7 461.6,666.7 462.2,666.7 462.7,666.7 463.2,666.7 463.8,666.7 464.3,666.7 464.8,666.7 465.4,666.7 465.9,666.7 466.5,666.7 467.0,666.7 467.5,666.7 468.1,666.7 468.6,666.7 469.1,666.7 469.7,666.7 470.2,666.7 470.7,666.7 471.3,666.7 471.8,666.7 472.3,666.7 472.9,666.7 473.4,666.7 473.9,666.7 474.5,666.7 475.0,666.7 475.5,666.7 476.1,666.7 476.6,666.7 477.1,666.7 477.7,666.7 478.2,666.7 478.7,666.7 479.3,666.7 479.8,666.7 480.4,666.7 480.9,666.7 481.4,666.7 482.0,666.7 482.5,666.7 483.0,666.7 483.6,666.7 484.1,666.7 484.6,666.7 485.2,666.7 485.7,666.7 486.2,666.7 486.8,666.7 487.3,666.7 487.8,666.7 488.4,666.7 488.9,666.7 489.4,666.7 490.0,666.7 490.5,666.7 491.0,666.7 491.6,666.7 492.1,666.7 492.6,666.7 493.2,666.7 493.7,666.7 494.2,666.7 494.8,666.7 495.3,666.7 495.9,666.7 496.4,666.7 496.9,666.7 497.5,666.7 498.0,666.7 498.5,666.7 499.1,666.7 499.6,666.7 500.1,666.7 500.7,666.7 501.2,666.7 501.7,666.7 502.3,666.7 502.8,666.7 503.3,666.7 503.9,666.7 504.4,666.7 504.9,666.7 505.5,666.7 506.0,666.7 506.5,666.7 507.1,666.7 507.6,666.7 508.1,666.7 508.7,666.7 509.2,666.7 509.7,666.7 510.3,666.7 510.8,666.7 511.4,666.7 511.9,666.7 512.4,666.7 513.0,666.7 513.5,666.7 514.0,666.7 514.6,666.7 515.1,666.7 515.6,666.7 516.2,666.7 516.7,666.7 517.2,666.7 517.8,666.7 518.3,666.7" fill="none" stroke="#e6805e" stroke-width="1.15"/><polyline points="304.5,666.7 305.0,666.7 305.6,666.7 306.1,666.7 306.6,666.7 307.2,666.7 307.7,666.7 308.2,666.7 308.8,666.7 309.3,666.7 309.8,666.7 310.4,666.7 310.9,666.7 311.4,666.7 312.0,666.7 312.5,666.7 313.1,666.7 313.6,666.7 314.1,666.7 314.7,666.7 315.2,666.7 315.7,666.7 316.3,666.7 316.8,666.7 317.3,666.7 317.9,666.7 318.4,666.7 318.9,666.7 319.5,666.7 320.0,666.7 320.5,666.7 321.1,666.7 321.6,666.7 322.1,666.7 322.7,666.7 323.2,666.7 323.7,666.7 324.3,666.7 324.8,666.7 325.3,666.7 325.9,666.7 326.4,666.7 326.9,666.7 327.5,666.7 328.0,666.7 328.6,666.7 329.1,666.7 329.6,666.7 330.2,666.7 330.7,666.7 331.2,666.7 331.8,666.7 332.3,666.7 332.8,666.7 333.4,666.7 333.9,666.7 334.4,666.7 335.0,666.7 335.5,666.6 336.0,666.4 336.6,666.1 337.1,665.6 337.6,665.0 338.2,664.2 338.7,663.3 339.2,662.2 339.8,661.0 340.3,659.7 340.8,658.2 341.4,656.7 341.9,655.1 342.4,653.4 343.0,651.7 343.5,650.0 344.1,648.2 344.6,646.4 345.1,644.6 345.7,642.8 346.2,641.1 346.7,639.4 347.3,637.7 347.8,636.1 348.3,634.6 348.9,633.1 349.4,631.7 349.9,630.4 350.5,629.2 351.0,628.0 351.5,626.9 352.1,626.0 352.6,625.1 353.1,624.3 353.7,623.5 354.2,622.9 354.7,622.4 355.3,621.9 355.8,621.5 356.3,621.2 356.9,621.0 357.4,620.8 357.9,620.8 358.5,620.8 359.0,620.8 359.6,621.0 360.1,621.2 360.6,621.4 361.2,621.7 361.7,622.0 362.2,622.4 362.8,622.9 363.3,623.4 363.8,623.9 364.4,624.5 364.9,625.0 365.4,625.7 366.0,626.3 366.5,627.0 367.0,627.7 367.6,628.4 368.1,629.1 368.6,629.8 369.2,630.6 369.7,631.3 370.2,632.1 370.8,632.9 371.3,633.7 371.8,634.4 372.4,635.2 372.9,636.0 373.5,636.8 374.0,637.5 374.5,638.3 375.1,639.1 375.6,639.8 376.1,640.6 376.7,641.3 377.2,642.1 377.7,642.8 378.3,643.5 378.8,644.2 379.3,644.9 379.9,645.6 380.4,646.2 380.9,646.9 381.5,647.5 382.0,648.1 382.5,648.7 383.1,649.3 383.6,649.9 384.1,650.5 384.7,651.0 385.2,651.6 385.7,652.1 386.3,652.6 386.8,653.1 387.3,653.6 387.9,654.1 388.4,654.5 389.0,655.0 389.5,655.4 390.0,655.8 390.6,656.2 391.1,656.6 391.6,657.0 392.2,657.4 392.7,657.7 393.2,658.1 393.8,658.4 394.3,658.8 394.8,659.1 395.4,659.4 395.9,659.7 396.4,659.9 397.0,660.2 397.5,660.5 398.0,660.7 398.6,661.0 399.1,661.2 399.6,661.4 400.2,661.7 400.7,661.9 401.2,662.1 401.8,662.3 402.3,662.5 402.8,662.6 403.4,662.8 403.9,663.0 404.5,663.1 405.0,663.3 405.5,663.4 406.1,663.6 406.6,663.7 407.1,663.8 407.7,664.0 408.2,664.1 408.7,664.2 409.3,664.3 409.8,664.4 410.3,664.5 410.9,664.6 411.4,664.7 411.9,664.8 412.5,664.9 413.0,665.0 413.5,665.0 414.1,665.1 414.6,665.2 415.1,665.3 415.7,665.3 416.2,665.4 416.7,665.5 417.3,665.5 417.8,665.6 418.3,665.6 418.9,665.7 419.4,665.7 420.0,665.8 420.5,665.8 421.0,665.8 421.6,665.9 422.1,665.9 422.6,666.0 423.2,666.0 423.7,666.0 424.2,666.1 424.8,666.1 425.3,666.1 425.8,666.2 426.4,666.2 426.9,666.2 427.4,666.2 428.0,666.3 428.5,666.3 429.0,666.3 429.6,666.3 430.1,666.3 430.6,666.3 431.2,666.4 431.7,666.4 432.2,666.4 432.8,666.4 433.3,666.4 433.8,666.4 434.4,666.5 434.9,666.5 435.5,666.5 436.0,666.5 436.5,666.5 437.1,666.5 437.6,666.5 438.1,666.5 438.7,666.5 439.2,666.5 439.7,666.6 440.3,666.6 440.8,666.6 441.3,666.6 441.9,666.6 442.4,666.6 442.9,666.6 443.5,666.6 444.0,666.6 444.5,666.6 445.1,666.6 445.6,666.6 446.1,666.6 446.7,666.6 447.2,666.6 447.7,666.6 448.3,666.6 448.8,666.6 449.3,666.6 449.9,666.6 450.4,666.6 451.0,666.7 451.5,666.7 452.0,666.7 452.6,666.7 453.1,666.7 453.6,666.7 454.2,666.7 454.7,666.7 455.2,666.7 455.8,666.7 456.3,666.7 456.8,666.7 457.4,666.7 457.9,666.7 458.4,666.7 459.0,666.7 459.5,666.7 460.0,666.7 460.6,666.7 461.1,666.7 461.6,666.7 462.2,666.7 462.7,666.7 463.2,666.7 463.8,666.7 464.3,666.7 464.8,666.7 465.4,666.7 465.9,666.7 466.5,666.7 467.0,666.7 467.5,666.7 468.1,666.7 468.6,666.7 469.1,666.7 469.7,666.7 470.2,666.7 470.7,666.7 471.3,666.7 471.8,666.7 472.3,666.7 472.9,666.7 473.4,666.7 473.9,666.7 474.5,666.7 475.0,666.7 475.5,666.7 476.1,666.7 476.6,666.7 477.1,666.7 477.7,666.7 478.2,666.7 478.7,666.7 479.3,666.7 479.8,666.7 480.4,666.7 480.9,666.7 481.4,666.7 482.0,666.7 482.5,666.7 483.0,666.7 483.6,666.7 484.1,666.7 484.6,666.7 485.2,666.7 485.7,666.7 486.2,666.7 486.8,666.7 487.3,666.7 487.8,666.7 488.4,666.7 488.9,666.7 489.4,666.7 490.0,666.7 490.5,666.7 491.0,666.7 491.6,666.7 492.1,666.7 492.6,666.7 493.2,666.7 493.7,666.7 494.2,666.7 494.8,666.7 495.3,666.7 495.9,666.7 496.4,666.7 496.9,666.7 497.5,666.7 498.0,666.7 498.5,666.7 499.1,666.7 499.6,666.7 500.1,666.7 500.7,666.7 501.2,666.7 501.7,666.7 502.3,666.7 502.8,666.7 503.3,666.7 503.9,666.7 504.4,666.7 504.9,666.7 505.5,666.7 506.0,666.7 506.5,666.7 507.1,666.7 507.6,666.7 508.1,666.7 508.7,666.7 509.2,666.7 509.7,666.7 510.3,666.7 510.8,666.7 511.4,666.7 511.9,666.7 512.4,666.7 513.0,666.7 513.5,666.7 514.0,666.7 514.6,666.7 515.1,666.7 515.6,666.7 516.2,666.7 516.7,666.7 517.2,666.7 517.8,666.7 518.3,666.7" fill="none" stroke="#3434a8" stroke-width="1.15"/><polyline points="304.5,666.7 305.0,666.7 305.6,666.7 306.1,666.7 306.6,666.7 307.2,666.7 307.7,666.7 308.2,666.7 308.8,666.7 309.3,666.7 309.8,666.7 310.4,666.7 310.9,666.7 311.4,666.7 312.0,666.7 312.5,666.7 313.1,666.7 313.6,666.7 314.1,666.7 314.7,666.7 315.2,666.7 315.7,666.7 316.3,666.7 316.8,666.7 317.3,666.7 317.9,666.7 318.4,666.7 318.9,666.7 319.5,666.7 320.0,666.7 320.5,666.7 321.1,666.7 321.6,666.7 322.1,666.7 322.7,666.7 323.2,666.7 323.7,666.7 324.3,666.7 324.8,666.7 325.3,666.7 325.9,666.7 326.4,666.7 326.9,666.7 327.5,666.7 328.0,666.7 328.6,666.7 329.1,666.7 329.6,666.4 330.2,665.7 330.7,664.4 331.2,662.6 331.8,660.4 332.3,658.0 332.8,655.4 333.4,652.9 333.9,650.5 334.4,648.3 335.0,646.4 335.5,644.8 336.0,643.5 336.6,642.5 337.1,641.8 337.6,641.5 338.2,641.4 338.7,641.5 339.2,641.9 339.8,642.4 340.3,643.1 340.8,644.0 341.4,644.9 341.9,645.9 342.4,647.0 343.0,648.0 343.5,649.2 344.1,650.3 344.6,651.4 345.1,652.4 345.7,653.5 346.2,654.5 346.7,655.4 347.3,656.3 347.8,657.2 348.3,658.0 348.9,658.8 349.4,659.5 349.9,660.1 350.5,660.7 351.0,661.3 351.5,661.8 352.1,662.3 352.6,662.7 353.1,663.1 353.7,663.5 354.2,663.8 354.7,664.1 355.3,664.4 355.8,664.6 356.3,664.9 356.9,665.1 357.4,665.2 357.9,665.4 358.5,665.5 359.0,665.7 359.6,665.8 360.1,665.9 360.6,666.0 361.2,666.1 361.7,666.1 362.2,666.2 362.8,666.3 363.3,666.3 363.8,666.4 364.4,666.4 364.9,666.4 365.4,666.5 366.0,666.5 366.5,666.5 367.0,666.5 367.6,666.6 368.1,666.6 368.6,666.6 369.2,666.6 369.7,666.6 370.2,666.6 370.8,666.6 371.3,666.6 371.8,666.7 372.4,666.7 372.9,666.7 373.5,666.7 374.0,666.7 374.5,666.7 375.1,666.7 375.6,666.7 376.1,666.7 376.7,666.7 377.2,666.7 377.7,666.7 378.3,666.7 378.8,666.7 379.3,666.7 379.9,666.7 380.4,666.7 380.9,666.7 381.5,666.7 382.0,666.7 382.5,666.7 383.1,666.7 383.6,666.7 384.1,666.7 384.7,666.7 385.2,666.7 385.7,666.7 386.3,666.7 386.8,666.7 387.3,666.7 387.9,666.7 388.4,666.7 389.0,666.7 389.5,666.7 390.0,666.7 390.6,666.7 391.1,666.7 391.6,666.7 392.2,666.7 392.7,666.7 393.2,666.7 393.8,666.7 394.3,666.7 394.8,666.7 395.4,666.7 395.9,666.7 396.4,666.7 397.0,666.7 397.5,666.7 398.0,666.7 398.6,666.7 399.1,666.7 399.6,666.7 400.2,666.7 400.7,666.7 401.2,666.7 401.8,666.7 402.3,666.7 402.8,666.7 403.4,666.7 403.9,666.7 404.5,666.7 405.0,666.7 405.5,666.7 406.1,666.7 406.6,666.7 407.1,666.7 407.7,666.7 408.2,666.7 408.7,666.7 409.3,666.7 409.8,666.7 410.3,666.7 410.9,666.7 411.4,666.7 411.9,666.7 412.5,666.7 413.0,666.7 413.5,666.7 414.1,666.7 414.6,666.7 415.1,666.7 415.7,666.7 416.2,666.7 416.7,666.7 417.3,666.7 417.8,666.7 418.3,666.7 418.9,666.7 419.4,666.7 420.0,666.7 420.5,666.7 421.0,666.7 421.6,666.7 422.1,666.7 422.6,666.7 423.2,666.7 423.7,666.7 424.2,666.7 424.8,666.7 425.3,666.7 425.8,666.7 426.4,666.7 426.9,666.7 427.4,666.7 428.0,666.7 428.5,666.7 429.0,666.7 429.6,666.7 430.1,666.7 430.6,666.7 431.2,666.7 431.7,666.7 432.2,666.7 432.8,666.7 433.3,666.7 433.8,666.7 434.4,666.7 434.9,666.7 435.5,666.7 436.0,666.7 436.5,666.7 437.1,666.7 437.6,666.7 438.1,666.7 438.7,666.7 439.2,666.7 439.7,666.7 440.3,666.7 440.8,666.7 441.3,666.7 441.9,666.7 442.4,666.7 442.9,666.7 443.5,666.7 444.0,666.7 444.5,666.7 445.1,666.7 445.6,666.7 446.1,666.7 446.7,666.7 447.2,666.7 447.7,666.7 448.3,666.7 448.8,666.7 449.3,666.7 449.9,666.7 450.4,666.7 451.0,666.7 451.5,666.7 452.0,666.7 452.6,666.7 453.1,666.7 453.6,666.7 454.2,666.7 454.7,666.7 455.2,666.7 455.8,666.7 456.3,666.7 456.8,666.7 457.4,666.7 457.9,666.7 458.4,666.7 459.0,666.7 459.5,666.7 460.0,666.7 460.6,666.7 461.1,666.7 461.6,666.7 462.2,666.7 462.7,666.7 463.2,666.7 463.8,666.7 464.3,666.7 464.8,666.7 465.4,666.7 465.9,666.7 466.5,666.7 467.0,666.7 467.5,666.7 468.1,666.7 468.6,666.7 469.1,666.7 469.7,666.7 470.2,666.7 470.7,666.7 471.3,666.7 471.8,666.7 472.3,666.7 472.9,666.7 473.4,666.7 473.9,666.7 474.5,666.7 475.0,666.7 475.5,666.7 476.1,666.7 476.6,666.7 477.1,666.7 477.7,666.7 478.2,666.7 478.7,666.7 479.3,666.7 479.8,666.7 480.4,666.7 480.9,666.7 481.4,666.7 482.0,666.7 482.5,666.7 483.0,666.7 483.6,666.7 484.1,666.7 484.6,666.7 485.2,666.7 485.7,666.7 486.2,666.7 486.8,666.7 487.3,666.7 487.8,666.7 488.4,666.7 488.9,666.7 489.4,666.7 490.0,666.7 490.5,666.7 491.0,666.7 491.6,666.7 492.1,666.7 492.6,666.7 493.2,666.7 493.7,666.7 494.2,666.7 494.8,666.7 495.3,666.7 495.9,666.7 496.4,666.7 496.9,666.7 497.5,666.7 498.0,666.7 498.5,666.7 499.1,666.7 499.6,666.7 500.1,666.7 500.7,666.7 501.2,666.7 501.7,666.7 502.3,666.7 502.8,666.7 503.3,666.7 503.9,666.7 504.4,666.7 504.9,666.7 505.5,666.7 506.0,666.7 506.5,666.7 507.1,666.7 507.6,666.7 508.1,666.7 508.7,666.7 509.2,666.7 509.7,666.7 510.3,666.7 510.8,666.7 511.4,666.7 511.9,666.7 512.4,666.7 513.0,666.7 513.5,666.7 514.0,666.7 514.6,666.7 515.1,666.7 515.6,666.7 516.2,666.7 516.7,666.7 517.2,666.7 517.8,666.7 518.3,666.7" fill="none" stroke="#5278b8" stroke-width="1.15"/><line x1="305.0" y1="666.5" x2="517.8" y2="666.5" stroke="#8484c8" stroke-width="1.3"/><line x1="304.5" y1="587.5" x2="518.3" y2="587.5" stroke="#8a8a8a" stroke-width="1.1" stroke-opacity="0.75"/><line x1="304.5" y1="587.5" x2="304.5" y2="666.7" stroke="#9a5c5c" stroke-width="1.2"/><path d="M313.4,578.0L319.0,578.0L316.2,587.3Z" fill="#e43a4c"/><text x="317.4" y="576.6" text-anchor="middle" font-size="9.6" font-weight="bold" fill="#111" font-family="Liberation Sans, sans-serif">GF</text><path d="M326.0,578.0L331.6,578.0L328.8,587.3Z" fill="#e43a4c"/><text x="330.0" y="576.6" text-anchor="middle" font-size="9.6" font-weight="bold" fill="#111" font-family="Liberation Sans, sans-serif">IF</text><path d="M446.5,579.0L452.1,579.0L449.3,587.3Z" fill="#e43a4c"/><text x="450.1" y="577.6" text-anchor="middle" font-size="9.6" font-weight="bold" fill="#111" font-family="Liberation Sans, sans-serif">ECM</text><text x="488.2" y="609.0" text-anchor="end" font-size="9" fill="#222" font-family="Liberation Sans, sans-serif">E1</text><line x1="493.2" y1="605.8" x2="516.5" y2="605.8" stroke="#4a8a5c" stroke-width="1.4"/><text x="488.2" y="617.9" text-anchor="end" font-size="9" fill="#222" font-family="Liberation Sans, sans-serif">H2</text><line x1="493.2" y1="614.7" x2="516.5" y2="614.7" stroke="#3434a8" stroke-width="1.4"/><text x="488.2" y="626.8" text-anchor="end" font-size="9" fill="#222" font-family="Liberation Sans, sans-serif">M2</text><line x1="493.2" y1="623.6" x2="516.5" y2="623.6" stroke="#744a4a" stroke-width="1.4"/><text x="488.2" y="635.7" text-anchor="end" font-size="9" fill="#222" font-family="Liberation Sans, sans-serif">M3</text><line x1="493.2" y1="632.5" x2="516.5" y2="632.5" stroke="#302626" stroke-width="1.4"/><text x="488.2" y="644.6" text-anchor="end" font-size="9" fill="#222" font-family="Liberation Sans, sans-serif">M1</text><line x1="493.2" y1="641.4" x2="516.5" y2="641.4" stroke="#e6805e" stroke-width="1.4"/><text x="488.2" y="653.5" text-anchor="end" font-size="9" fill="#222" font-family="Liberation Sans, sans-serif">H1</text><line x1="493.2" y1="650.3" x2="516.5" y2="650.3" stroke="#5278b8" stroke-width="1.4"/></svg></body></html>
